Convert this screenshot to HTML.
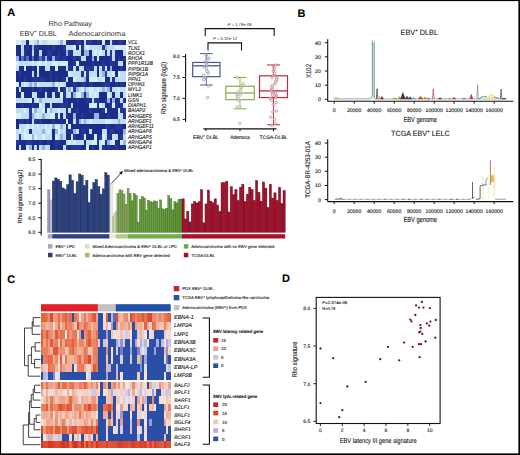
<!DOCTYPE html>
<html><head><meta charset="utf-8"><style>
html,body{margin:0;padding:0;background:#fff;}
svg{display:block;font-family:"Liberation Sans",sans-serif;text-rendering:geometricPrecision;}
text{stroke:#222;stroke-width:0.22px;stroke-opacity:0.6}
</style></head><body>
<svg width="520" height="455" viewBox="0 0 520 455" shape-rendering="auto">
<rect width="520" height="455" fill="#fff"/>
<text x="7.20" y="16.20" font-size="11" fill="#000" text-anchor="start" font-weight="bold">A</text>
<text x="297.50" y="17.00" font-size="11" fill="#000" text-anchor="start" font-weight="bold">B</text>
<text x="7.20" y="282.50" font-size="11" fill="#000" text-anchor="start" font-weight="bold">C</text>
<text x="282.00" y="281.80" font-size="11" fill="#000" text-anchor="start" font-weight="bold">D</text>
<text x="48.60" y="25.70" font-size="7.2" fill="#333" text-anchor="start" textLength="43.30" lengthAdjust="spacingAndGlyphs" style="stroke:none">Rho Pathway</text>
<text x="19.80" y="35.60" font-size="7.2" fill="#333" text-anchor="start" style="stroke:none">EBV<tspan font-size="4.5" dy="-2.5">+</tspan><tspan dy="2.5"> DLBL</tspan></text>
<text x="68.40" y="35.60" font-size="7.2" fill="#333" text-anchor="start" textLength="57.00" lengthAdjust="spacingAndGlyphs" style="stroke:none">Adenocarcinoma</text>
<rect x="16.00" y="40.00" width="2.66" height="5.29" fill="#d6eef9" shape-rendering="crispEdges"/>
<rect x="18.61" y="40.00" width="2.66" height="5.29" fill="#d6eef9" shape-rendering="crispEdges"/>
<rect x="21.21" y="40.00" width="2.66" height="5.29" fill="#c0def4" shape-rendering="crispEdges"/>
<rect x="23.82" y="40.00" width="2.66" height="5.29" fill="#c0def4" shape-rendering="crispEdges"/>
<rect x="26.42" y="40.00" width="2.66" height="5.29" fill="#1c2c88" shape-rendering="crispEdges"/>
<rect x="29.03" y="40.00" width="2.66" height="5.29" fill="#d6eef9" shape-rendering="crispEdges"/>
<rect x="31.63" y="40.00" width="2.66" height="5.29" fill="#d6eef9" shape-rendering="crispEdges"/>
<rect x="34.24" y="40.00" width="2.66" height="5.29" fill="#c0def4" shape-rendering="crispEdges"/>
<rect x="36.84" y="40.00" width="2.66" height="5.29" fill="#94b4e2" shape-rendering="crispEdges"/>
<rect x="39.45" y="40.00" width="2.66" height="5.29" fill="#d6eef9" shape-rendering="crispEdges"/>
<rect x="42.05" y="40.00" width="2.66" height="5.29" fill="#c0def4" shape-rendering="crispEdges"/>
<rect x="44.66" y="40.00" width="2.66" height="5.29" fill="#c0def4" shape-rendering="crispEdges"/>
<rect x="47.26" y="40.00" width="2.66" height="5.29" fill="#d6eef9" shape-rendering="crispEdges"/>
<rect x="49.87" y="40.00" width="2.66" height="5.29" fill="#d6eef9" shape-rendering="crispEdges"/>
<rect x="52.47" y="40.00" width="2.66" height="5.29" fill="#d6eef9" shape-rendering="crispEdges"/>
<rect x="55.08" y="40.00" width="2.66" height="5.29" fill="#d6eef9" shape-rendering="crispEdges"/>
<rect x="57.68" y="40.00" width="2.66" height="5.29" fill="#c0def4" shape-rendering="crispEdges"/>
<rect x="60.29" y="40.00" width="2.66" height="5.29" fill="#94b4e2" shape-rendering="crispEdges"/>
<rect x="62.89" y="40.00" width="2.66" height="5.29" fill="#d6eef9" shape-rendering="crispEdges"/>
<rect x="65.50" y="40.00" width="2.66" height="5.29" fill="#24379a" shape-rendering="crispEdges"/>
<rect x="68.11" y="40.00" width="2.66" height="5.29" fill="#1c2c88" shape-rendering="crispEdges"/>
<rect x="70.72" y="40.00" width="2.66" height="5.29" fill="#1c2c88" shape-rendering="crispEdges"/>
<rect x="73.33" y="40.00" width="2.66" height="5.29" fill="#1c2c88" shape-rendering="crispEdges"/>
<rect x="75.93" y="40.00" width="2.66" height="5.29" fill="#24379a" shape-rendering="crispEdges"/>
<rect x="78.54" y="40.00" width="2.66" height="5.29" fill="#24379a" shape-rendering="crispEdges"/>
<rect x="81.15" y="40.00" width="2.66" height="5.29" fill="#1c2c88" shape-rendering="crispEdges"/>
<rect x="83.76" y="40.00" width="2.66" height="5.29" fill="#c0def4" shape-rendering="crispEdges"/>
<rect x="86.37" y="40.00" width="2.66" height="5.29" fill="#24379a" shape-rendering="crispEdges"/>
<rect x="88.98" y="40.00" width="2.66" height="5.29" fill="#24379a" shape-rendering="crispEdges"/>
<rect x="91.59" y="40.00" width="2.66" height="5.29" fill="#1c2c88" shape-rendering="crispEdges"/>
<rect x="94.20" y="40.00" width="2.66" height="5.29" fill="#1c2c88" shape-rendering="crispEdges"/>
<rect x="96.80" y="40.00" width="2.66" height="5.29" fill="#24379a" shape-rendering="crispEdges"/>
<rect x="99.41" y="40.00" width="2.66" height="5.29" fill="#1c2c88" shape-rendering="crispEdges"/>
<rect x="102.02" y="40.00" width="2.66" height="5.29" fill="#d6eef9" shape-rendering="crispEdges"/>
<rect x="104.63" y="40.00" width="2.66" height="5.29" fill="#1c2c88" shape-rendering="crispEdges"/>
<rect x="107.24" y="40.00" width="2.66" height="5.29" fill="#1c2c88" shape-rendering="crispEdges"/>
<rect x="109.85" y="40.00" width="2.66" height="5.29" fill="#c0def4" shape-rendering="crispEdges"/>
<rect x="112.46" y="40.00" width="2.66" height="5.29" fill="#24379a" shape-rendering="crispEdges"/>
<rect x="115.07" y="40.00" width="2.66" height="5.29" fill="#1c2c88" shape-rendering="crispEdges"/>
<rect x="117.67" y="40.00" width="2.66" height="5.29" fill="#24379a" shape-rendering="crispEdges"/>
<rect x="120.28" y="40.00" width="2.66" height="5.29" fill="#24379a" shape-rendering="crispEdges"/>
<rect x="122.89" y="40.00" width="2.66" height="5.29" fill="#1c2c88" shape-rendering="crispEdges"/>
<text x="0" y="44.34" font-size="5.5" fill="#1a1a1a" font-style="italic" transform="translate(128.0,0) scale(0.9,1)">VCL</text>
<rect x="16.00" y="45.24" width="2.66" height="5.29" fill="#1c2c88" shape-rendering="crispEdges"/>
<rect x="18.61" y="45.24" width="2.66" height="5.29" fill="#1c2c88" shape-rendering="crispEdges"/>
<rect x="21.21" y="45.24" width="2.66" height="5.29" fill="#c0def4" shape-rendering="crispEdges"/>
<rect x="23.82" y="45.24" width="2.66" height="5.29" fill="#1c2c88" shape-rendering="crispEdges"/>
<rect x="26.42" y="45.24" width="2.66" height="5.29" fill="#24379a" shape-rendering="crispEdges"/>
<rect x="29.03" y="45.24" width="2.66" height="5.29" fill="#1c2c88" shape-rendering="crispEdges"/>
<rect x="31.63" y="45.24" width="2.66" height="5.29" fill="#94b4e2" shape-rendering="crispEdges"/>
<rect x="34.24" y="45.24" width="2.66" height="5.29" fill="#24379a" shape-rendering="crispEdges"/>
<rect x="36.84" y="45.24" width="2.66" height="5.29" fill="#24379a" shape-rendering="crispEdges"/>
<rect x="39.45" y="45.24" width="2.66" height="5.29" fill="#1c2c88" shape-rendering="crispEdges"/>
<rect x="42.05" y="45.24" width="2.66" height="5.29" fill="#1c2c88" shape-rendering="crispEdges"/>
<rect x="44.66" y="45.24" width="2.66" height="5.29" fill="#1c2c88" shape-rendering="crispEdges"/>
<rect x="47.26" y="45.24" width="2.66" height="5.29" fill="#1c2c88" shape-rendering="crispEdges"/>
<rect x="49.87" y="45.24" width="2.66" height="5.29" fill="#1c2c88" shape-rendering="crispEdges"/>
<rect x="52.47" y="45.24" width="2.66" height="5.29" fill="#24379a" shape-rendering="crispEdges"/>
<rect x="55.08" y="45.24" width="2.66" height="5.29" fill="#1c2c88" shape-rendering="crispEdges"/>
<rect x="57.68" y="45.24" width="2.66" height="5.29" fill="#1c2c88" shape-rendering="crispEdges"/>
<rect x="60.29" y="45.24" width="2.66" height="5.29" fill="#1c2c88" shape-rendering="crispEdges"/>
<rect x="62.89" y="45.24" width="2.66" height="5.29" fill="#24379a" shape-rendering="crispEdges"/>
<rect x="65.50" y="45.24" width="2.66" height="5.29" fill="#c0def4" shape-rendering="crispEdges"/>
<rect x="68.11" y="45.24" width="2.66" height="5.29" fill="#c0def4" shape-rendering="crispEdges"/>
<rect x="70.72" y="45.24" width="2.66" height="5.29" fill="#c0def4" shape-rendering="crispEdges"/>
<rect x="73.33" y="45.24" width="2.66" height="5.29" fill="#d6eef9" shape-rendering="crispEdges"/>
<rect x="75.93" y="45.24" width="2.66" height="5.29" fill="#1c2c88" shape-rendering="crispEdges"/>
<rect x="78.54" y="45.24" width="2.66" height="5.29" fill="#d6eef9" shape-rendering="crispEdges"/>
<rect x="81.15" y="45.24" width="2.66" height="5.29" fill="#24379a" shape-rendering="crispEdges"/>
<rect x="83.76" y="45.24" width="2.66" height="5.29" fill="#c0def4" shape-rendering="crispEdges"/>
<rect x="86.37" y="45.24" width="2.66" height="5.29" fill="#d6eef9" shape-rendering="crispEdges"/>
<rect x="88.98" y="45.24" width="2.66" height="5.29" fill="#c0def4" shape-rendering="crispEdges"/>
<rect x="91.59" y="45.24" width="2.66" height="5.29" fill="#c0def4" shape-rendering="crispEdges"/>
<rect x="94.20" y="45.24" width="2.66" height="5.29" fill="#c0def4" shape-rendering="crispEdges"/>
<rect x="96.80" y="45.24" width="2.66" height="5.29" fill="#c0def4" shape-rendering="crispEdges"/>
<rect x="99.41" y="45.24" width="2.66" height="5.29" fill="#c0def4" shape-rendering="crispEdges"/>
<rect x="102.02" y="45.24" width="2.66" height="5.29" fill="#24379a" shape-rendering="crispEdges"/>
<rect x="104.63" y="45.24" width="2.66" height="5.29" fill="#94b4e2" shape-rendering="crispEdges"/>
<rect x="107.24" y="45.24" width="2.66" height="5.29" fill="#c0def4" shape-rendering="crispEdges"/>
<rect x="109.85" y="45.24" width="2.66" height="5.29" fill="#c0def4" shape-rendering="crispEdges"/>
<rect x="112.46" y="45.24" width="2.66" height="5.29" fill="#c0def4" shape-rendering="crispEdges"/>
<rect x="115.07" y="45.24" width="2.66" height="5.29" fill="#d6eef9" shape-rendering="crispEdges"/>
<rect x="117.67" y="45.24" width="2.66" height="5.29" fill="#d6eef9" shape-rendering="crispEdges"/>
<rect x="120.28" y="45.24" width="2.66" height="5.29" fill="#d6eef9" shape-rendering="crispEdges"/>
<rect x="122.89" y="45.24" width="2.66" height="5.29" fill="#d6eef9" shape-rendering="crispEdges"/>
<text x="0" y="49.58" font-size="5.5" fill="#1a1a1a" font-style="italic" transform="translate(128.0,0) scale(0.9,1)">TLN1</text>
<rect x="16.00" y="50.48" width="2.66" height="5.29" fill="#1c2c88" shape-rendering="crispEdges"/>
<rect x="18.61" y="50.48" width="2.66" height="5.29" fill="#1c2c88" shape-rendering="crispEdges"/>
<rect x="21.21" y="50.48" width="2.66" height="5.29" fill="#c0def4" shape-rendering="crispEdges"/>
<rect x="23.82" y="50.48" width="2.66" height="5.29" fill="#24379a" shape-rendering="crispEdges"/>
<rect x="26.42" y="50.48" width="2.66" height="5.29" fill="#1c2c88" shape-rendering="crispEdges"/>
<rect x="29.03" y="50.48" width="2.66" height="5.29" fill="#1c2c88" shape-rendering="crispEdges"/>
<rect x="31.63" y="50.48" width="2.66" height="5.29" fill="#c0def4" shape-rendering="crispEdges"/>
<rect x="34.24" y="50.48" width="2.66" height="5.29" fill="#1c2c88" shape-rendering="crispEdges"/>
<rect x="36.84" y="50.48" width="2.66" height="5.29" fill="#1c2c88" shape-rendering="crispEdges"/>
<rect x="39.45" y="50.48" width="2.66" height="5.29" fill="#c0def4" shape-rendering="crispEdges"/>
<rect x="42.05" y="50.48" width="2.66" height="5.29" fill="#1c2c88" shape-rendering="crispEdges"/>
<rect x="44.66" y="50.48" width="2.66" height="5.29" fill="#1c2c88" shape-rendering="crispEdges"/>
<rect x="47.26" y="50.48" width="2.66" height="5.29" fill="#24379a" shape-rendering="crispEdges"/>
<rect x="49.87" y="50.48" width="2.66" height="5.29" fill="#24379a" shape-rendering="crispEdges"/>
<rect x="52.47" y="50.48" width="2.66" height="5.29" fill="#1c2c88" shape-rendering="crispEdges"/>
<rect x="55.08" y="50.48" width="2.66" height="5.29" fill="#1c2c88" shape-rendering="crispEdges"/>
<rect x="57.68" y="50.48" width="2.66" height="5.29" fill="#24379a" shape-rendering="crispEdges"/>
<rect x="60.29" y="50.48" width="2.66" height="5.29" fill="#1c2c88" shape-rendering="crispEdges"/>
<rect x="62.89" y="50.48" width="2.66" height="5.29" fill="#1c2c88" shape-rendering="crispEdges"/>
<rect x="65.50" y="50.48" width="2.66" height="5.29" fill="#94b4e2" shape-rendering="crispEdges"/>
<rect x="68.11" y="50.48" width="2.66" height="5.29" fill="#24379a" shape-rendering="crispEdges"/>
<rect x="70.72" y="50.48" width="2.66" height="5.29" fill="#1c2c88" shape-rendering="crispEdges"/>
<rect x="73.33" y="50.48" width="2.66" height="5.29" fill="#c0def4" shape-rendering="crispEdges"/>
<rect x="75.93" y="50.48" width="2.66" height="5.29" fill="#c0def4" shape-rendering="crispEdges"/>
<rect x="78.54" y="50.48" width="2.66" height="5.29" fill="#c0def4" shape-rendering="crispEdges"/>
<rect x="81.15" y="50.48" width="2.66" height="5.29" fill="#1c2c88" shape-rendering="crispEdges"/>
<rect x="83.76" y="50.48" width="2.66" height="5.29" fill="#94b4e2" shape-rendering="crispEdges"/>
<rect x="86.37" y="50.48" width="2.66" height="5.29" fill="#94b4e2" shape-rendering="crispEdges"/>
<rect x="88.98" y="50.48" width="2.66" height="5.29" fill="#1c2c88" shape-rendering="crispEdges"/>
<rect x="91.59" y="50.48" width="2.66" height="5.29" fill="#c0def4" shape-rendering="crispEdges"/>
<rect x="94.20" y="50.48" width="2.66" height="5.29" fill="#d6eef9" shape-rendering="crispEdges"/>
<rect x="96.80" y="50.48" width="2.66" height="5.29" fill="#c0def4" shape-rendering="crispEdges"/>
<rect x="99.41" y="50.48" width="2.66" height="5.29" fill="#d6eef9" shape-rendering="crispEdges"/>
<rect x="102.02" y="50.48" width="2.66" height="5.29" fill="#c0def4" shape-rendering="crispEdges"/>
<rect x="104.63" y="50.48" width="2.66" height="5.29" fill="#24379a" shape-rendering="crispEdges"/>
<rect x="107.24" y="50.48" width="2.66" height="5.29" fill="#c0def4" shape-rendering="crispEdges"/>
<rect x="109.85" y="50.48" width="2.66" height="5.29" fill="#24379a" shape-rendering="crispEdges"/>
<rect x="112.46" y="50.48" width="2.66" height="5.29" fill="#c0def4" shape-rendering="crispEdges"/>
<rect x="115.07" y="50.48" width="2.66" height="5.29" fill="#1c2c88" shape-rendering="crispEdges"/>
<rect x="117.67" y="50.48" width="2.66" height="5.29" fill="#1c2c88" shape-rendering="crispEdges"/>
<rect x="120.28" y="50.48" width="2.66" height="5.29" fill="#1c2c88" shape-rendering="crispEdges"/>
<rect x="122.89" y="50.48" width="2.66" height="5.29" fill="#c0def4" shape-rendering="crispEdges"/>
<text x="0" y="54.81" font-size="5.5" fill="#1a1a1a" font-style="italic" transform="translate(128.0,0) scale(0.9,1)">ROCK1</text>
<rect x="16.00" y="55.71" width="2.66" height="5.29" fill="#94b4e2" shape-rendering="crispEdges"/>
<rect x="18.61" y="55.71" width="2.66" height="5.29" fill="#1c2c88" shape-rendering="crispEdges"/>
<rect x="21.21" y="55.71" width="2.66" height="5.29" fill="#5570c0" shape-rendering="crispEdges"/>
<rect x="23.82" y="55.71" width="2.66" height="5.29" fill="#24379a" shape-rendering="crispEdges"/>
<rect x="26.42" y="55.71" width="2.66" height="5.29" fill="#5570c0" shape-rendering="crispEdges"/>
<rect x="29.03" y="55.71" width="2.66" height="5.29" fill="#1c2c88" shape-rendering="crispEdges"/>
<rect x="31.63" y="55.71" width="2.66" height="5.29" fill="#5570c0" shape-rendering="crispEdges"/>
<rect x="34.24" y="55.71" width="2.66" height="5.29" fill="#1c2c88" shape-rendering="crispEdges"/>
<rect x="36.84" y="55.71" width="2.66" height="5.29" fill="#24379a" shape-rendering="crispEdges"/>
<rect x="39.45" y="55.71" width="2.66" height="5.29" fill="#5570c0" shape-rendering="crispEdges"/>
<rect x="42.05" y="55.71" width="2.66" height="5.29" fill="#24379a" shape-rendering="crispEdges"/>
<rect x="44.66" y="55.71" width="2.66" height="5.29" fill="#94b4e2" shape-rendering="crispEdges"/>
<rect x="47.26" y="55.71" width="2.66" height="5.29" fill="#24379a" shape-rendering="crispEdges"/>
<rect x="49.87" y="55.71" width="2.66" height="5.29" fill="#1c2c88" shape-rendering="crispEdges"/>
<rect x="52.47" y="55.71" width="2.66" height="5.29" fill="#94b4e2" shape-rendering="crispEdges"/>
<rect x="55.08" y="55.71" width="2.66" height="5.29" fill="#24379a" shape-rendering="crispEdges"/>
<rect x="57.68" y="55.71" width="2.66" height="5.29" fill="#24379a" shape-rendering="crispEdges"/>
<rect x="60.29" y="55.71" width="2.66" height="5.29" fill="#1c2c88" shape-rendering="crispEdges"/>
<rect x="62.89" y="55.71" width="2.66" height="5.29" fill="#24379a" shape-rendering="crispEdges"/>
<rect x="65.50" y="55.71" width="2.66" height="5.29" fill="#1c2c88" shape-rendering="crispEdges"/>
<rect x="68.11" y="55.71" width="2.66" height="5.29" fill="#1c2c88" shape-rendering="crispEdges"/>
<rect x="70.72" y="55.71" width="2.66" height="5.29" fill="#1c2c88" shape-rendering="crispEdges"/>
<rect x="73.33" y="55.71" width="2.66" height="5.29" fill="#24379a" shape-rendering="crispEdges"/>
<rect x="75.93" y="55.71" width="2.66" height="5.29" fill="#1c2c88" shape-rendering="crispEdges"/>
<rect x="78.54" y="55.71" width="2.66" height="5.29" fill="#24379a" shape-rendering="crispEdges"/>
<rect x="81.15" y="55.71" width="2.66" height="5.29" fill="#c0def4" shape-rendering="crispEdges"/>
<rect x="83.76" y="55.71" width="2.66" height="5.29" fill="#c0def4" shape-rendering="crispEdges"/>
<rect x="86.37" y="55.71" width="2.66" height="5.29" fill="#1c2c88" shape-rendering="crispEdges"/>
<rect x="88.98" y="55.71" width="2.66" height="5.29" fill="#1c2c88" shape-rendering="crispEdges"/>
<rect x="91.59" y="55.71" width="2.66" height="5.29" fill="#94b4e2" shape-rendering="crispEdges"/>
<rect x="94.20" y="55.71" width="2.66" height="5.29" fill="#1c2c88" shape-rendering="crispEdges"/>
<rect x="96.80" y="55.71" width="2.66" height="5.29" fill="#d6eef9" shape-rendering="crispEdges"/>
<rect x="99.41" y="55.71" width="2.66" height="5.29" fill="#1c2c88" shape-rendering="crispEdges"/>
<rect x="102.02" y="55.71" width="2.66" height="5.29" fill="#1c2c88" shape-rendering="crispEdges"/>
<rect x="104.63" y="55.71" width="2.66" height="5.29" fill="#1c2c88" shape-rendering="crispEdges"/>
<rect x="107.24" y="55.71" width="2.66" height="5.29" fill="#1c2c88" shape-rendering="crispEdges"/>
<rect x="109.85" y="55.71" width="2.66" height="5.29" fill="#24379a" shape-rendering="crispEdges"/>
<rect x="112.46" y="55.71" width="2.66" height="5.29" fill="#c0def4" shape-rendering="crispEdges"/>
<rect x="115.07" y="55.71" width="2.66" height="5.29" fill="#1c2c88" shape-rendering="crispEdges"/>
<rect x="117.67" y="55.71" width="2.66" height="5.29" fill="#24379a" shape-rendering="crispEdges"/>
<rect x="120.28" y="55.71" width="2.66" height="5.29" fill="#1c2c88" shape-rendering="crispEdges"/>
<rect x="122.89" y="55.71" width="2.66" height="5.29" fill="#24379a" shape-rendering="crispEdges"/>
<text x="0" y="60.05" font-size="5.5" fill="#1a1a1a" font-style="italic" transform="translate(128.0,0) scale(0.9,1)">RHOA</text>
<rect x="16.00" y="60.95" width="2.66" height="5.29" fill="#d6eef9" shape-rendering="crispEdges"/>
<rect x="18.61" y="60.95" width="2.66" height="5.29" fill="#c0def4" shape-rendering="crispEdges"/>
<rect x="21.21" y="60.95" width="2.66" height="5.29" fill="#c0def4" shape-rendering="crispEdges"/>
<rect x="23.82" y="60.95" width="2.66" height="5.29" fill="#c0def4" shape-rendering="crispEdges"/>
<rect x="26.42" y="60.95" width="2.66" height="5.29" fill="#c0def4" shape-rendering="crispEdges"/>
<rect x="29.03" y="60.95" width="2.66" height="5.29" fill="#c0def4" shape-rendering="crispEdges"/>
<rect x="31.63" y="60.95" width="2.66" height="5.29" fill="#d6eef9" shape-rendering="crispEdges"/>
<rect x="34.24" y="60.95" width="2.66" height="5.29" fill="#c0def4" shape-rendering="crispEdges"/>
<rect x="36.84" y="60.95" width="2.66" height="5.29" fill="#d6eef9" shape-rendering="crispEdges"/>
<rect x="39.45" y="60.95" width="2.66" height="5.29" fill="#d6eef9" shape-rendering="crispEdges"/>
<rect x="42.05" y="60.95" width="2.66" height="5.29" fill="#c0def4" shape-rendering="crispEdges"/>
<rect x="44.66" y="60.95" width="2.66" height="5.29" fill="#d6eef9" shape-rendering="crispEdges"/>
<rect x="47.26" y="60.95" width="2.66" height="5.29" fill="#c0def4" shape-rendering="crispEdges"/>
<rect x="49.87" y="60.95" width="2.66" height="5.29" fill="#c0def4" shape-rendering="crispEdges"/>
<rect x="52.47" y="60.95" width="2.66" height="5.29" fill="#d6eef9" shape-rendering="crispEdges"/>
<rect x="55.08" y="60.95" width="2.66" height="5.29" fill="#d6eef9" shape-rendering="crispEdges"/>
<rect x="57.68" y="60.95" width="2.66" height="5.29" fill="#c0def4" shape-rendering="crispEdges"/>
<rect x="60.29" y="60.95" width="2.66" height="5.29" fill="#d6eef9" shape-rendering="crispEdges"/>
<rect x="62.89" y="60.95" width="2.66" height="5.29" fill="#d6eef9" shape-rendering="crispEdges"/>
<rect x="65.50" y="60.95" width="2.66" height="5.29" fill="#d6eef9" shape-rendering="crispEdges"/>
<rect x="68.11" y="60.95" width="2.66" height="5.29" fill="#1c2c88" shape-rendering="crispEdges"/>
<rect x="70.72" y="60.95" width="2.66" height="5.29" fill="#1c2c88" shape-rendering="crispEdges"/>
<rect x="73.33" y="60.95" width="2.66" height="5.29" fill="#24379a" shape-rendering="crispEdges"/>
<rect x="75.93" y="60.95" width="2.66" height="5.29" fill="#d6eef9" shape-rendering="crispEdges"/>
<rect x="78.54" y="60.95" width="2.66" height="5.29" fill="#1c2c88" shape-rendering="crispEdges"/>
<rect x="81.15" y="60.95" width="2.66" height="5.29" fill="#1c2c88" shape-rendering="crispEdges"/>
<rect x="83.76" y="60.95" width="2.66" height="5.29" fill="#1c2c88" shape-rendering="crispEdges"/>
<rect x="86.37" y="60.95" width="2.66" height="5.29" fill="#1c2c88" shape-rendering="crispEdges"/>
<rect x="88.98" y="60.95" width="2.66" height="5.29" fill="#1c2c88" shape-rendering="crispEdges"/>
<rect x="91.59" y="60.95" width="2.66" height="5.29" fill="#24379a" shape-rendering="crispEdges"/>
<rect x="94.20" y="60.95" width="2.66" height="5.29" fill="#1c2c88" shape-rendering="crispEdges"/>
<rect x="96.80" y="60.95" width="2.66" height="5.29" fill="#1c2c88" shape-rendering="crispEdges"/>
<rect x="99.41" y="60.95" width="2.66" height="5.29" fill="#1c2c88" shape-rendering="crispEdges"/>
<rect x="102.02" y="60.95" width="2.66" height="5.29" fill="#24379a" shape-rendering="crispEdges"/>
<rect x="104.63" y="60.95" width="2.66" height="5.29" fill="#1c2c88" shape-rendering="crispEdges"/>
<rect x="107.24" y="60.95" width="2.66" height="5.29" fill="#1c2c88" shape-rendering="crispEdges"/>
<rect x="109.85" y="60.95" width="2.66" height="5.29" fill="#24379a" shape-rendering="crispEdges"/>
<rect x="112.46" y="60.95" width="2.66" height="5.29" fill="#24379a" shape-rendering="crispEdges"/>
<rect x="115.07" y="60.95" width="2.66" height="5.29" fill="#1c2c88" shape-rendering="crispEdges"/>
<rect x="117.67" y="60.95" width="2.66" height="5.29" fill="#c0def4" shape-rendering="crispEdges"/>
<rect x="120.28" y="60.95" width="2.66" height="5.29" fill="#c0def4" shape-rendering="crispEdges"/>
<rect x="122.89" y="60.95" width="2.66" height="5.29" fill="#1c2c88" shape-rendering="crispEdges"/>
<text x="0" y="65.29" font-size="5.5" fill="#1a1a1a" font-style="italic" transform="translate(128.0,0) scale(0.9,1)">PPP1R12B</text>
<rect x="16.00" y="66.19" width="2.66" height="5.29" fill="#c0def4" shape-rendering="crispEdges"/>
<rect x="18.61" y="66.19" width="2.66" height="5.29" fill="#1c2c88" shape-rendering="crispEdges"/>
<rect x="21.21" y="66.19" width="2.66" height="5.29" fill="#1c2c88" shape-rendering="crispEdges"/>
<rect x="23.82" y="66.19" width="2.66" height="5.29" fill="#d6eef9" shape-rendering="crispEdges"/>
<rect x="26.42" y="66.19" width="2.66" height="5.29" fill="#1c2c88" shape-rendering="crispEdges"/>
<rect x="29.03" y="66.19" width="2.66" height="5.29" fill="#1c2c88" shape-rendering="crispEdges"/>
<rect x="31.63" y="66.19" width="2.66" height="5.29" fill="#24379a" shape-rendering="crispEdges"/>
<rect x="34.24" y="66.19" width="2.66" height="5.29" fill="#1c2c88" shape-rendering="crispEdges"/>
<rect x="36.84" y="66.19" width="2.66" height="5.29" fill="#d6eef9" shape-rendering="crispEdges"/>
<rect x="39.45" y="66.19" width="2.66" height="5.29" fill="#1c2c88" shape-rendering="crispEdges"/>
<rect x="42.05" y="66.19" width="2.66" height="5.29" fill="#1c2c88" shape-rendering="crispEdges"/>
<rect x="44.66" y="66.19" width="2.66" height="5.29" fill="#c0def4" shape-rendering="crispEdges"/>
<rect x="47.26" y="66.19" width="2.66" height="5.29" fill="#c0def4" shape-rendering="crispEdges"/>
<rect x="49.87" y="66.19" width="2.66" height="5.29" fill="#1c2c88" shape-rendering="crispEdges"/>
<rect x="52.47" y="66.19" width="2.66" height="5.29" fill="#1c2c88" shape-rendering="crispEdges"/>
<rect x="55.08" y="66.19" width="2.66" height="5.29" fill="#d6eef9" shape-rendering="crispEdges"/>
<rect x="57.68" y="66.19" width="2.66" height="5.29" fill="#1c2c88" shape-rendering="crispEdges"/>
<rect x="60.29" y="66.19" width="2.66" height="5.29" fill="#1c2c88" shape-rendering="crispEdges"/>
<rect x="62.89" y="66.19" width="2.66" height="5.29" fill="#1c2c88" shape-rendering="crispEdges"/>
<rect x="65.50" y="66.19" width="2.66" height="5.29" fill="#c0def4" shape-rendering="crispEdges"/>
<rect x="68.11" y="66.19" width="2.66" height="5.29" fill="#24379a" shape-rendering="crispEdges"/>
<rect x="70.72" y="66.19" width="2.66" height="5.29" fill="#1c2c88" shape-rendering="crispEdges"/>
<rect x="73.33" y="66.19" width="2.66" height="5.29" fill="#c0def4" shape-rendering="crispEdges"/>
<rect x="75.93" y="66.19" width="2.66" height="5.29" fill="#1c2c88" shape-rendering="crispEdges"/>
<rect x="78.54" y="66.19" width="2.66" height="5.29" fill="#c0def4" shape-rendering="crispEdges"/>
<rect x="81.15" y="66.19" width="2.66" height="5.29" fill="#c0def4" shape-rendering="crispEdges"/>
<rect x="83.76" y="66.19" width="2.66" height="5.29" fill="#1c2c88" shape-rendering="crispEdges"/>
<rect x="86.37" y="66.19" width="2.66" height="5.29" fill="#24379a" shape-rendering="crispEdges"/>
<rect x="88.98" y="66.19" width="2.66" height="5.29" fill="#24379a" shape-rendering="crispEdges"/>
<rect x="91.59" y="66.19" width="2.66" height="5.29" fill="#24379a" shape-rendering="crispEdges"/>
<rect x="94.20" y="66.19" width="2.66" height="5.29" fill="#c0def4" shape-rendering="crispEdges"/>
<rect x="96.80" y="66.19" width="2.66" height="5.29" fill="#1c2c88" shape-rendering="crispEdges"/>
<rect x="99.41" y="66.19" width="2.66" height="5.29" fill="#c0def4" shape-rendering="crispEdges"/>
<rect x="102.02" y="66.19" width="2.66" height="5.29" fill="#24379a" shape-rendering="crispEdges"/>
<rect x="104.63" y="66.19" width="2.66" height="5.29" fill="#d6eef9" shape-rendering="crispEdges"/>
<rect x="107.24" y="66.19" width="2.66" height="5.29" fill="#1c2c88" shape-rendering="crispEdges"/>
<rect x="109.85" y="66.19" width="2.66" height="5.29" fill="#94b4e2" shape-rendering="crispEdges"/>
<rect x="112.46" y="66.19" width="2.66" height="5.29" fill="#1c2c88" shape-rendering="crispEdges"/>
<rect x="115.07" y="66.19" width="2.66" height="5.29" fill="#1c2c88" shape-rendering="crispEdges"/>
<rect x="117.67" y="66.19" width="2.66" height="5.29" fill="#1c2c88" shape-rendering="crispEdges"/>
<rect x="120.28" y="66.19" width="2.66" height="5.29" fill="#24379a" shape-rendering="crispEdges"/>
<rect x="122.89" y="66.19" width="2.66" height="5.29" fill="#1c2c88" shape-rendering="crispEdges"/>
<text x="0" y="70.53" font-size="5.5" fill="#1a1a1a" font-style="italic" transform="translate(128.0,0) scale(0.9,1)">PIP5K1B</text>
<rect x="16.00" y="71.43" width="2.66" height="5.29" fill="#1c2c88" shape-rendering="crispEdges"/>
<rect x="18.61" y="71.43" width="2.66" height="5.29" fill="#24379a" shape-rendering="crispEdges"/>
<rect x="21.21" y="71.43" width="2.66" height="5.29" fill="#1c2c88" shape-rendering="crispEdges"/>
<rect x="23.82" y="71.43" width="2.66" height="5.29" fill="#1c2c88" shape-rendering="crispEdges"/>
<rect x="26.42" y="71.43" width="2.66" height="5.29" fill="#1c2c88" shape-rendering="crispEdges"/>
<rect x="29.03" y="71.43" width="2.66" height="5.29" fill="#1c2c88" shape-rendering="crispEdges"/>
<rect x="31.63" y="71.43" width="2.66" height="5.29" fill="#c0def4" shape-rendering="crispEdges"/>
<rect x="34.24" y="71.43" width="2.66" height="5.29" fill="#1c2c88" shape-rendering="crispEdges"/>
<rect x="36.84" y="71.43" width="2.66" height="5.29" fill="#c0def4" shape-rendering="crispEdges"/>
<rect x="39.45" y="71.43" width="2.66" height="5.29" fill="#1c2c88" shape-rendering="crispEdges"/>
<rect x="42.05" y="71.43" width="2.66" height="5.29" fill="#1c2c88" shape-rendering="crispEdges"/>
<rect x="44.66" y="71.43" width="2.66" height="5.29" fill="#1c2c88" shape-rendering="crispEdges"/>
<rect x="47.26" y="71.43" width="2.66" height="5.29" fill="#1c2c88" shape-rendering="crispEdges"/>
<rect x="49.87" y="71.43" width="2.66" height="5.29" fill="#24379a" shape-rendering="crispEdges"/>
<rect x="52.47" y="71.43" width="2.66" height="5.29" fill="#1c2c88" shape-rendering="crispEdges"/>
<rect x="55.08" y="71.43" width="2.66" height="5.29" fill="#1c2c88" shape-rendering="crispEdges"/>
<rect x="57.68" y="71.43" width="2.66" height="5.29" fill="#1c2c88" shape-rendering="crispEdges"/>
<rect x="60.29" y="71.43" width="2.66" height="5.29" fill="#1c2c88" shape-rendering="crispEdges"/>
<rect x="62.89" y="71.43" width="2.66" height="5.29" fill="#1c2c88" shape-rendering="crispEdges"/>
<rect x="65.50" y="71.43" width="2.66" height="5.29" fill="#1c2c88" shape-rendering="crispEdges"/>
<rect x="68.11" y="71.43" width="2.66" height="5.29" fill="#d6eef9" shape-rendering="crispEdges"/>
<rect x="70.72" y="71.43" width="2.66" height="5.29" fill="#c0def4" shape-rendering="crispEdges"/>
<rect x="73.33" y="71.43" width="2.66" height="5.29" fill="#c0def4" shape-rendering="crispEdges"/>
<rect x="75.93" y="71.43" width="2.66" height="5.29" fill="#c0def4" shape-rendering="crispEdges"/>
<rect x="78.54" y="71.43" width="2.66" height="5.29" fill="#c0def4" shape-rendering="crispEdges"/>
<rect x="81.15" y="71.43" width="2.66" height="5.29" fill="#24379a" shape-rendering="crispEdges"/>
<rect x="83.76" y="71.43" width="2.66" height="5.29" fill="#d6eef9" shape-rendering="crispEdges"/>
<rect x="86.37" y="71.43" width="2.66" height="5.29" fill="#24379a" shape-rendering="crispEdges"/>
<rect x="88.98" y="71.43" width="2.66" height="5.29" fill="#c0def4" shape-rendering="crispEdges"/>
<rect x="91.59" y="71.43" width="2.66" height="5.29" fill="#c0def4" shape-rendering="crispEdges"/>
<rect x="94.20" y="71.43" width="2.66" height="5.29" fill="#c0def4" shape-rendering="crispEdges"/>
<rect x="96.80" y="71.43" width="2.66" height="5.29" fill="#1c2c88" shape-rendering="crispEdges"/>
<rect x="99.41" y="71.43" width="2.66" height="5.29" fill="#c0def4" shape-rendering="crispEdges"/>
<rect x="102.02" y="71.43" width="2.66" height="5.29" fill="#94b4e2" shape-rendering="crispEdges"/>
<rect x="104.63" y="71.43" width="2.66" height="5.29" fill="#24379a" shape-rendering="crispEdges"/>
<rect x="107.24" y="71.43" width="2.66" height="5.29" fill="#c0def4" shape-rendering="crispEdges"/>
<rect x="109.85" y="71.43" width="2.66" height="5.29" fill="#c0def4" shape-rendering="crispEdges"/>
<rect x="112.46" y="71.43" width="2.66" height="5.29" fill="#d6eef9" shape-rendering="crispEdges"/>
<rect x="115.07" y="71.43" width="2.66" height="5.29" fill="#1c2c88" shape-rendering="crispEdges"/>
<rect x="117.67" y="71.43" width="2.66" height="5.29" fill="#d6eef9" shape-rendering="crispEdges"/>
<rect x="120.28" y="71.43" width="2.66" height="5.29" fill="#c0def4" shape-rendering="crispEdges"/>
<rect x="122.89" y="71.43" width="2.66" height="5.29" fill="#c0def4" shape-rendering="crispEdges"/>
<text x="0" y="75.77" font-size="5.5" fill="#1a1a1a" font-style="italic" transform="translate(128.0,0) scale(0.9,1)">PIP5K1A</text>
<rect x="16.00" y="76.67" width="2.66" height="5.29" fill="#1c2c88" shape-rendering="crispEdges"/>
<rect x="18.61" y="76.67" width="2.66" height="5.29" fill="#1c2c88" shape-rendering="crispEdges"/>
<rect x="21.21" y="76.67" width="2.66" height="5.29" fill="#1c2c88" shape-rendering="crispEdges"/>
<rect x="23.82" y="76.67" width="2.66" height="5.29" fill="#24379a" shape-rendering="crispEdges"/>
<rect x="26.42" y="76.67" width="2.66" height="5.29" fill="#1c2c88" shape-rendering="crispEdges"/>
<rect x="29.03" y="76.67" width="2.66" height="5.29" fill="#1c2c88" shape-rendering="crispEdges"/>
<rect x="31.63" y="76.67" width="2.66" height="5.29" fill="#24379a" shape-rendering="crispEdges"/>
<rect x="34.24" y="76.67" width="2.66" height="5.29" fill="#24379a" shape-rendering="crispEdges"/>
<rect x="36.84" y="76.67" width="2.66" height="5.29" fill="#1c2c88" shape-rendering="crispEdges"/>
<rect x="39.45" y="76.67" width="2.66" height="5.29" fill="#24379a" shape-rendering="crispEdges"/>
<rect x="42.05" y="76.67" width="2.66" height="5.29" fill="#24379a" shape-rendering="crispEdges"/>
<rect x="44.66" y="76.67" width="2.66" height="5.29" fill="#1c2c88" shape-rendering="crispEdges"/>
<rect x="47.26" y="76.67" width="2.66" height="5.29" fill="#1c2c88" shape-rendering="crispEdges"/>
<rect x="49.87" y="76.67" width="2.66" height="5.29" fill="#24379a" shape-rendering="crispEdges"/>
<rect x="52.47" y="76.67" width="2.66" height="5.29" fill="#1c2c88" shape-rendering="crispEdges"/>
<rect x="55.08" y="76.67" width="2.66" height="5.29" fill="#24379a" shape-rendering="crispEdges"/>
<rect x="57.68" y="76.67" width="2.66" height="5.29" fill="#1c2c88" shape-rendering="crispEdges"/>
<rect x="60.29" y="76.67" width="2.66" height="5.29" fill="#1c2c88" shape-rendering="crispEdges"/>
<rect x="62.89" y="76.67" width="2.66" height="5.29" fill="#24379a" shape-rendering="crispEdges"/>
<rect x="65.50" y="76.67" width="2.66" height="5.29" fill="#c0def4" shape-rendering="crispEdges"/>
<rect x="68.11" y="76.67" width="2.66" height="5.29" fill="#1c2c88" shape-rendering="crispEdges"/>
<rect x="70.72" y="76.67" width="2.66" height="5.29" fill="#1c2c88" shape-rendering="crispEdges"/>
<rect x="73.33" y="76.67" width="2.66" height="5.29" fill="#d6eef9" shape-rendering="crispEdges"/>
<rect x="75.93" y="76.67" width="2.66" height="5.29" fill="#c0def4" shape-rendering="crispEdges"/>
<rect x="78.54" y="76.67" width="2.66" height="5.29" fill="#c0def4" shape-rendering="crispEdges"/>
<rect x="81.15" y="76.67" width="2.66" height="5.29" fill="#c0def4" shape-rendering="crispEdges"/>
<rect x="83.76" y="76.67" width="2.66" height="5.29" fill="#94b4e2" shape-rendering="crispEdges"/>
<rect x="86.37" y="76.67" width="2.66" height="5.29" fill="#1c2c88" shape-rendering="crispEdges"/>
<rect x="88.98" y="76.67" width="2.66" height="5.29" fill="#d6eef9" shape-rendering="crispEdges"/>
<rect x="91.59" y="76.67" width="2.66" height="5.29" fill="#d6eef9" shape-rendering="crispEdges"/>
<rect x="94.20" y="76.67" width="2.66" height="5.29" fill="#d6eef9" shape-rendering="crispEdges"/>
<rect x="96.80" y="76.67" width="2.66" height="5.29" fill="#c0def4" shape-rendering="crispEdges"/>
<rect x="99.41" y="76.67" width="2.66" height="5.29" fill="#c0def4" shape-rendering="crispEdges"/>
<rect x="102.02" y="76.67" width="2.66" height="5.29" fill="#d6eef9" shape-rendering="crispEdges"/>
<rect x="104.63" y="76.67" width="2.66" height="5.29" fill="#1c2c88" shape-rendering="crispEdges"/>
<rect x="107.24" y="76.67" width="2.66" height="5.29" fill="#1c2c88" shape-rendering="crispEdges"/>
<rect x="109.85" y="76.67" width="2.66" height="5.29" fill="#c0def4" shape-rendering="crispEdges"/>
<rect x="112.46" y="76.67" width="2.66" height="5.29" fill="#24379a" shape-rendering="crispEdges"/>
<rect x="115.07" y="76.67" width="2.66" height="5.29" fill="#c0def4" shape-rendering="crispEdges"/>
<rect x="117.67" y="76.67" width="2.66" height="5.29" fill="#c0def4" shape-rendering="crispEdges"/>
<rect x="120.28" y="76.67" width="2.66" height="5.29" fill="#c0def4" shape-rendering="crispEdges"/>
<rect x="122.89" y="76.67" width="2.66" height="5.29" fill="#c0def4" shape-rendering="crispEdges"/>
<text x="0" y="81.00" font-size="5.5" fill="#1a1a1a" font-style="italic" transform="translate(128.0,0) scale(0.9,1)">PFN1</text>
<rect x="16.00" y="81.90" width="2.66" height="5.29" fill="#d6eef9" shape-rendering="crispEdges"/>
<rect x="18.61" y="81.90" width="2.66" height="5.29" fill="#1c2c88" shape-rendering="crispEdges"/>
<rect x="21.21" y="81.90" width="2.66" height="5.29" fill="#c0def4" shape-rendering="crispEdges"/>
<rect x="23.82" y="81.90" width="2.66" height="5.29" fill="#d6eef9" shape-rendering="crispEdges"/>
<rect x="26.42" y="81.90" width="2.66" height="5.29" fill="#c0def4" shape-rendering="crispEdges"/>
<rect x="29.03" y="81.90" width="2.66" height="5.29" fill="#94b4e2" shape-rendering="crispEdges"/>
<rect x="31.63" y="81.90" width="2.66" height="5.29" fill="#c0def4" shape-rendering="crispEdges"/>
<rect x="34.24" y="81.90" width="2.66" height="5.29" fill="#94b4e2" shape-rendering="crispEdges"/>
<rect x="36.84" y="81.90" width="2.66" height="5.29" fill="#d6eef9" shape-rendering="crispEdges"/>
<rect x="39.45" y="81.90" width="2.66" height="5.29" fill="#c0def4" shape-rendering="crispEdges"/>
<rect x="42.05" y="81.90" width="2.66" height="5.29" fill="#c0def4" shape-rendering="crispEdges"/>
<rect x="44.66" y="81.90" width="2.66" height="5.29" fill="#c0def4" shape-rendering="crispEdges"/>
<rect x="47.26" y="81.90" width="2.66" height="5.29" fill="#c0def4" shape-rendering="crispEdges"/>
<rect x="49.87" y="81.90" width="2.66" height="5.29" fill="#c0def4" shape-rendering="crispEdges"/>
<rect x="52.47" y="81.90" width="2.66" height="5.29" fill="#94b4e2" shape-rendering="crispEdges"/>
<rect x="55.08" y="81.90" width="2.66" height="5.29" fill="#d6eef9" shape-rendering="crispEdges"/>
<rect x="57.68" y="81.90" width="2.66" height="5.29" fill="#c0def4" shape-rendering="crispEdges"/>
<rect x="60.29" y="81.90" width="2.66" height="5.29" fill="#d6eef9" shape-rendering="crispEdges"/>
<rect x="62.89" y="81.90" width="2.66" height="5.29" fill="#c0def4" shape-rendering="crispEdges"/>
<rect x="65.50" y="81.90" width="2.66" height="5.29" fill="#1c2c88" shape-rendering="crispEdges"/>
<rect x="68.11" y="81.90" width="2.66" height="5.29" fill="#1c2c88" shape-rendering="crispEdges"/>
<rect x="70.72" y="81.90" width="2.66" height="5.29" fill="#1c2c88" shape-rendering="crispEdges"/>
<rect x="73.33" y="81.90" width="2.66" height="5.29" fill="#24379a" shape-rendering="crispEdges"/>
<rect x="75.93" y="81.90" width="2.66" height="5.29" fill="#1c2c88" shape-rendering="crispEdges"/>
<rect x="78.54" y="81.90" width="2.66" height="5.29" fill="#1c2c88" shape-rendering="crispEdges"/>
<rect x="81.15" y="81.90" width="2.66" height="5.29" fill="#24379a" shape-rendering="crispEdges"/>
<rect x="83.76" y="81.90" width="2.66" height="5.29" fill="#24379a" shape-rendering="crispEdges"/>
<rect x="86.37" y="81.90" width="2.66" height="5.29" fill="#1c2c88" shape-rendering="crispEdges"/>
<rect x="88.98" y="81.90" width="2.66" height="5.29" fill="#24379a" shape-rendering="crispEdges"/>
<rect x="91.59" y="81.90" width="2.66" height="5.29" fill="#1c2c88" shape-rendering="crispEdges"/>
<rect x="94.20" y="81.90" width="2.66" height="5.29" fill="#1c2c88" shape-rendering="crispEdges"/>
<rect x="96.80" y="81.90" width="2.66" height="5.29" fill="#1c2c88" shape-rendering="crispEdges"/>
<rect x="99.41" y="81.90" width="2.66" height="5.29" fill="#1c2c88" shape-rendering="crispEdges"/>
<rect x="102.02" y="81.90" width="2.66" height="5.29" fill="#24379a" shape-rendering="crispEdges"/>
<rect x="104.63" y="81.90" width="2.66" height="5.29" fill="#24379a" shape-rendering="crispEdges"/>
<rect x="107.24" y="81.90" width="2.66" height="5.29" fill="#24379a" shape-rendering="crispEdges"/>
<rect x="109.85" y="81.90" width="2.66" height="5.29" fill="#1c2c88" shape-rendering="crispEdges"/>
<rect x="112.46" y="81.90" width="2.66" height="5.29" fill="#1c2c88" shape-rendering="crispEdges"/>
<rect x="115.07" y="81.90" width="2.66" height="5.29" fill="#24379a" shape-rendering="crispEdges"/>
<rect x="117.67" y="81.90" width="2.66" height="5.29" fill="#1c2c88" shape-rendering="crispEdges"/>
<rect x="120.28" y="81.90" width="2.66" height="5.29" fill="#24379a" shape-rendering="crispEdges"/>
<rect x="122.89" y="81.90" width="2.66" height="5.29" fill="#1c2c88" shape-rendering="crispEdges"/>
<text x="0" y="86.24" font-size="5.5" fill="#1a1a1a" font-style="italic" transform="translate(128.0,0) scale(0.9,1)">OPHN1</text>
<rect x="16.00" y="87.14" width="2.66" height="5.29" fill="#1c2c88" shape-rendering="crispEdges"/>
<rect x="18.61" y="87.14" width="2.66" height="5.29" fill="#c0def4" shape-rendering="crispEdges"/>
<rect x="21.21" y="87.14" width="2.66" height="5.29" fill="#1c2c88" shape-rendering="crispEdges"/>
<rect x="23.82" y="87.14" width="2.66" height="5.29" fill="#1c2c88" shape-rendering="crispEdges"/>
<rect x="26.42" y="87.14" width="2.66" height="5.29" fill="#1c2c88" shape-rendering="crispEdges"/>
<rect x="29.03" y="87.14" width="2.66" height="5.29" fill="#1c2c88" shape-rendering="crispEdges"/>
<rect x="31.63" y="87.14" width="2.66" height="5.29" fill="#24379a" shape-rendering="crispEdges"/>
<rect x="34.24" y="87.14" width="2.66" height="5.29" fill="#1c2c88" shape-rendering="crispEdges"/>
<rect x="36.84" y="87.14" width="2.66" height="5.29" fill="#1c2c88" shape-rendering="crispEdges"/>
<rect x="39.45" y="87.14" width="2.66" height="5.29" fill="#24379a" shape-rendering="crispEdges"/>
<rect x="42.05" y="87.14" width="2.66" height="5.29" fill="#1c2c88" shape-rendering="crispEdges"/>
<rect x="44.66" y="87.14" width="2.66" height="5.29" fill="#24379a" shape-rendering="crispEdges"/>
<rect x="47.26" y="87.14" width="2.66" height="5.29" fill="#1c2c88" shape-rendering="crispEdges"/>
<rect x="49.87" y="87.14" width="2.66" height="5.29" fill="#1c2c88" shape-rendering="crispEdges"/>
<rect x="52.47" y="87.14" width="2.66" height="5.29" fill="#1c2c88" shape-rendering="crispEdges"/>
<rect x="55.08" y="87.14" width="2.66" height="5.29" fill="#24379a" shape-rendering="crispEdges"/>
<rect x="57.68" y="87.14" width="2.66" height="5.29" fill="#d6eef9" shape-rendering="crispEdges"/>
<rect x="60.29" y="87.14" width="2.66" height="5.29" fill="#1c2c88" shape-rendering="crispEdges"/>
<rect x="62.89" y="87.14" width="2.66" height="5.29" fill="#24379a" shape-rendering="crispEdges"/>
<rect x="65.50" y="87.14" width="2.66" height="5.29" fill="#c0def4" shape-rendering="crispEdges"/>
<rect x="68.11" y="87.14" width="2.66" height="5.29" fill="#94b4e2" shape-rendering="crispEdges"/>
<rect x="70.72" y="87.14" width="2.66" height="5.29" fill="#d6eef9" shape-rendering="crispEdges"/>
<rect x="73.33" y="87.14" width="2.66" height="5.29" fill="#24379a" shape-rendering="crispEdges"/>
<rect x="75.93" y="87.14" width="2.66" height="5.29" fill="#94b4e2" shape-rendering="crispEdges"/>
<rect x="78.54" y="87.14" width="2.66" height="5.29" fill="#c0def4" shape-rendering="crispEdges"/>
<rect x="81.15" y="87.14" width="2.66" height="5.29" fill="#d6eef9" shape-rendering="crispEdges"/>
<rect x="83.76" y="87.14" width="2.66" height="5.29" fill="#94b4e2" shape-rendering="crispEdges"/>
<rect x="86.37" y="87.14" width="2.66" height="5.29" fill="#c0def4" shape-rendering="crispEdges"/>
<rect x="88.98" y="87.14" width="2.66" height="5.29" fill="#d6eef9" shape-rendering="crispEdges"/>
<rect x="91.59" y="87.14" width="2.66" height="5.29" fill="#d6eef9" shape-rendering="crispEdges"/>
<rect x="94.20" y="87.14" width="2.66" height="5.29" fill="#c0def4" shape-rendering="crispEdges"/>
<rect x="96.80" y="87.14" width="2.66" height="5.29" fill="#d6eef9" shape-rendering="crispEdges"/>
<rect x="99.41" y="87.14" width="2.66" height="5.29" fill="#c0def4" shape-rendering="crispEdges"/>
<rect x="102.02" y="87.14" width="2.66" height="5.29" fill="#94b4e2" shape-rendering="crispEdges"/>
<rect x="104.63" y="87.14" width="2.66" height="5.29" fill="#c0def4" shape-rendering="crispEdges"/>
<rect x="107.24" y="87.14" width="2.66" height="5.29" fill="#94b4e2" shape-rendering="crispEdges"/>
<rect x="109.85" y="87.14" width="2.66" height="5.29" fill="#24379a" shape-rendering="crispEdges"/>
<rect x="112.46" y="87.14" width="2.66" height="5.29" fill="#c0def4" shape-rendering="crispEdges"/>
<rect x="115.07" y="87.14" width="2.66" height="5.29" fill="#c0def4" shape-rendering="crispEdges"/>
<rect x="117.67" y="87.14" width="2.66" height="5.29" fill="#d6eef9" shape-rendering="crispEdges"/>
<rect x="120.28" y="87.14" width="2.66" height="5.29" fill="#c0def4" shape-rendering="crispEdges"/>
<rect x="122.89" y="87.14" width="2.66" height="5.29" fill="#c0def4" shape-rendering="crispEdges"/>
<text x="0" y="91.48" font-size="5.5" fill="#1a1a1a" font-style="italic" transform="translate(128.0,0) scale(0.9,1)">MYL2</text>
<rect x="16.00" y="92.38" width="2.66" height="5.29" fill="#1c2c88" shape-rendering="crispEdges"/>
<rect x="18.61" y="92.38" width="2.66" height="5.29" fill="#1c2c88" shape-rendering="crispEdges"/>
<rect x="21.21" y="92.38" width="2.66" height="5.29" fill="#d6eef9" shape-rendering="crispEdges"/>
<rect x="23.82" y="92.38" width="2.66" height="5.29" fill="#1c2c88" shape-rendering="crispEdges"/>
<rect x="26.42" y="92.38" width="2.66" height="5.29" fill="#1c2c88" shape-rendering="crispEdges"/>
<rect x="29.03" y="92.38" width="2.66" height="5.29" fill="#1c2c88" shape-rendering="crispEdges"/>
<rect x="31.63" y="92.38" width="2.66" height="5.29" fill="#c0def4" shape-rendering="crispEdges"/>
<rect x="34.24" y="92.38" width="2.66" height="5.29" fill="#c0def4" shape-rendering="crispEdges"/>
<rect x="36.84" y="92.38" width="2.66" height="5.29" fill="#1c2c88" shape-rendering="crispEdges"/>
<rect x="39.45" y="92.38" width="2.66" height="5.29" fill="#1c2c88" shape-rendering="crispEdges"/>
<rect x="42.05" y="92.38" width="2.66" height="5.29" fill="#1c2c88" shape-rendering="crispEdges"/>
<rect x="44.66" y="92.38" width="2.66" height="5.29" fill="#c0def4" shape-rendering="crispEdges"/>
<rect x="47.26" y="92.38" width="2.66" height="5.29" fill="#1c2c88" shape-rendering="crispEdges"/>
<rect x="49.87" y="92.38" width="2.66" height="5.29" fill="#1c2c88" shape-rendering="crispEdges"/>
<rect x="52.47" y="92.38" width="2.66" height="5.29" fill="#c0def4" shape-rendering="crispEdges"/>
<rect x="55.08" y="92.38" width="2.66" height="5.29" fill="#1c2c88" shape-rendering="crispEdges"/>
<rect x="57.68" y="92.38" width="2.66" height="5.29" fill="#1c2c88" shape-rendering="crispEdges"/>
<rect x="60.29" y="92.38" width="2.66" height="5.29" fill="#d6eef9" shape-rendering="crispEdges"/>
<rect x="62.89" y="92.38" width="2.66" height="5.29" fill="#24379a" shape-rendering="crispEdges"/>
<rect x="65.50" y="92.38" width="2.66" height="5.29" fill="#c0def4" shape-rendering="crispEdges"/>
<rect x="68.11" y="92.38" width="2.66" height="5.29" fill="#c0def4" shape-rendering="crispEdges"/>
<rect x="70.72" y="92.38" width="2.66" height="5.29" fill="#24379a" shape-rendering="crispEdges"/>
<rect x="73.33" y="92.38" width="2.66" height="5.29" fill="#94b4e2" shape-rendering="crispEdges"/>
<rect x="75.93" y="92.38" width="2.66" height="5.29" fill="#d6eef9" shape-rendering="crispEdges"/>
<rect x="78.54" y="92.38" width="2.66" height="5.29" fill="#d6eef9" shape-rendering="crispEdges"/>
<rect x="81.15" y="92.38" width="2.66" height="5.29" fill="#94b4e2" shape-rendering="crispEdges"/>
<rect x="83.76" y="92.38" width="2.66" height="5.29" fill="#1c2c88" shape-rendering="crispEdges"/>
<rect x="86.37" y="92.38" width="2.66" height="5.29" fill="#94b4e2" shape-rendering="crispEdges"/>
<rect x="88.98" y="92.38" width="2.66" height="5.29" fill="#d6eef9" shape-rendering="crispEdges"/>
<rect x="91.59" y="92.38" width="2.66" height="5.29" fill="#c0def4" shape-rendering="crispEdges"/>
<rect x="94.20" y="92.38" width="2.66" height="5.29" fill="#d6eef9" shape-rendering="crispEdges"/>
<rect x="96.80" y="92.38" width="2.66" height="5.29" fill="#c0def4" shape-rendering="crispEdges"/>
<rect x="99.41" y="92.38" width="2.66" height="5.29" fill="#1c2c88" shape-rendering="crispEdges"/>
<rect x="102.02" y="92.38" width="2.66" height="5.29" fill="#1c2c88" shape-rendering="crispEdges"/>
<rect x="104.63" y="92.38" width="2.66" height="5.29" fill="#1c2c88" shape-rendering="crispEdges"/>
<rect x="107.24" y="92.38" width="2.66" height="5.29" fill="#d6eef9" shape-rendering="crispEdges"/>
<rect x="109.85" y="92.38" width="2.66" height="5.29" fill="#c0def4" shape-rendering="crispEdges"/>
<rect x="112.46" y="92.38" width="2.66" height="5.29" fill="#1c2c88" shape-rendering="crispEdges"/>
<rect x="115.07" y="92.38" width="2.66" height="5.29" fill="#c0def4" shape-rendering="crispEdges"/>
<rect x="117.67" y="92.38" width="2.66" height="5.29" fill="#c0def4" shape-rendering="crispEdges"/>
<rect x="120.28" y="92.38" width="2.66" height="5.29" fill="#1c2c88" shape-rendering="crispEdges"/>
<rect x="122.89" y="92.38" width="2.66" height="5.29" fill="#c0def4" shape-rendering="crispEdges"/>
<text x="0" y="96.72" font-size="5.5" fill="#1a1a1a" font-style="italic" transform="translate(128.0,0) scale(0.9,1)">LIMK1</text>
<rect x="16.00" y="97.62" width="2.66" height="5.29" fill="#c0def4" shape-rendering="crispEdges"/>
<rect x="18.61" y="97.62" width="2.66" height="5.29" fill="#c0def4" shape-rendering="crispEdges"/>
<rect x="21.21" y="97.62" width="2.66" height="5.29" fill="#c0def4" shape-rendering="crispEdges"/>
<rect x="23.82" y="97.62" width="2.66" height="5.29" fill="#c0def4" shape-rendering="crispEdges"/>
<rect x="26.42" y="97.62" width="2.66" height="5.29" fill="#c0def4" shape-rendering="crispEdges"/>
<rect x="29.03" y="97.62" width="2.66" height="5.29" fill="#d6eef9" shape-rendering="crispEdges"/>
<rect x="31.63" y="97.62" width="2.66" height="5.29" fill="#1c2c88" shape-rendering="crispEdges"/>
<rect x="34.24" y="97.62" width="2.66" height="5.29" fill="#c0def4" shape-rendering="crispEdges"/>
<rect x="36.84" y="97.62" width="2.66" height="5.29" fill="#d6eef9" shape-rendering="crispEdges"/>
<rect x="39.45" y="97.62" width="2.66" height="5.29" fill="#94b4e2" shape-rendering="crispEdges"/>
<rect x="42.05" y="97.62" width="2.66" height="5.29" fill="#c0def4" shape-rendering="crispEdges"/>
<rect x="44.66" y="97.62" width="2.66" height="5.29" fill="#c0def4" shape-rendering="crispEdges"/>
<rect x="47.26" y="97.62" width="2.66" height="5.29" fill="#c0def4" shape-rendering="crispEdges"/>
<rect x="49.87" y="97.62" width="2.66" height="5.29" fill="#c0def4" shape-rendering="crispEdges"/>
<rect x="52.47" y="97.62" width="2.66" height="5.29" fill="#c0def4" shape-rendering="crispEdges"/>
<rect x="55.08" y="97.62" width="2.66" height="5.29" fill="#c0def4" shape-rendering="crispEdges"/>
<rect x="57.68" y="97.62" width="2.66" height="5.29" fill="#c0def4" shape-rendering="crispEdges"/>
<rect x="60.29" y="97.62" width="2.66" height="5.29" fill="#c0def4" shape-rendering="crispEdges"/>
<rect x="62.89" y="97.62" width="2.66" height="5.29" fill="#1c2c88" shape-rendering="crispEdges"/>
<rect x="65.50" y="97.62" width="2.66" height="5.29" fill="#24379a" shape-rendering="crispEdges"/>
<rect x="68.11" y="97.62" width="2.66" height="5.29" fill="#1c2c88" shape-rendering="crispEdges"/>
<rect x="70.72" y="97.62" width="2.66" height="5.29" fill="#1c2c88" shape-rendering="crispEdges"/>
<rect x="73.33" y="97.62" width="2.66" height="5.29" fill="#1c2c88" shape-rendering="crispEdges"/>
<rect x="75.93" y="97.62" width="2.66" height="5.29" fill="#24379a" shape-rendering="crispEdges"/>
<rect x="78.54" y="97.62" width="2.66" height="5.29" fill="#1c2c88" shape-rendering="crispEdges"/>
<rect x="81.15" y="97.62" width="2.66" height="5.29" fill="#1c2c88" shape-rendering="crispEdges"/>
<rect x="83.76" y="97.62" width="2.66" height="5.29" fill="#1c2c88" shape-rendering="crispEdges"/>
<rect x="86.37" y="97.62" width="2.66" height="5.29" fill="#24379a" shape-rendering="crispEdges"/>
<rect x="88.98" y="97.62" width="2.66" height="5.29" fill="#1c2c88" shape-rendering="crispEdges"/>
<rect x="91.59" y="97.62" width="2.66" height="5.29" fill="#c0def4" shape-rendering="crispEdges"/>
<rect x="94.20" y="97.62" width="2.66" height="5.29" fill="#24379a" shape-rendering="crispEdges"/>
<rect x="96.80" y="97.62" width="2.66" height="5.29" fill="#24379a" shape-rendering="crispEdges"/>
<rect x="99.41" y="97.62" width="2.66" height="5.29" fill="#1c2c88" shape-rendering="crispEdges"/>
<rect x="102.02" y="97.62" width="2.66" height="5.29" fill="#1c2c88" shape-rendering="crispEdges"/>
<rect x="104.63" y="97.62" width="2.66" height="5.29" fill="#24379a" shape-rendering="crispEdges"/>
<rect x="107.24" y="97.62" width="2.66" height="5.29" fill="#94b4e2" shape-rendering="crispEdges"/>
<rect x="109.85" y="97.62" width="2.66" height="5.29" fill="#1c2c88" shape-rendering="crispEdges"/>
<rect x="112.46" y="97.62" width="2.66" height="5.29" fill="#94b4e2" shape-rendering="crispEdges"/>
<rect x="115.07" y="97.62" width="2.66" height="5.29" fill="#1c2c88" shape-rendering="crispEdges"/>
<rect x="117.67" y="97.62" width="2.66" height="5.29" fill="#24379a" shape-rendering="crispEdges"/>
<rect x="120.28" y="97.62" width="2.66" height="5.29" fill="#c0def4" shape-rendering="crispEdges"/>
<rect x="122.89" y="97.62" width="2.66" height="5.29" fill="#24379a" shape-rendering="crispEdges"/>
<text x="0" y="101.96" font-size="5.5" fill="#1a1a1a" font-style="italic" transform="translate(128.0,0) scale(0.9,1)">GSN</text>
<rect x="16.00" y="102.86" width="2.66" height="5.29" fill="#1c2c88" shape-rendering="crispEdges"/>
<rect x="18.61" y="102.86" width="2.66" height="5.29" fill="#1c2c88" shape-rendering="crispEdges"/>
<rect x="21.21" y="102.86" width="2.66" height="5.29" fill="#24379a" shape-rendering="crispEdges"/>
<rect x="23.82" y="102.86" width="2.66" height="5.29" fill="#1c2c88" shape-rendering="crispEdges"/>
<rect x="26.42" y="102.86" width="2.66" height="5.29" fill="#1c2c88" shape-rendering="crispEdges"/>
<rect x="29.03" y="102.86" width="2.66" height="5.29" fill="#1c2c88" shape-rendering="crispEdges"/>
<rect x="31.63" y="102.86" width="2.66" height="5.29" fill="#24379a" shape-rendering="crispEdges"/>
<rect x="34.24" y="102.86" width="2.66" height="5.29" fill="#1c2c88" shape-rendering="crispEdges"/>
<rect x="36.84" y="102.86" width="2.66" height="5.29" fill="#1c2c88" shape-rendering="crispEdges"/>
<rect x="39.45" y="102.86" width="2.66" height="5.29" fill="#d6eef9" shape-rendering="crispEdges"/>
<rect x="42.05" y="102.86" width="2.66" height="5.29" fill="#c0def4" shape-rendering="crispEdges"/>
<rect x="44.66" y="102.86" width="2.66" height="5.29" fill="#1c2c88" shape-rendering="crispEdges"/>
<rect x="47.26" y="102.86" width="2.66" height="5.29" fill="#1c2c88" shape-rendering="crispEdges"/>
<rect x="49.87" y="102.86" width="2.66" height="5.29" fill="#c0def4" shape-rendering="crispEdges"/>
<rect x="52.47" y="102.86" width="2.66" height="5.29" fill="#1c2c88" shape-rendering="crispEdges"/>
<rect x="55.08" y="102.86" width="2.66" height="5.29" fill="#1c2c88" shape-rendering="crispEdges"/>
<rect x="57.68" y="102.86" width="2.66" height="5.29" fill="#1c2c88" shape-rendering="crispEdges"/>
<rect x="60.29" y="102.86" width="2.66" height="5.29" fill="#24379a" shape-rendering="crispEdges"/>
<rect x="62.89" y="102.86" width="2.66" height="5.29" fill="#24379a" shape-rendering="crispEdges"/>
<rect x="65.50" y="102.86" width="2.66" height="5.29" fill="#24379a" shape-rendering="crispEdges"/>
<rect x="68.11" y="102.86" width="2.66" height="5.29" fill="#1c2c88" shape-rendering="crispEdges"/>
<rect x="70.72" y="102.86" width="2.66" height="5.29" fill="#c0def4" shape-rendering="crispEdges"/>
<rect x="73.33" y="102.86" width="2.66" height="5.29" fill="#1c2c88" shape-rendering="crispEdges"/>
<rect x="75.93" y="102.86" width="2.66" height="5.29" fill="#1c2c88" shape-rendering="crispEdges"/>
<rect x="78.54" y="102.86" width="2.66" height="5.29" fill="#1c2c88" shape-rendering="crispEdges"/>
<rect x="81.15" y="102.86" width="2.66" height="5.29" fill="#1c2c88" shape-rendering="crispEdges"/>
<rect x="83.76" y="102.86" width="2.66" height="5.29" fill="#1c2c88" shape-rendering="crispEdges"/>
<rect x="86.37" y="102.86" width="2.66" height="5.29" fill="#1c2c88" shape-rendering="crispEdges"/>
<rect x="88.98" y="102.86" width="2.66" height="5.29" fill="#d6eef9" shape-rendering="crispEdges"/>
<rect x="91.59" y="102.86" width="2.66" height="5.29" fill="#d6eef9" shape-rendering="crispEdges"/>
<rect x="94.20" y="102.86" width="2.66" height="5.29" fill="#d6eef9" shape-rendering="crispEdges"/>
<rect x="96.80" y="102.86" width="2.66" height="5.29" fill="#1c2c88" shape-rendering="crispEdges"/>
<rect x="99.41" y="102.86" width="2.66" height="5.29" fill="#d6eef9" shape-rendering="crispEdges"/>
<rect x="102.02" y="102.86" width="2.66" height="5.29" fill="#c0def4" shape-rendering="crispEdges"/>
<rect x="104.63" y="102.86" width="2.66" height="5.29" fill="#1c2c88" shape-rendering="crispEdges"/>
<rect x="107.24" y="102.86" width="2.66" height="5.29" fill="#1c2c88" shape-rendering="crispEdges"/>
<rect x="109.85" y="102.86" width="2.66" height="5.29" fill="#24379a" shape-rendering="crispEdges"/>
<rect x="112.46" y="102.86" width="2.66" height="5.29" fill="#d6eef9" shape-rendering="crispEdges"/>
<rect x="115.07" y="102.86" width="2.66" height="5.29" fill="#24379a" shape-rendering="crispEdges"/>
<rect x="117.67" y="102.86" width="2.66" height="5.29" fill="#1c2c88" shape-rendering="crispEdges"/>
<rect x="120.28" y="102.86" width="2.66" height="5.29" fill="#24379a" shape-rendering="crispEdges"/>
<rect x="122.89" y="102.86" width="2.66" height="5.29" fill="#d6eef9" shape-rendering="crispEdges"/>
<text x="0" y="107.20" font-size="5.5" fill="#1a1a1a" font-style="italic" transform="translate(128.0,0) scale(0.9,1)">DIAPH1</text>
<rect x="16.00" y="108.10" width="2.66" height="5.29" fill="#c0def4" shape-rendering="crispEdges"/>
<rect x="18.61" y="108.10" width="2.66" height="5.29" fill="#c0def4" shape-rendering="crispEdges"/>
<rect x="21.21" y="108.10" width="2.66" height="5.29" fill="#c0def4" shape-rendering="crispEdges"/>
<rect x="23.82" y="108.10" width="2.66" height="5.29" fill="#d6eef9" shape-rendering="crispEdges"/>
<rect x="26.42" y="108.10" width="2.66" height="5.29" fill="#c0def4" shape-rendering="crispEdges"/>
<rect x="29.03" y="108.10" width="2.66" height="5.29" fill="#24379a" shape-rendering="crispEdges"/>
<rect x="31.63" y="108.10" width="2.66" height="5.29" fill="#d6eef9" shape-rendering="crispEdges"/>
<rect x="34.24" y="108.10" width="2.66" height="5.29" fill="#94b4e2" shape-rendering="crispEdges"/>
<rect x="36.84" y="108.10" width="2.66" height="5.29" fill="#c0def4" shape-rendering="crispEdges"/>
<rect x="39.45" y="108.10" width="2.66" height="5.29" fill="#c0def4" shape-rendering="crispEdges"/>
<rect x="42.05" y="108.10" width="2.66" height="5.29" fill="#d6eef9" shape-rendering="crispEdges"/>
<rect x="44.66" y="108.10" width="2.66" height="5.29" fill="#1c2c88" shape-rendering="crispEdges"/>
<rect x="47.26" y="108.10" width="2.66" height="5.29" fill="#d6eef9" shape-rendering="crispEdges"/>
<rect x="49.87" y="108.10" width="2.66" height="5.29" fill="#94b4e2" shape-rendering="crispEdges"/>
<rect x="52.47" y="108.10" width="2.66" height="5.29" fill="#c0def4" shape-rendering="crispEdges"/>
<rect x="55.08" y="108.10" width="2.66" height="5.29" fill="#c0def4" shape-rendering="crispEdges"/>
<rect x="57.68" y="108.10" width="2.66" height="5.29" fill="#d6eef9" shape-rendering="crispEdges"/>
<rect x="60.29" y="108.10" width="2.66" height="5.29" fill="#c0def4" shape-rendering="crispEdges"/>
<rect x="62.89" y="108.10" width="2.66" height="5.29" fill="#c0def4" shape-rendering="crispEdges"/>
<rect x="65.50" y="108.10" width="2.66" height="5.29" fill="#1c2c88" shape-rendering="crispEdges"/>
<rect x="68.11" y="108.10" width="2.66" height="5.29" fill="#c0def4" shape-rendering="crispEdges"/>
<rect x="70.72" y="108.10" width="2.66" height="5.29" fill="#1c2c88" shape-rendering="crispEdges"/>
<rect x="73.33" y="108.10" width="2.66" height="5.29" fill="#1c2c88" shape-rendering="crispEdges"/>
<rect x="75.93" y="108.10" width="2.66" height="5.29" fill="#24379a" shape-rendering="crispEdges"/>
<rect x="78.54" y="108.10" width="2.66" height="5.29" fill="#1c2c88" shape-rendering="crispEdges"/>
<rect x="81.15" y="108.10" width="2.66" height="5.29" fill="#1c2c88" shape-rendering="crispEdges"/>
<rect x="83.76" y="108.10" width="2.66" height="5.29" fill="#1c2c88" shape-rendering="crispEdges"/>
<rect x="86.37" y="108.10" width="2.66" height="5.29" fill="#1c2c88" shape-rendering="crispEdges"/>
<rect x="88.98" y="108.10" width="2.66" height="5.29" fill="#24379a" shape-rendering="crispEdges"/>
<rect x="91.59" y="108.10" width="2.66" height="5.29" fill="#1c2c88" shape-rendering="crispEdges"/>
<rect x="94.20" y="108.10" width="2.66" height="5.29" fill="#1c2c88" shape-rendering="crispEdges"/>
<rect x="96.80" y="108.10" width="2.66" height="5.29" fill="#1c2c88" shape-rendering="crispEdges"/>
<rect x="99.41" y="108.10" width="2.66" height="5.29" fill="#1c2c88" shape-rendering="crispEdges"/>
<rect x="102.02" y="108.10" width="2.66" height="5.29" fill="#24379a" shape-rendering="crispEdges"/>
<rect x="104.63" y="108.10" width="2.66" height="5.29" fill="#d6eef9" shape-rendering="crispEdges"/>
<rect x="107.24" y="108.10" width="2.66" height="5.29" fill="#1c2c88" shape-rendering="crispEdges"/>
<rect x="109.85" y="108.10" width="2.66" height="5.29" fill="#1c2c88" shape-rendering="crispEdges"/>
<rect x="112.46" y="108.10" width="2.66" height="5.29" fill="#1c2c88" shape-rendering="crispEdges"/>
<rect x="115.07" y="108.10" width="2.66" height="5.29" fill="#1c2c88" shape-rendering="crispEdges"/>
<rect x="117.67" y="108.10" width="2.66" height="5.29" fill="#d6eef9" shape-rendering="crispEdges"/>
<rect x="120.28" y="108.10" width="2.66" height="5.29" fill="#24379a" shape-rendering="crispEdges"/>
<rect x="122.89" y="108.10" width="2.66" height="5.29" fill="#24379a" shape-rendering="crispEdges"/>
<text x="0" y="112.43" font-size="5.5" fill="#1a1a1a" font-style="italic" transform="translate(128.0,0) scale(0.9,1)">BAIAP2</text>
<rect x="16.00" y="113.33" width="2.66" height="5.29" fill="#d6eef9" shape-rendering="crispEdges"/>
<rect x="18.61" y="113.33" width="2.66" height="5.29" fill="#d6eef9" shape-rendering="crispEdges"/>
<rect x="21.21" y="113.33" width="2.66" height="5.29" fill="#c0def4" shape-rendering="crispEdges"/>
<rect x="23.82" y="113.33" width="2.66" height="5.29" fill="#c0def4" shape-rendering="crispEdges"/>
<rect x="26.42" y="113.33" width="2.66" height="5.29" fill="#c0def4" shape-rendering="crispEdges"/>
<rect x="29.03" y="113.33" width="2.66" height="5.29" fill="#24379a" shape-rendering="crispEdges"/>
<rect x="31.63" y="113.33" width="2.66" height="5.29" fill="#94b4e2" shape-rendering="crispEdges"/>
<rect x="34.24" y="113.33" width="2.66" height="5.29" fill="#c0def4" shape-rendering="crispEdges"/>
<rect x="36.84" y="113.33" width="2.66" height="5.29" fill="#d6eef9" shape-rendering="crispEdges"/>
<rect x="39.45" y="113.33" width="2.66" height="5.29" fill="#c0def4" shape-rendering="crispEdges"/>
<rect x="42.05" y="113.33" width="2.66" height="5.29" fill="#94b4e2" shape-rendering="crispEdges"/>
<rect x="44.66" y="113.33" width="2.66" height="5.29" fill="#c0def4" shape-rendering="crispEdges"/>
<rect x="47.26" y="113.33" width="2.66" height="5.29" fill="#c0def4" shape-rendering="crispEdges"/>
<rect x="49.87" y="113.33" width="2.66" height="5.29" fill="#d6eef9" shape-rendering="crispEdges"/>
<rect x="52.47" y="113.33" width="2.66" height="5.29" fill="#d6eef9" shape-rendering="crispEdges"/>
<rect x="55.08" y="113.33" width="2.66" height="5.29" fill="#24379a" shape-rendering="crispEdges"/>
<rect x="57.68" y="113.33" width="2.66" height="5.29" fill="#d6eef9" shape-rendering="crispEdges"/>
<rect x="60.29" y="113.33" width="2.66" height="5.29" fill="#1c2c88" shape-rendering="crispEdges"/>
<rect x="62.89" y="113.33" width="2.66" height="5.29" fill="#c0def4" shape-rendering="crispEdges"/>
<rect x="65.50" y="113.33" width="2.66" height="5.29" fill="#24379a" shape-rendering="crispEdges"/>
<rect x="68.11" y="113.33" width="2.66" height="5.29" fill="#1c2c88" shape-rendering="crispEdges"/>
<rect x="70.72" y="113.33" width="2.66" height="5.29" fill="#1c2c88" shape-rendering="crispEdges"/>
<rect x="73.33" y="113.33" width="2.66" height="5.29" fill="#94b4e2" shape-rendering="crispEdges"/>
<rect x="75.93" y="113.33" width="2.66" height="5.29" fill="#1c2c88" shape-rendering="crispEdges"/>
<rect x="78.54" y="113.33" width="2.66" height="5.29" fill="#1c2c88" shape-rendering="crispEdges"/>
<rect x="81.15" y="113.33" width="2.66" height="5.29" fill="#24379a" shape-rendering="crispEdges"/>
<rect x="83.76" y="113.33" width="2.66" height="5.29" fill="#1c2c88" shape-rendering="crispEdges"/>
<rect x="86.37" y="113.33" width="2.66" height="5.29" fill="#1c2c88" shape-rendering="crispEdges"/>
<rect x="88.98" y="113.33" width="2.66" height="5.29" fill="#1c2c88" shape-rendering="crispEdges"/>
<rect x="91.59" y="113.33" width="2.66" height="5.29" fill="#1c2c88" shape-rendering="crispEdges"/>
<rect x="94.20" y="113.33" width="2.66" height="5.29" fill="#94b4e2" shape-rendering="crispEdges"/>
<rect x="96.80" y="113.33" width="2.66" height="5.29" fill="#94b4e2" shape-rendering="crispEdges"/>
<rect x="99.41" y="113.33" width="2.66" height="5.29" fill="#1c2c88" shape-rendering="crispEdges"/>
<rect x="102.02" y="113.33" width="2.66" height="5.29" fill="#1c2c88" shape-rendering="crispEdges"/>
<rect x="104.63" y="113.33" width="2.66" height="5.29" fill="#1c2c88" shape-rendering="crispEdges"/>
<rect x="107.24" y="113.33" width="2.66" height="5.29" fill="#24379a" shape-rendering="crispEdges"/>
<rect x="109.85" y="113.33" width="2.66" height="5.29" fill="#1c2c88" shape-rendering="crispEdges"/>
<rect x="112.46" y="113.33" width="2.66" height="5.29" fill="#1c2c88" shape-rendering="crispEdges"/>
<rect x="115.07" y="113.33" width="2.66" height="5.29" fill="#1c2c88" shape-rendering="crispEdges"/>
<rect x="117.67" y="113.33" width="2.66" height="5.29" fill="#c0def4" shape-rendering="crispEdges"/>
<rect x="120.28" y="113.33" width="2.66" height="5.29" fill="#c0def4" shape-rendering="crispEdges"/>
<rect x="122.89" y="113.33" width="2.66" height="5.29" fill="#24379a" shape-rendering="crispEdges"/>
<text x="0" y="117.67" font-size="5.5" fill="#1a1a1a" font-style="italic" transform="translate(128.0,0) scale(0.9,1)">ARHGEF5</text>
<rect x="16.00" y="118.57" width="2.66" height="5.29" fill="#1c2c88" shape-rendering="crispEdges"/>
<rect x="18.61" y="118.57" width="2.66" height="5.29" fill="#24379a" shape-rendering="crispEdges"/>
<rect x="21.21" y="118.57" width="2.66" height="5.29" fill="#24379a" shape-rendering="crispEdges"/>
<rect x="23.82" y="118.57" width="2.66" height="5.29" fill="#1c2c88" shape-rendering="crispEdges"/>
<rect x="26.42" y="118.57" width="2.66" height="5.29" fill="#24379a" shape-rendering="crispEdges"/>
<rect x="29.03" y="118.57" width="2.66" height="5.29" fill="#1c2c88" shape-rendering="crispEdges"/>
<rect x="31.63" y="118.57" width="2.66" height="5.29" fill="#c0def4" shape-rendering="crispEdges"/>
<rect x="34.24" y="118.57" width="2.66" height="5.29" fill="#24379a" shape-rendering="crispEdges"/>
<rect x="36.84" y="118.57" width="2.66" height="5.29" fill="#1c2c88" shape-rendering="crispEdges"/>
<rect x="39.45" y="118.57" width="2.66" height="5.29" fill="#24379a" shape-rendering="crispEdges"/>
<rect x="42.05" y="118.57" width="2.66" height="5.29" fill="#1c2c88" shape-rendering="crispEdges"/>
<rect x="44.66" y="118.57" width="2.66" height="5.29" fill="#1c2c88" shape-rendering="crispEdges"/>
<rect x="47.26" y="118.57" width="2.66" height="5.29" fill="#1c2c88" shape-rendering="crispEdges"/>
<rect x="49.87" y="118.57" width="2.66" height="5.29" fill="#1c2c88" shape-rendering="crispEdges"/>
<rect x="52.47" y="118.57" width="2.66" height="5.29" fill="#24379a" shape-rendering="crispEdges"/>
<rect x="55.08" y="118.57" width="2.66" height="5.29" fill="#1c2c88" shape-rendering="crispEdges"/>
<rect x="57.68" y="118.57" width="2.66" height="5.29" fill="#1c2c88" shape-rendering="crispEdges"/>
<rect x="60.29" y="118.57" width="2.66" height="5.29" fill="#1c2c88" shape-rendering="crispEdges"/>
<rect x="62.89" y="118.57" width="2.66" height="5.29" fill="#1c2c88" shape-rendering="crispEdges"/>
<rect x="65.50" y="118.57" width="2.66" height="5.29" fill="#d6eef9" shape-rendering="crispEdges"/>
<rect x="68.11" y="118.57" width="2.66" height="5.29" fill="#1c2c88" shape-rendering="crispEdges"/>
<rect x="70.72" y="118.57" width="2.66" height="5.29" fill="#1c2c88" shape-rendering="crispEdges"/>
<rect x="73.33" y="118.57" width="2.66" height="5.29" fill="#c0def4" shape-rendering="crispEdges"/>
<rect x="75.93" y="118.57" width="2.66" height="5.29" fill="#24379a" shape-rendering="crispEdges"/>
<rect x="78.54" y="118.57" width="2.66" height="5.29" fill="#94b4e2" shape-rendering="crispEdges"/>
<rect x="81.15" y="118.57" width="2.66" height="5.29" fill="#c0def4" shape-rendering="crispEdges"/>
<rect x="83.76" y="118.57" width="2.66" height="5.29" fill="#94b4e2" shape-rendering="crispEdges"/>
<rect x="86.37" y="118.57" width="2.66" height="5.29" fill="#c0def4" shape-rendering="crispEdges"/>
<rect x="88.98" y="118.57" width="2.66" height="5.29" fill="#d6eef9" shape-rendering="crispEdges"/>
<rect x="91.59" y="118.57" width="2.66" height="5.29" fill="#c0def4" shape-rendering="crispEdges"/>
<rect x="94.20" y="118.57" width="2.66" height="5.29" fill="#c0def4" shape-rendering="crispEdges"/>
<rect x="96.80" y="118.57" width="2.66" height="5.29" fill="#c0def4" shape-rendering="crispEdges"/>
<rect x="99.41" y="118.57" width="2.66" height="5.29" fill="#c0def4" shape-rendering="crispEdges"/>
<rect x="102.02" y="118.57" width="2.66" height="5.29" fill="#c0def4" shape-rendering="crispEdges"/>
<rect x="104.63" y="118.57" width="2.66" height="5.29" fill="#d6eef9" shape-rendering="crispEdges"/>
<rect x="107.24" y="118.57" width="2.66" height="5.29" fill="#d6eef9" shape-rendering="crispEdges"/>
<rect x="109.85" y="118.57" width="2.66" height="5.29" fill="#d6eef9" shape-rendering="crispEdges"/>
<rect x="112.46" y="118.57" width="2.66" height="5.29" fill="#c0def4" shape-rendering="crispEdges"/>
<rect x="115.07" y="118.57" width="2.66" height="5.29" fill="#c0def4" shape-rendering="crispEdges"/>
<rect x="117.67" y="118.57" width="2.66" height="5.29" fill="#94b4e2" shape-rendering="crispEdges"/>
<rect x="120.28" y="118.57" width="2.66" height="5.29" fill="#c0def4" shape-rendering="crispEdges"/>
<rect x="122.89" y="118.57" width="2.66" height="5.29" fill="#c0def4" shape-rendering="crispEdges"/>
<text x="0" y="122.91" font-size="5.5" fill="#1a1a1a" font-style="italic" transform="translate(128.0,0) scale(0.9,1)">ARHGEF1</text>
<rect x="16.00" y="123.81" width="2.66" height="5.29" fill="#1c2c88" shape-rendering="crispEdges"/>
<rect x="18.61" y="123.81" width="2.66" height="5.29" fill="#c0def4" shape-rendering="crispEdges"/>
<rect x="21.21" y="123.81" width="2.66" height="5.29" fill="#c0def4" shape-rendering="crispEdges"/>
<rect x="23.82" y="123.81" width="2.66" height="5.29" fill="#c0def4" shape-rendering="crispEdges"/>
<rect x="26.42" y="123.81" width="2.66" height="5.29" fill="#d6eef9" shape-rendering="crispEdges"/>
<rect x="29.03" y="123.81" width="2.66" height="5.29" fill="#c0def4" shape-rendering="crispEdges"/>
<rect x="31.63" y="123.81" width="2.66" height="5.29" fill="#d6eef9" shape-rendering="crispEdges"/>
<rect x="34.24" y="123.81" width="2.66" height="5.29" fill="#c0def4" shape-rendering="crispEdges"/>
<rect x="36.84" y="123.81" width="2.66" height="5.29" fill="#d6eef9" shape-rendering="crispEdges"/>
<rect x="39.45" y="123.81" width="2.66" height="5.29" fill="#c0def4" shape-rendering="crispEdges"/>
<rect x="42.05" y="123.81" width="2.66" height="5.29" fill="#c0def4" shape-rendering="crispEdges"/>
<rect x="44.66" y="123.81" width="2.66" height="5.29" fill="#d6eef9" shape-rendering="crispEdges"/>
<rect x="47.26" y="123.81" width="2.66" height="5.29" fill="#c0def4" shape-rendering="crispEdges"/>
<rect x="49.87" y="123.81" width="2.66" height="5.29" fill="#d6eef9" shape-rendering="crispEdges"/>
<rect x="52.47" y="123.81" width="2.66" height="5.29" fill="#94b4e2" shape-rendering="crispEdges"/>
<rect x="55.08" y="123.81" width="2.66" height="5.29" fill="#d6eef9" shape-rendering="crispEdges"/>
<rect x="57.68" y="123.81" width="2.66" height="5.29" fill="#d6eef9" shape-rendering="crispEdges"/>
<rect x="60.29" y="123.81" width="2.66" height="5.29" fill="#94b4e2" shape-rendering="crispEdges"/>
<rect x="62.89" y="123.81" width="2.66" height="5.29" fill="#c0def4" shape-rendering="crispEdges"/>
<rect x="65.50" y="123.81" width="2.66" height="5.29" fill="#1c2c88" shape-rendering="crispEdges"/>
<rect x="68.11" y="123.81" width="2.66" height="5.29" fill="#d6eef9" shape-rendering="crispEdges"/>
<rect x="70.72" y="123.81" width="2.66" height="5.29" fill="#1c2c88" shape-rendering="crispEdges"/>
<rect x="73.33" y="123.81" width="2.66" height="5.29" fill="#1c2c88" shape-rendering="crispEdges"/>
<rect x="75.93" y="123.81" width="2.66" height="5.29" fill="#1c2c88" shape-rendering="crispEdges"/>
<rect x="78.54" y="123.81" width="2.66" height="5.29" fill="#1c2c88" shape-rendering="crispEdges"/>
<rect x="81.15" y="123.81" width="2.66" height="5.29" fill="#1c2c88" shape-rendering="crispEdges"/>
<rect x="83.76" y="123.81" width="2.66" height="5.29" fill="#1c2c88" shape-rendering="crispEdges"/>
<rect x="86.37" y="123.81" width="2.66" height="5.29" fill="#1c2c88" shape-rendering="crispEdges"/>
<rect x="88.98" y="123.81" width="2.66" height="5.29" fill="#1c2c88" shape-rendering="crispEdges"/>
<rect x="91.59" y="123.81" width="2.66" height="5.29" fill="#1c2c88" shape-rendering="crispEdges"/>
<rect x="94.20" y="123.81" width="2.66" height="5.29" fill="#1c2c88" shape-rendering="crispEdges"/>
<rect x="96.80" y="123.81" width="2.66" height="5.29" fill="#1c2c88" shape-rendering="crispEdges"/>
<rect x="99.41" y="123.81" width="2.66" height="5.29" fill="#1c2c88" shape-rendering="crispEdges"/>
<rect x="102.02" y="123.81" width="2.66" height="5.29" fill="#1c2c88" shape-rendering="crispEdges"/>
<rect x="104.63" y="123.81" width="2.66" height="5.29" fill="#24379a" shape-rendering="crispEdges"/>
<rect x="107.24" y="123.81" width="2.66" height="5.29" fill="#24379a" shape-rendering="crispEdges"/>
<rect x="109.85" y="123.81" width="2.66" height="5.29" fill="#1c2c88" shape-rendering="crispEdges"/>
<rect x="112.46" y="123.81" width="2.66" height="5.29" fill="#1c2c88" shape-rendering="crispEdges"/>
<rect x="115.07" y="123.81" width="2.66" height="5.29" fill="#24379a" shape-rendering="crispEdges"/>
<rect x="117.67" y="123.81" width="2.66" height="5.29" fill="#24379a" shape-rendering="crispEdges"/>
<rect x="120.28" y="123.81" width="2.66" height="5.29" fill="#24379a" shape-rendering="crispEdges"/>
<rect x="122.89" y="123.81" width="2.66" height="5.29" fill="#1c2c88" shape-rendering="crispEdges"/>
<text x="0" y="128.15" font-size="5.5" fill="#1a1a1a" font-style="italic" transform="translate(128.0,0) scale(0.9,1)">ARHGEF11</text>
<rect x="16.00" y="129.05" width="2.66" height="5.29" fill="#c0def4" shape-rendering="crispEdges"/>
<rect x="18.61" y="129.05" width="2.66" height="5.29" fill="#d6eef9" shape-rendering="crispEdges"/>
<rect x="21.21" y="129.05" width="2.66" height="5.29" fill="#c0def4" shape-rendering="crispEdges"/>
<rect x="23.82" y="129.05" width="2.66" height="5.29" fill="#d6eef9" shape-rendering="crispEdges"/>
<rect x="26.42" y="129.05" width="2.66" height="5.29" fill="#c0def4" shape-rendering="crispEdges"/>
<rect x="29.03" y="129.05" width="2.66" height="5.29" fill="#1c2c88" shape-rendering="crispEdges"/>
<rect x="31.63" y="129.05" width="2.66" height="5.29" fill="#c0def4" shape-rendering="crispEdges"/>
<rect x="34.24" y="129.05" width="2.66" height="5.29" fill="#c0def4" shape-rendering="crispEdges"/>
<rect x="36.84" y="129.05" width="2.66" height="5.29" fill="#c0def4" shape-rendering="crispEdges"/>
<rect x="39.45" y="129.05" width="2.66" height="5.29" fill="#c0def4" shape-rendering="crispEdges"/>
<rect x="42.05" y="129.05" width="2.66" height="5.29" fill="#94b4e2" shape-rendering="crispEdges"/>
<rect x="44.66" y="129.05" width="2.66" height="5.29" fill="#c0def4" shape-rendering="crispEdges"/>
<rect x="47.26" y="129.05" width="2.66" height="5.29" fill="#d6eef9" shape-rendering="crispEdges"/>
<rect x="49.87" y="129.05" width="2.66" height="5.29" fill="#c0def4" shape-rendering="crispEdges"/>
<rect x="52.47" y="129.05" width="2.66" height="5.29" fill="#1c2c88" shape-rendering="crispEdges"/>
<rect x="55.08" y="129.05" width="2.66" height="5.29" fill="#94b4e2" shape-rendering="crispEdges"/>
<rect x="57.68" y="129.05" width="2.66" height="5.29" fill="#d6eef9" shape-rendering="crispEdges"/>
<rect x="60.29" y="129.05" width="2.66" height="5.29" fill="#c0def4" shape-rendering="crispEdges"/>
<rect x="62.89" y="129.05" width="2.66" height="5.29" fill="#c0def4" shape-rendering="crispEdges"/>
<rect x="65.50" y="129.05" width="2.66" height="5.29" fill="#1c2c88" shape-rendering="crispEdges"/>
<rect x="68.11" y="129.05" width="2.66" height="5.29" fill="#24379a" shape-rendering="crispEdges"/>
<rect x="70.72" y="129.05" width="2.66" height="5.29" fill="#24379a" shape-rendering="crispEdges"/>
<rect x="73.33" y="129.05" width="2.66" height="5.29" fill="#94b4e2" shape-rendering="crispEdges"/>
<rect x="75.93" y="129.05" width="2.66" height="5.29" fill="#c0def4" shape-rendering="crispEdges"/>
<rect x="78.54" y="129.05" width="2.66" height="5.29" fill="#1c2c88" shape-rendering="crispEdges"/>
<rect x="81.15" y="129.05" width="2.66" height="5.29" fill="#24379a" shape-rendering="crispEdges"/>
<rect x="83.76" y="129.05" width="2.66" height="5.29" fill="#24379a" shape-rendering="crispEdges"/>
<rect x="86.37" y="129.05" width="2.66" height="5.29" fill="#1c2c88" shape-rendering="crispEdges"/>
<rect x="88.98" y="129.05" width="2.66" height="5.29" fill="#c0def4" shape-rendering="crispEdges"/>
<rect x="91.59" y="129.05" width="2.66" height="5.29" fill="#1c2c88" shape-rendering="crispEdges"/>
<rect x="94.20" y="129.05" width="2.66" height="5.29" fill="#1c2c88" shape-rendering="crispEdges"/>
<rect x="96.80" y="129.05" width="2.66" height="5.29" fill="#1c2c88" shape-rendering="crispEdges"/>
<rect x="99.41" y="129.05" width="2.66" height="5.29" fill="#1c2c88" shape-rendering="crispEdges"/>
<rect x="102.02" y="129.05" width="2.66" height="5.29" fill="#c0def4" shape-rendering="crispEdges"/>
<rect x="104.63" y="129.05" width="2.66" height="5.29" fill="#c0def4" shape-rendering="crispEdges"/>
<rect x="107.24" y="129.05" width="2.66" height="5.29" fill="#1c2c88" shape-rendering="crispEdges"/>
<rect x="109.85" y="129.05" width="2.66" height="5.29" fill="#24379a" shape-rendering="crispEdges"/>
<rect x="112.46" y="129.05" width="2.66" height="5.29" fill="#24379a" shape-rendering="crispEdges"/>
<rect x="115.07" y="129.05" width="2.66" height="5.29" fill="#1c2c88" shape-rendering="crispEdges"/>
<rect x="117.67" y="129.05" width="2.66" height="5.29" fill="#1c2c88" shape-rendering="crispEdges"/>
<rect x="120.28" y="129.05" width="2.66" height="5.29" fill="#1c2c88" shape-rendering="crispEdges"/>
<rect x="122.89" y="129.05" width="2.66" height="5.29" fill="#94b4e2" shape-rendering="crispEdges"/>
<text x="0" y="133.39" font-size="5.5" fill="#1a1a1a" font-style="italic" transform="translate(128.0,0) scale(0.9,1)">ARHGAP6</text>
<rect x="16.00" y="134.29" width="2.66" height="5.29" fill="#c0def4" shape-rendering="crispEdges"/>
<rect x="18.61" y="134.29" width="2.66" height="5.29" fill="#24379a" shape-rendering="crispEdges"/>
<rect x="21.21" y="134.29" width="2.66" height="5.29" fill="#c0def4" shape-rendering="crispEdges"/>
<rect x="23.82" y="134.29" width="2.66" height="5.29" fill="#d6eef9" shape-rendering="crispEdges"/>
<rect x="26.42" y="134.29" width="2.66" height="5.29" fill="#d6eef9" shape-rendering="crispEdges"/>
<rect x="29.03" y="134.29" width="2.66" height="5.29" fill="#d6eef9" shape-rendering="crispEdges"/>
<rect x="31.63" y="134.29" width="2.66" height="5.29" fill="#94b4e2" shape-rendering="crispEdges"/>
<rect x="34.24" y="134.29" width="2.66" height="5.29" fill="#d6eef9" shape-rendering="crispEdges"/>
<rect x="36.84" y="134.29" width="2.66" height="5.29" fill="#c0def4" shape-rendering="crispEdges"/>
<rect x="39.45" y="134.29" width="2.66" height="5.29" fill="#c0def4" shape-rendering="crispEdges"/>
<rect x="42.05" y="134.29" width="2.66" height="5.29" fill="#d6eef9" shape-rendering="crispEdges"/>
<rect x="44.66" y="134.29" width="2.66" height="5.29" fill="#c0def4" shape-rendering="crispEdges"/>
<rect x="47.26" y="134.29" width="2.66" height="5.29" fill="#c0def4" shape-rendering="crispEdges"/>
<rect x="49.87" y="134.29" width="2.66" height="5.29" fill="#c0def4" shape-rendering="crispEdges"/>
<rect x="52.47" y="134.29" width="2.66" height="5.29" fill="#1c2c88" shape-rendering="crispEdges"/>
<rect x="55.08" y="134.29" width="2.66" height="5.29" fill="#d6eef9" shape-rendering="crispEdges"/>
<rect x="57.68" y="134.29" width="2.66" height="5.29" fill="#c0def4" shape-rendering="crispEdges"/>
<rect x="60.29" y="134.29" width="2.66" height="5.29" fill="#94b4e2" shape-rendering="crispEdges"/>
<rect x="62.89" y="134.29" width="2.66" height="5.29" fill="#c0def4" shape-rendering="crispEdges"/>
<rect x="65.50" y="134.29" width="2.66" height="5.29" fill="#1c2c88" shape-rendering="crispEdges"/>
<rect x="68.11" y="134.29" width="2.66" height="5.29" fill="#1c2c88" shape-rendering="crispEdges"/>
<rect x="70.72" y="134.29" width="2.66" height="5.29" fill="#d6eef9" shape-rendering="crispEdges"/>
<rect x="73.33" y="134.29" width="2.66" height="5.29" fill="#24379a" shape-rendering="crispEdges"/>
<rect x="75.93" y="134.29" width="2.66" height="5.29" fill="#1c2c88" shape-rendering="crispEdges"/>
<rect x="78.54" y="134.29" width="2.66" height="5.29" fill="#1c2c88" shape-rendering="crispEdges"/>
<rect x="81.15" y="134.29" width="2.66" height="5.29" fill="#24379a" shape-rendering="crispEdges"/>
<rect x="83.76" y="134.29" width="2.66" height="5.29" fill="#d6eef9" shape-rendering="crispEdges"/>
<rect x="86.37" y="134.29" width="2.66" height="5.29" fill="#1c2c88" shape-rendering="crispEdges"/>
<rect x="88.98" y="134.29" width="2.66" height="5.29" fill="#1c2c88" shape-rendering="crispEdges"/>
<rect x="91.59" y="134.29" width="2.66" height="5.29" fill="#1c2c88" shape-rendering="crispEdges"/>
<rect x="94.20" y="134.29" width="2.66" height="5.29" fill="#d6eef9" shape-rendering="crispEdges"/>
<rect x="96.80" y="134.29" width="2.66" height="5.29" fill="#1c2c88" shape-rendering="crispEdges"/>
<rect x="99.41" y="134.29" width="2.66" height="5.29" fill="#24379a" shape-rendering="crispEdges"/>
<rect x="102.02" y="134.29" width="2.66" height="5.29" fill="#d6eef9" shape-rendering="crispEdges"/>
<rect x="104.63" y="134.29" width="2.66" height="5.29" fill="#c0def4" shape-rendering="crispEdges"/>
<rect x="107.24" y="134.29" width="2.66" height="5.29" fill="#24379a" shape-rendering="crispEdges"/>
<rect x="109.85" y="134.29" width="2.66" height="5.29" fill="#1c2c88" shape-rendering="crispEdges"/>
<rect x="112.46" y="134.29" width="2.66" height="5.29" fill="#c0def4" shape-rendering="crispEdges"/>
<rect x="115.07" y="134.29" width="2.66" height="5.29" fill="#c0def4" shape-rendering="crispEdges"/>
<rect x="117.67" y="134.29" width="2.66" height="5.29" fill="#1c2c88" shape-rendering="crispEdges"/>
<rect x="120.28" y="134.29" width="2.66" height="5.29" fill="#24379a" shape-rendering="crispEdges"/>
<rect x="122.89" y="134.29" width="2.66" height="5.29" fill="#c0def4" shape-rendering="crispEdges"/>
<text x="0" y="138.62" font-size="5.5" fill="#1a1a1a" font-style="italic" transform="translate(128.0,0) scale(0.9,1)">ARHGAP5</text>
<rect x="16.00" y="139.52" width="2.66" height="5.29" fill="#24379a" shape-rendering="crispEdges"/>
<rect x="18.61" y="139.52" width="2.66" height="5.29" fill="#1c2c88" shape-rendering="crispEdges"/>
<rect x="21.21" y="139.52" width="2.66" height="5.29" fill="#1c2c88" shape-rendering="crispEdges"/>
<rect x="23.82" y="139.52" width="2.66" height="5.29" fill="#1c2c88" shape-rendering="crispEdges"/>
<rect x="26.42" y="139.52" width="2.66" height="5.29" fill="#24379a" shape-rendering="crispEdges"/>
<rect x="29.03" y="139.52" width="2.66" height="5.29" fill="#24379a" shape-rendering="crispEdges"/>
<rect x="31.63" y="139.52" width="2.66" height="5.29" fill="#1c2c88" shape-rendering="crispEdges"/>
<rect x="34.24" y="139.52" width="2.66" height="5.29" fill="#1c2c88" shape-rendering="crispEdges"/>
<rect x="36.84" y="139.52" width="2.66" height="5.29" fill="#1c2c88" shape-rendering="crispEdges"/>
<rect x="39.45" y="139.52" width="2.66" height="5.29" fill="#24379a" shape-rendering="crispEdges"/>
<rect x="42.05" y="139.52" width="2.66" height="5.29" fill="#1c2c88" shape-rendering="crispEdges"/>
<rect x="44.66" y="139.52" width="2.66" height="5.29" fill="#1c2c88" shape-rendering="crispEdges"/>
<rect x="47.26" y="139.52" width="2.66" height="5.29" fill="#24379a" shape-rendering="crispEdges"/>
<rect x="49.87" y="139.52" width="2.66" height="5.29" fill="#1c2c88" shape-rendering="crispEdges"/>
<rect x="52.47" y="139.52" width="2.66" height="5.29" fill="#1c2c88" shape-rendering="crispEdges"/>
<rect x="55.08" y="139.52" width="2.66" height="5.29" fill="#24379a" shape-rendering="crispEdges"/>
<rect x="57.68" y="139.52" width="2.66" height="5.29" fill="#24379a" shape-rendering="crispEdges"/>
<rect x="60.29" y="139.52" width="2.66" height="5.29" fill="#1c2c88" shape-rendering="crispEdges"/>
<rect x="62.89" y="139.52" width="2.66" height="5.29" fill="#1c2c88" shape-rendering="crispEdges"/>
<rect x="65.50" y="139.52" width="2.66" height="5.29" fill="#c0def4" shape-rendering="crispEdges"/>
<rect x="68.11" y="139.52" width="2.66" height="5.29" fill="#d6eef9" shape-rendering="crispEdges"/>
<rect x="70.72" y="139.52" width="2.66" height="5.29" fill="#c0def4" shape-rendering="crispEdges"/>
<rect x="73.33" y="139.52" width="2.66" height="5.29" fill="#d6eef9" shape-rendering="crispEdges"/>
<rect x="75.93" y="139.52" width="2.66" height="5.29" fill="#c0def4" shape-rendering="crispEdges"/>
<rect x="78.54" y="139.52" width="2.66" height="5.29" fill="#c0def4" shape-rendering="crispEdges"/>
<rect x="81.15" y="139.52" width="2.66" height="5.29" fill="#c0def4" shape-rendering="crispEdges"/>
<rect x="83.76" y="139.52" width="2.66" height="5.29" fill="#1c2c88" shape-rendering="crispEdges"/>
<rect x="86.37" y="139.52" width="2.66" height="5.29" fill="#c0def4" shape-rendering="crispEdges"/>
<rect x="88.98" y="139.52" width="2.66" height="5.29" fill="#c0def4" shape-rendering="crispEdges"/>
<rect x="91.59" y="139.52" width="2.66" height="5.29" fill="#d6eef9" shape-rendering="crispEdges"/>
<rect x="94.20" y="139.52" width="2.66" height="5.29" fill="#d6eef9" shape-rendering="crispEdges"/>
<rect x="96.80" y="139.52" width="2.66" height="5.29" fill="#24379a" shape-rendering="crispEdges"/>
<rect x="99.41" y="139.52" width="2.66" height="5.29" fill="#d6eef9" shape-rendering="crispEdges"/>
<rect x="102.02" y="139.52" width="2.66" height="5.29" fill="#d6eef9" shape-rendering="crispEdges"/>
<rect x="104.63" y="139.52" width="2.66" height="5.29" fill="#1c2c88" shape-rendering="crispEdges"/>
<rect x="107.24" y="139.52" width="2.66" height="5.29" fill="#94b4e2" shape-rendering="crispEdges"/>
<rect x="109.85" y="139.52" width="2.66" height="5.29" fill="#c0def4" shape-rendering="crispEdges"/>
<rect x="112.46" y="139.52" width="2.66" height="5.29" fill="#d6eef9" shape-rendering="crispEdges"/>
<rect x="115.07" y="139.52" width="2.66" height="5.29" fill="#1c2c88" shape-rendering="crispEdges"/>
<rect x="117.67" y="139.52" width="2.66" height="5.29" fill="#1c2c88" shape-rendering="crispEdges"/>
<rect x="120.28" y="139.52" width="2.66" height="5.29" fill="#d6eef9" shape-rendering="crispEdges"/>
<rect x="122.89" y="139.52" width="2.66" height="5.29" fill="#94b4e2" shape-rendering="crispEdges"/>
<text x="0" y="143.86" font-size="5.5" fill="#1a1a1a" font-style="italic" transform="translate(128.0,0) scale(0.9,1)">ARHGAP4</text>
<rect x="16.00" y="144.76" width="2.66" height="5.29" fill="#1c2c88" shape-rendering="crispEdges"/>
<rect x="18.61" y="144.76" width="2.66" height="5.29" fill="#c0def4" shape-rendering="crispEdges"/>
<rect x="21.21" y="144.76" width="2.66" height="5.29" fill="#1c2c88" shape-rendering="crispEdges"/>
<rect x="23.82" y="144.76" width="2.66" height="5.29" fill="#1c2c88" shape-rendering="crispEdges"/>
<rect x="26.42" y="144.76" width="2.66" height="5.29" fill="#d6eef9" shape-rendering="crispEdges"/>
<rect x="29.03" y="144.76" width="2.66" height="5.29" fill="#94b4e2" shape-rendering="crispEdges"/>
<rect x="31.63" y="144.76" width="2.66" height="5.29" fill="#1c2c88" shape-rendering="crispEdges"/>
<rect x="34.24" y="144.76" width="2.66" height="5.29" fill="#c0def4" shape-rendering="crispEdges"/>
<rect x="36.84" y="144.76" width="2.66" height="5.29" fill="#1c2c88" shape-rendering="crispEdges"/>
<rect x="39.45" y="144.76" width="2.66" height="5.29" fill="#c0def4" shape-rendering="crispEdges"/>
<rect x="42.05" y="144.76" width="2.66" height="5.29" fill="#94b4e2" shape-rendering="crispEdges"/>
<rect x="44.66" y="144.76" width="2.66" height="5.29" fill="#c0def4" shape-rendering="crispEdges"/>
<rect x="47.26" y="144.76" width="2.66" height="5.29" fill="#c0def4" shape-rendering="crispEdges"/>
<rect x="49.87" y="144.76" width="2.66" height="5.29" fill="#1c2c88" shape-rendering="crispEdges"/>
<rect x="52.47" y="144.76" width="2.66" height="5.29" fill="#1c2c88" shape-rendering="crispEdges"/>
<rect x="55.08" y="144.76" width="2.66" height="5.29" fill="#24379a" shape-rendering="crispEdges"/>
<rect x="57.68" y="144.76" width="2.66" height="5.29" fill="#1c2c88" shape-rendering="crispEdges"/>
<rect x="60.29" y="144.76" width="2.66" height="5.29" fill="#1c2c88" shape-rendering="crispEdges"/>
<rect x="62.89" y="144.76" width="2.66" height="5.29" fill="#c0def4" shape-rendering="crispEdges"/>
<rect x="65.50" y="144.76" width="2.66" height="5.29" fill="#24379a" shape-rendering="crispEdges"/>
<rect x="68.11" y="144.76" width="2.66" height="5.29" fill="#1c2c88" shape-rendering="crispEdges"/>
<rect x="70.72" y="144.76" width="2.66" height="5.29" fill="#24379a" shape-rendering="crispEdges"/>
<rect x="73.33" y="144.76" width="2.66" height="5.29" fill="#24379a" shape-rendering="crispEdges"/>
<rect x="75.93" y="144.76" width="2.66" height="5.29" fill="#24379a" shape-rendering="crispEdges"/>
<rect x="78.54" y="144.76" width="2.66" height="5.29" fill="#24379a" shape-rendering="crispEdges"/>
<rect x="81.15" y="144.76" width="2.66" height="5.29" fill="#1c2c88" shape-rendering="crispEdges"/>
<rect x="83.76" y="144.76" width="2.66" height="5.29" fill="#1c2c88" shape-rendering="crispEdges"/>
<rect x="86.37" y="144.76" width="2.66" height="5.29" fill="#d6eef9" shape-rendering="crispEdges"/>
<rect x="88.98" y="144.76" width="2.66" height="5.29" fill="#1c2c88" shape-rendering="crispEdges"/>
<rect x="91.59" y="144.76" width="2.66" height="5.29" fill="#24379a" shape-rendering="crispEdges"/>
<rect x="94.20" y="144.76" width="2.66" height="5.29" fill="#1c2c88" shape-rendering="crispEdges"/>
<rect x="96.80" y="144.76" width="2.66" height="5.29" fill="#1c2c88" shape-rendering="crispEdges"/>
<rect x="99.41" y="144.76" width="2.66" height="5.29" fill="#c0def4" shape-rendering="crispEdges"/>
<rect x="102.02" y="144.76" width="2.66" height="5.29" fill="#24379a" shape-rendering="crispEdges"/>
<rect x="104.63" y="144.76" width="2.66" height="5.29" fill="#1c2c88" shape-rendering="crispEdges"/>
<rect x="107.24" y="144.76" width="2.66" height="5.29" fill="#24379a" shape-rendering="crispEdges"/>
<rect x="109.85" y="144.76" width="2.66" height="5.29" fill="#1c2c88" shape-rendering="crispEdges"/>
<rect x="112.46" y="144.76" width="2.66" height="5.29" fill="#1c2c88" shape-rendering="crispEdges"/>
<rect x="115.07" y="144.76" width="2.66" height="5.29" fill="#24379a" shape-rendering="crispEdges"/>
<rect x="117.67" y="144.76" width="2.66" height="5.29" fill="#1c2c88" shape-rendering="crispEdges"/>
<rect x="120.28" y="144.76" width="2.66" height="5.29" fill="#1c2c88" shape-rendering="crispEdges"/>
<rect x="122.89" y="144.76" width="2.66" height="5.29" fill="#1c2c88" shape-rendering="crispEdges"/>
<text x="0" y="149.10" font-size="5.5" fill="#1a1a1a" font-style="italic" transform="translate(128.0,0) scale(0.9,1)">ARHGAP1</text>
<line x1="185.60" y1="54.00" x2="185.60" y2="122.00" stroke="#111" stroke-width="1.1" />
<line x1="182.50" y1="56.60" x2="185.60" y2="56.60" stroke="#111" stroke-width="1" />
<text x="179.90" y="58.30" font-size="5" fill="#222" text-anchor="end" >8.0</text>
<line x1="182.50" y1="77.50" x2="185.60" y2="77.50" stroke="#111" stroke-width="1" />
<text x="179.90" y="79.20" font-size="5" fill="#222" text-anchor="end" >7.5</text>
<line x1="182.50" y1="98.40" x2="185.60" y2="98.40" stroke="#111" stroke-width="1" />
<text x="179.90" y="100.10" font-size="5" fill="#222" text-anchor="end" >7.0</text>
<line x1="182.50" y1="119.30" x2="185.60" y2="119.30" stroke="#111" stroke-width="1" />
<text x="179.90" y="121.00" font-size="5" fill="#222" text-anchor="end" >6.5</text>
<text x="0" y="0" font-size="7" fill="#222" text-anchor="middle" textLength="52.5" lengthAdjust="spacingAndGlyphs" transform="translate(165.8,88) rotate(-90)">Rho signature (log2)</text>
<line x1="203.30" y1="128.90" x2="276.50" y2="128.90" stroke="#111" stroke-width="1.1" />
<line x1="206.00" y1="128.90" x2="206.00" y2="131.20" stroke="#111" stroke-width="1" />
<line x1="240.00" y1="128.90" x2="240.00" y2="131.20" stroke="#111" stroke-width="1" />
<line x1="273.50" y1="128.90" x2="273.50" y2="131.20" stroke="#111" stroke-width="1" />
<text x="206.00" y="138.80" font-size="5" fill="#222" text-anchor="middle" >EBV<tspan font-size="3.2" dy="-1.8">+</tspan><tspan dy="1.8"> DLBL</tspan></text>
<text x="240.00" y="138.80" font-size="5" fill="#222" text-anchor="middle" >Adenoca</text>
<text x="273.50" y="138.80" font-size="5" fill="#222" text-anchor="middle" >TCGA-DLBL</text>
<line x1="206.30" y1="53.67" x2="206.30" y2="62.45" stroke="#48598f" stroke-width="0.9" />
<line x1="206.30" y1="76.66" x2="206.30" y2="85.02" stroke="#48598f" stroke-width="0.9" />
<line x1="199.80" y1="53.67" x2="212.80" y2="53.67" stroke="#48598f" stroke-width="1" />
<line x1="199.80" y1="85.02" x2="212.80" y2="85.02" stroke="#48598f" stroke-width="1" />
<rect x="192.7" y="62.45" width="27.30000000000001" height="14.21" fill="none" stroke="#48598f" stroke-width="1.2"/>
<line x1="192.70" y1="65.80" x2="220.00" y2="65.80" stroke="#48598f" stroke-width="1.3" />
<circle cx="206.00" cy="54.51" r="1.3" fill="white" fill-opacity="0.6" stroke="#7a7c94" stroke-width="0.6"/>
<circle cx="206.68" cy="56.60" r="1.3" fill="white" fill-opacity="0.6" stroke="#7a7c94" stroke-width="0.6"/>
<circle cx="209.01" cy="58.69" r="1.3" fill="white" fill-opacity="0.6" stroke="#7a7c94" stroke-width="0.6"/>
<circle cx="206.08" cy="60.78" r="1.3" fill="white" fill-opacity="0.6" stroke="#7a7c94" stroke-width="0.6"/>
<circle cx="206.35" cy="62.87" r="1.3" fill="white" fill-opacity="0.6" stroke="#7a7c94" stroke-width="0.6"/>
<circle cx="206.86" cy="64.96" r="1.3" fill="white" fill-opacity="0.6" stroke="#7a7c94" stroke-width="0.6"/>
<circle cx="204.28" cy="67.05" r="1.3" fill="white" fill-opacity="0.6" stroke="#7a7c94" stroke-width="0.6"/>
<circle cx="206.38" cy="68.30" r="1.3" fill="white" fill-opacity="0.6" stroke="#7a7c94" stroke-width="0.6"/>
<circle cx="207.13" cy="71.23" r="1.3" fill="white" fill-opacity="0.6" stroke="#7a7c94" stroke-width="0.6"/>
<circle cx="208.18" cy="73.32" r="1.3" fill="white" fill-opacity="0.6" stroke="#7a7c94" stroke-width="0.6"/>
<circle cx="203.70" cy="75.41" r="1.3" fill="white" fill-opacity="0.6" stroke="#7a7c94" stroke-width="0.6"/>
<circle cx="205.04" cy="77.50" r="1.3" fill="white" fill-opacity="0.6" stroke="#7a7c94" stroke-width="0.6"/>
<circle cx="203.68" cy="79.59" r="1.3" fill="white" fill-opacity="0.6" stroke="#7a7c94" stroke-width="0.6"/>
<circle cx="208.28" cy="85.86" r="1.3" fill="white" fill-opacity="0.6" stroke="#7a7c94" stroke-width="0.6"/>
<circle cx="207.54" cy="97.56" r="1.3" fill="white" fill-opacity="0.6" stroke="#7a7c94" stroke-width="0.6"/>
<line x1="240.00" y1="77.50" x2="240.00" y2="86.28" stroke="#86ad4a" stroke-width="0.9" />
<line x1="240.00" y1="99.65" x2="240.00" y2="108.85" stroke="#86ad4a" stroke-width="0.9" />
<line x1="233.50" y1="77.50" x2="246.50" y2="77.50" stroke="#86ad4a" stroke-width="1" />
<line x1="233.50" y1="108.85" x2="246.50" y2="108.85" stroke="#86ad4a" stroke-width="1" />
<rect x="225.8" y="86.28" width="28.5" height="13.38" fill="none" stroke="#86ad4a" stroke-width="1.2"/>
<line x1="225.80" y1="92.97" x2="254.30" y2="92.97" stroke="#86ad4a" stroke-width="1.3" />
<circle cx="237.07" cy="77.50" r="1.3" fill="white" fill-opacity="0.6" stroke="#8c9c74" stroke-width="0.6"/>
<circle cx="243.09" cy="83.77" r="1.3" fill="white" fill-opacity="0.6" stroke="#8c9c74" stroke-width="0.6"/>
<circle cx="242.97" cy="85.86" r="1.3" fill="white" fill-opacity="0.6" stroke="#8c9c74" stroke-width="0.6"/>
<circle cx="240.99" cy="87.95" r="1.3" fill="white" fill-opacity="0.6" stroke="#8c9c74" stroke-width="0.6"/>
<circle cx="240.74" cy="90.04" r="1.3" fill="white" fill-opacity="0.6" stroke="#8c9c74" stroke-width="0.6"/>
<circle cx="237.81" cy="92.13" r="1.3" fill="white" fill-opacity="0.6" stroke="#8c9c74" stroke-width="0.6"/>
<circle cx="236.90" cy="94.22" r="1.3" fill="white" fill-opacity="0.6" stroke="#8c9c74" stroke-width="0.6"/>
<circle cx="240.18" cy="95.06" r="1.3" fill="white" fill-opacity="0.6" stroke="#8c9c74" stroke-width="0.6"/>
<circle cx="237.18" cy="96.31" r="1.3" fill="white" fill-opacity="0.6" stroke="#8c9c74" stroke-width="0.6"/>
<circle cx="238.02" cy="98.40" r="1.3" fill="white" fill-opacity="0.6" stroke="#8c9c74" stroke-width="0.6"/>
<circle cx="238.35" cy="100.49" r="1.3" fill="white" fill-opacity="0.6" stroke="#8c9c74" stroke-width="0.6"/>
<circle cx="236.99" cy="106.76" r="1.3" fill="white" fill-opacity="0.6" stroke="#8c9c74" stroke-width="0.6"/>
<circle cx="239.77" cy="107.60" r="1.3" fill="white" fill-opacity="0.6" stroke="#8c9c74" stroke-width="0.6"/>
<circle cx="239.62" cy="123.48" r="1.3" fill="white" fill-opacity="0.6" stroke="#8c9c74" stroke-width="0.6"/>
<line x1="273.50" y1="64.96" x2="273.50" y2="75.83" stroke="#bf2b3d" stroke-width="0.9" />
<line x1="273.50" y1="97.56" x2="273.50" y2="124.73" stroke="#bf2b3d" stroke-width="0.9" />
<line x1="267.00" y1="64.96" x2="280.00" y2="64.96" stroke="#bf2b3d" stroke-width="1" />
<line x1="267.00" y1="124.73" x2="280.00" y2="124.73" stroke="#bf2b3d" stroke-width="1" />
<rect x="259.5" y="75.83" width="28.0" height="21.74" fill="none" stroke="#bf2b3d" stroke-width="1.2"/>
<line x1="259.50" y1="90.88" x2="287.50" y2="90.88" stroke="#bf2b3d" stroke-width="1.3" />
<circle cx="275.69" cy="64.96" r="1.3" fill="white" fill-opacity="0.6" stroke="#b06070" stroke-width="0.6"/>
<circle cx="273.62" cy="67.05" r="1.3" fill="white" fill-opacity="0.6" stroke="#b06070" stroke-width="0.6"/>
<circle cx="274.40" cy="69.14" r="1.3" fill="white" fill-opacity="0.6" stroke="#b06070" stroke-width="0.6"/>
<circle cx="273.50" cy="71.23" r="1.3" fill="white" fill-opacity="0.6" stroke="#b06070" stroke-width="0.6"/>
<circle cx="274.54" cy="73.32" r="1.3" fill="white" fill-opacity="0.6" stroke="#b06070" stroke-width="0.6"/>
<circle cx="273.23" cy="75.41" r="1.3" fill="white" fill-opacity="0.6" stroke="#b06070" stroke-width="0.6"/>
<circle cx="272.08" cy="77.50" r="1.3" fill="white" fill-opacity="0.6" stroke="#b06070" stroke-width="0.6"/>
<circle cx="276.68" cy="78.34" r="1.3" fill="white" fill-opacity="0.6" stroke="#b06070" stroke-width="0.6"/>
<circle cx="276.67" cy="79.59" r="1.3" fill="white" fill-opacity="0.6" stroke="#b06070" stroke-width="0.6"/>
<circle cx="275.68" cy="81.68" r="1.3" fill="white" fill-opacity="0.6" stroke="#b06070" stroke-width="0.6"/>
<circle cx="274.83" cy="83.77" r="1.3" fill="white" fill-opacity="0.6" stroke="#b06070" stroke-width="0.6"/>
<circle cx="272.32" cy="85.86" r="1.3" fill="white" fill-opacity="0.6" stroke="#b06070" stroke-width="0.6"/>
<circle cx="271.77" cy="87.95" r="1.3" fill="white" fill-opacity="0.6" stroke="#b06070" stroke-width="0.6"/>
<circle cx="272.15" cy="90.04" r="1.3" fill="white" fill-opacity="0.6" stroke="#b06070" stroke-width="0.6"/>
<circle cx="270.75" cy="90.88" r="1.3" fill="white" fill-opacity="0.6" stroke="#b06070" stroke-width="0.6"/>
<circle cx="275.20" cy="92.13" r="1.3" fill="white" fill-opacity="0.6" stroke="#b06070" stroke-width="0.6"/>
<circle cx="272.86" cy="93.38" r="1.3" fill="white" fill-opacity="0.6" stroke="#b06070" stroke-width="0.6"/>
<circle cx="275.72" cy="94.22" r="1.3" fill="white" fill-opacity="0.6" stroke="#b06070" stroke-width="0.6"/>
<circle cx="272.77" cy="95.06" r="1.3" fill="white" fill-opacity="0.6" stroke="#b06070" stroke-width="0.6"/>
<circle cx="276.43" cy="96.31" r="1.3" fill="white" fill-opacity="0.6" stroke="#b06070" stroke-width="0.6"/>
<circle cx="275.72" cy="97.56" r="1.3" fill="white" fill-opacity="0.6" stroke="#b06070" stroke-width="0.6"/>
<circle cx="270.30" cy="98.40" r="1.3" fill="white" fill-opacity="0.6" stroke="#b06070" stroke-width="0.6"/>
<circle cx="271.64" cy="100.49" r="1.3" fill="white" fill-opacity="0.6" stroke="#b06070" stroke-width="0.6"/>
<circle cx="276.13" cy="102.58" r="1.3" fill="white" fill-opacity="0.6" stroke="#b06070" stroke-width="0.6"/>
<circle cx="273.31" cy="104.67" r="1.3" fill="white" fill-opacity="0.6" stroke="#b06070" stroke-width="0.6"/>
<circle cx="276.57" cy="110.94" r="1.3" fill="white" fill-opacity="0.6" stroke="#b06070" stroke-width="0.6"/>
<circle cx="272.84" cy="111.78" r="1.3" fill="white" fill-opacity="0.6" stroke="#b06070" stroke-width="0.6"/>
<circle cx="270.77" cy="117.21" r="1.3" fill="white" fill-opacity="0.6" stroke="#b06070" stroke-width="0.6"/>
<circle cx="274.33" cy="119.30" r="1.3" fill="white" fill-opacity="0.6" stroke="#b06070" stroke-width="0.6"/>
<circle cx="275.28" cy="123.48" r="1.3" fill="white" fill-opacity="0.6" stroke="#b06070" stroke-width="0.6"/>
<circle cx="272.03" cy="125.15" r="1.3" fill="white" fill-opacity="0.6" stroke="#b06070" stroke-width="0.6"/>
<path d="M205.2,36 V28.6 H274.2 V36" stroke="#111" stroke-width="1.1" fill="none" />
<text x="239.60" y="25.50" font-size="4.2" fill="#333" text-anchor="middle" style="stroke:none"><tspan font-style="italic">P</tspan> = 1.78e-08</text>
<path d="M208,50.6 V42.9 H241.5 V50.6" stroke="#111" stroke-width="1.1" fill="none" />
<text x="225.00" y="39.80" font-size="4.2" fill="#333" text-anchor="middle" style="stroke:none"><tspan font-style="italic">P</tspan> = 6.32e-12</text>
<line x1="41.20" y1="158.80" x2="41.20" y2="235.40" stroke="#111" stroke-width="1.1" />
<line x1="38.30" y1="159.55" x2="41.20" y2="159.55" stroke="#111" stroke-width="1" />
<text x="35.50" y="161.35" font-size="5.2" fill="#222" text-anchor="end" >8.5</text>
<line x1="38.30" y1="174.10" x2="41.20" y2="174.10" stroke="#111" stroke-width="1" />
<text x="35.50" y="175.90" font-size="5.2" fill="#222" text-anchor="end" >8.0</text>
<line x1="38.30" y1="188.65" x2="41.20" y2="188.65" stroke="#111" stroke-width="1" />
<text x="35.50" y="190.45" font-size="5.2" fill="#222" text-anchor="end" >7.5</text>
<line x1="38.30" y1="203.20" x2="41.20" y2="203.20" stroke="#111" stroke-width="1" />
<text x="35.50" y="205.00" font-size="5.2" fill="#222" text-anchor="end" >7.0</text>
<line x1="38.30" y1="217.75" x2="41.20" y2="217.75" stroke="#111" stroke-width="1" />
<text x="35.50" y="219.55" font-size="5.2" fill="#222" text-anchor="end" >6.5</text>
<line x1="38.30" y1="232.30" x2="41.20" y2="232.30" stroke="#111" stroke-width="1" />
<text x="35.50" y="234.10" font-size="5.2" fill="#222" text-anchor="end" >6.0</text>
<text x="0" y="0" font-size="6.2" fill="#222" text-anchor="middle" textLength="54" lengthAdjust="spacingAndGlyphs" transform="translate(21.8,196.5) rotate(-90)">Rho signature (log2)</text>
<rect x="47.70" y="189.90" width="2.20" height="42.40" fill="#9a98c0" stroke="#4a4a6a" stroke-opacity="0.75" stroke-width="0.45"/>
<rect x="49.90" y="200.00" width="2.20" height="32.30" fill="#c4c2dc" stroke="#6a6a8a" stroke-opacity="0.75" stroke-width="0.45"/>
<rect x="52.30" y="181.10" width="2.38" height="51.20" fill="#2d4485" stroke="#0d1535" stroke-opacity="0.75" stroke-width="0.45"/>
<rect x="54.68" y="177.90" width="2.38" height="54.40" fill="#2d4485" stroke="#0d1535" stroke-opacity="0.75" stroke-width="0.45"/>
<rect x="57.06" y="179.30" width="2.38" height="53.00" fill="#2d4485" stroke="#0d1535" stroke-opacity="0.75" stroke-width="0.45"/>
<rect x="59.44" y="181.30" width="2.38" height="51.00" fill="#2d4485" stroke="#0d1535" stroke-opacity="0.75" stroke-width="0.45"/>
<rect x="61.82" y="187.90" width="2.38" height="44.40" fill="#2d4485" stroke="#0d1535" stroke-opacity="0.75" stroke-width="0.45"/>
<rect x="64.20" y="189.40" width="2.38" height="42.90" fill="#2d4485" stroke="#0d1535" stroke-opacity="0.75" stroke-width="0.45"/>
<rect x="66.58" y="184.70" width="2.38" height="47.60" fill="#2d4485" stroke="#0d1535" stroke-opacity="0.75" stroke-width="0.45"/>
<rect x="68.95" y="174.80" width="2.38" height="57.50" fill="#2d4485" stroke="#0d1535" stroke-opacity="0.75" stroke-width="0.45"/>
<rect x="71.33" y="180.30" width="2.38" height="52.00" fill="#2d4485" stroke="#0d1535" stroke-opacity="0.75" stroke-width="0.45"/>
<rect x="73.71" y="193.40" width="2.38" height="38.90" fill="#2d4485" stroke="#0d1535" stroke-opacity="0.75" stroke-width="0.45"/>
<rect x="76.09" y="181.70" width="2.38" height="50.60" fill="#2d4485" stroke="#0d1535" stroke-opacity="0.75" stroke-width="0.45"/>
<rect x="78.47" y="173.90" width="2.38" height="58.40" fill="#2d4485" stroke="#0d1535" stroke-opacity="0.75" stroke-width="0.45"/>
<rect x="80.85" y="175.10" width="2.38" height="57.20" fill="#2d4485" stroke="#0d1535" stroke-opacity="0.75" stroke-width="0.45"/>
<rect x="83.23" y="185.30" width="2.38" height="47.00" fill="#2d4485" stroke="#0d1535" stroke-opacity="0.75" stroke-width="0.45"/>
<rect x="85.61" y="180.30" width="2.38" height="52.00" fill="#2d4485" stroke="#0d1535" stroke-opacity="0.75" stroke-width="0.45"/>
<rect x="87.99" y="202.50" width="2.38" height="29.80" fill="#2d4485" stroke="#0d1535" stroke-opacity="0.75" stroke-width="0.45"/>
<rect x="90.37" y="189.40" width="2.38" height="42.90" fill="#2d4485" stroke="#0d1535" stroke-opacity="0.75" stroke-width="0.45"/>
<rect x="92.75" y="182.60" width="2.38" height="49.70" fill="#2d4485" stroke="#0d1535" stroke-opacity="0.75" stroke-width="0.45"/>
<rect x="95.12" y="179.50" width="2.38" height="52.80" fill="#2d4485" stroke="#0d1535" stroke-opacity="0.75" stroke-width="0.45"/>
<rect x="97.50" y="186.50" width="2.38" height="45.80" fill="#2d4485" stroke="#0d1535" stroke-opacity="0.75" stroke-width="0.45"/>
<rect x="99.88" y="194.20" width="2.38" height="38.10" fill="#2d4485" stroke="#0d1535" stroke-opacity="0.75" stroke-width="0.45"/>
<rect x="102.26" y="188.80" width="2.38" height="43.50" fill="#2d4485" stroke="#0d1535" stroke-opacity="0.75" stroke-width="0.45"/>
<rect x="104.64" y="172.70" width="2.38" height="59.60" fill="#2d4485" stroke="#0d1535" stroke-opacity="0.75" stroke-width="0.45"/>
<rect x="107.02" y="175.10" width="2.38" height="57.20" fill="#2d4485" stroke="#0d1535" stroke-opacity="0.75" stroke-width="0.45"/>
<rect x="110.10" y="183.90" width="2.00" height="48.40" fill="#f4f6ea" stroke="#b0b8a0" stroke-opacity="0.75" stroke-width="0.45"/>
<rect x="112.10" y="216.50" width="1.60" height="15.80" fill="#d0dab0" stroke="#8a9a70" stroke-opacity="0.75" stroke-width="0.45"/>
<rect x="113.70" y="213.80" width="1.60" height="18.50" fill="#d0dab0" stroke="#8a9a70" stroke-opacity="0.75" stroke-width="0.45"/>
<rect x="115.30" y="211.30" width="1.60" height="21.00" fill="#d0dab0" stroke="#8a9a70" stroke-opacity="0.75" stroke-width="0.45"/>
<rect x="116.90" y="193.50" width="2.03" height="38.80" fill="#8cae5c" stroke="#3a5020" stroke-opacity="0.75" stroke-width="0.45"/>
<rect x="118.93" y="189.80" width="2.03" height="42.50" fill="#8cae5c" stroke="#3a5020" stroke-opacity="0.75" stroke-width="0.45"/>
<rect x="120.97" y="190.60" width="2.03" height="41.70" fill="#8cae5c" stroke="#3a5020" stroke-opacity="0.75" stroke-width="0.45"/>
<rect x="123.00" y="194.00" width="2.03" height="38.30" fill="#8cae5c" stroke="#3a5020" stroke-opacity="0.75" stroke-width="0.45"/>
<rect x="125.04" y="204.30" width="2.03" height="28.00" fill="#8cae5c" stroke="#3a5020" stroke-opacity="0.75" stroke-width="0.45"/>
<rect x="127.07" y="188.60" width="2.03" height="43.70" fill="#8cae5c" stroke="#3a5020" stroke-opacity="0.75" stroke-width="0.45"/>
<rect x="129.11" y="193.50" width="2.03" height="38.80" fill="#66a23a" stroke="#2a4a18" stroke-opacity="0.75" stroke-width="0.45"/>
<rect x="131.14" y="200.90" width="2.03" height="31.40" fill="#66a23a" stroke="#2a4a18" stroke-opacity="0.75" stroke-width="0.45"/>
<rect x="133.18" y="193.50" width="2.03" height="38.80" fill="#66a23a" stroke="#2a4a18" stroke-opacity="0.75" stroke-width="0.45"/>
<rect x="135.21" y="195.40" width="2.03" height="36.90" fill="#66a23a" stroke="#2a4a18" stroke-opacity="0.75" stroke-width="0.45"/>
<rect x="137.24" y="222.10" width="2.03" height="10.20" fill="#66a23a" stroke="#2a4a18" stroke-opacity="0.75" stroke-width="0.45"/>
<rect x="139.28" y="199.40" width="2.03" height="32.90" fill="#66a23a" stroke="#2a4a18" stroke-opacity="0.75" stroke-width="0.45"/>
<rect x="141.31" y="196.50" width="2.03" height="35.80" fill="#66a23a" stroke="#2a4a18" stroke-opacity="0.75" stroke-width="0.45"/>
<rect x="143.35" y="198.00" width="2.03" height="34.30" fill="#66a23a" stroke="#2a4a18" stroke-opacity="0.75" stroke-width="0.45"/>
<rect x="145.38" y="210.10" width="2.03" height="22.20" fill="#66a23a" stroke="#2a4a18" stroke-opacity="0.75" stroke-width="0.45"/>
<rect x="147.42" y="200.20" width="2.03" height="32.10" fill="#66a23a" stroke="#2a4a18" stroke-opacity="0.75" stroke-width="0.45"/>
<rect x="149.45" y="201.70" width="2.03" height="30.60" fill="#66a23a" stroke="#2a4a18" stroke-opacity="0.75" stroke-width="0.45"/>
<rect x="151.48" y="202.40" width="2.03" height="29.90" fill="#66a23a" stroke="#2a4a18" stroke-opacity="0.75" stroke-width="0.45"/>
<rect x="153.52" y="200.90" width="2.03" height="31.40" fill="#66a23a" stroke="#2a4a18" stroke-opacity="0.75" stroke-width="0.45"/>
<rect x="155.55" y="201.40" width="2.03" height="30.90" fill="#66a23a" stroke="#2a4a18" stroke-opacity="0.75" stroke-width="0.45"/>
<rect x="157.59" y="208.30" width="2.03" height="24.00" fill="#66a23a" stroke="#2a4a18" stroke-opacity="0.75" stroke-width="0.45"/>
<rect x="159.62" y="199.90" width="2.03" height="32.40" fill="#66a23a" stroke="#2a4a18" stroke-opacity="0.75" stroke-width="0.45"/>
<rect x="161.66" y="208.80" width="2.03" height="23.50" fill="#66a23a" stroke="#2a4a18" stroke-opacity="0.75" stroke-width="0.45"/>
<rect x="163.69" y="209.40" width="2.03" height="22.90" fill="#66a23a" stroke="#2a4a18" stroke-opacity="0.75" stroke-width="0.45"/>
<rect x="165.72" y="208.30" width="2.03" height="24.00" fill="#66a23a" stroke="#2a4a18" stroke-opacity="0.75" stroke-width="0.45"/>
<rect x="167.76" y="195.70" width="2.03" height="36.60" fill="#66a23a" stroke="#2a4a18" stroke-opacity="0.75" stroke-width="0.45"/>
<rect x="169.79" y="198.70" width="2.03" height="33.60" fill="#66a23a" stroke="#2a4a18" stroke-opacity="0.75" stroke-width="0.45"/>
<rect x="171.83" y="209.80" width="2.03" height="22.50" fill="#66a23a" stroke="#2a4a18" stroke-opacity="0.75" stroke-width="0.45"/>
<rect x="173.86" y="201.70" width="2.03" height="30.60" fill="#66a23a" stroke="#2a4a18" stroke-opacity="0.75" stroke-width="0.45"/>
<rect x="175.90" y="202.90" width="2.03" height="29.40" fill="#66a23a" stroke="#2a4a18" stroke-opacity="0.75" stroke-width="0.45"/>
<rect x="177.93" y="199.40" width="2.03" height="32.90" fill="#66a23a" stroke="#2a4a18" stroke-opacity="0.75" stroke-width="0.45"/>
<rect x="179.97" y="199.00" width="2.03" height="33.30" fill="#66a23a" stroke="#2a4a18" stroke-opacity="0.75" stroke-width="0.45"/>
<rect x="182.00" y="198.80" width="2.30" height="33.50" fill="#a8112e" stroke="#4a0010" stroke-opacity="0.75" stroke-width="0.45"/>
<rect x="184.30" y="218.89" width="2.30" height="13.41" fill="#a8112e" stroke="#4a0010" stroke-opacity="0.75" stroke-width="0.45"/>
<rect x="186.59" y="211.27" width="2.30" height="21.03" fill="#a8112e" stroke="#4a0010" stroke-opacity="0.75" stroke-width="0.45"/>
<rect x="188.89" y="221.89" width="2.30" height="10.41" fill="#a8112e" stroke="#4a0010" stroke-opacity="0.75" stroke-width="0.45"/>
<rect x="191.18" y="203.88" width="2.30" height="28.42" fill="#a8112e" stroke="#4a0010" stroke-opacity="0.75" stroke-width="0.45"/>
<rect x="193.48" y="201.57" width="2.30" height="30.73" fill="#a8112e" stroke="#4a0010" stroke-opacity="0.75" stroke-width="0.45"/>
<rect x="195.77" y="202.96" width="2.30" height="29.34" fill="#a8112e" stroke="#4a0010" stroke-opacity="0.75" stroke-width="0.45"/>
<rect x="198.07" y="201.57" width="2.30" height="30.73" fill="#a8112e" stroke="#4a0010" stroke-opacity="0.75" stroke-width="0.45"/>
<rect x="200.36" y="189.56" width="2.30" height="42.74" fill="#a8112e" stroke="#4a0010" stroke-opacity="0.75" stroke-width="0.45"/>
<rect x="202.66" y="222.82" width="2.30" height="9.48" fill="#a8112e" stroke="#4a0010" stroke-opacity="0.75" stroke-width="0.45"/>
<rect x="204.96" y="203.88" width="2.30" height="28.42" fill="#a8112e" stroke="#4a0010" stroke-opacity="0.75" stroke-width="0.45"/>
<rect x="207.25" y="190.02" width="2.30" height="42.28" fill="#a8112e" stroke="#4a0010" stroke-opacity="0.75" stroke-width="0.45"/>
<rect x="209.55" y="201.11" width="2.30" height="31.19" fill="#a8112e" stroke="#4a0010" stroke-opacity="0.75" stroke-width="0.45"/>
<rect x="211.84" y="202.73" width="2.30" height="29.57" fill="#a8112e" stroke="#4a0010" stroke-opacity="0.75" stroke-width="0.45"/>
<rect x="214.14" y="198.80" width="2.30" height="33.50" fill="#a8112e" stroke="#4a0010" stroke-opacity="0.75" stroke-width="0.45"/>
<rect x="216.43" y="205.03" width="2.30" height="27.27" fill="#a8112e" stroke="#4a0010" stroke-opacity="0.75" stroke-width="0.45"/>
<rect x="218.73" y="211.27" width="2.30" height="21.03" fill="#a8112e" stroke="#4a0010" stroke-opacity="0.75" stroke-width="0.45"/>
<rect x="221.02" y="182.63" width="2.30" height="49.67" fill="#a8112e" stroke="#4a0010" stroke-opacity="0.75" stroke-width="0.45"/>
<rect x="223.32" y="182.63" width="2.30" height="49.67" fill="#a8112e" stroke="#4a0010" stroke-opacity="0.75" stroke-width="0.45"/>
<rect x="225.62" y="181.25" width="2.30" height="51.05" fill="#a8112e" stroke="#4a0010" stroke-opacity="0.75" stroke-width="0.45"/>
<rect x="227.91" y="211.96" width="2.30" height="20.34" fill="#a8112e" stroke="#4a0010" stroke-opacity="0.75" stroke-width="0.45"/>
<rect x="230.21" y="186.56" width="2.30" height="45.74" fill="#a8112e" stroke="#4a0010" stroke-opacity="0.75" stroke-width="0.45"/>
<rect x="232.50" y="194.64" width="2.30" height="37.66" fill="#a8112e" stroke="#4a0010" stroke-opacity="0.75" stroke-width="0.45"/>
<rect x="234.80" y="189.56" width="2.30" height="42.74" fill="#a8112e" stroke="#4a0010" stroke-opacity="0.75" stroke-width="0.45"/>
<rect x="237.09" y="200.42" width="2.30" height="31.88" fill="#a8112e" stroke="#4a0010" stroke-opacity="0.75" stroke-width="0.45"/>
<rect x="239.39" y="187.25" width="2.30" height="45.05" fill="#a8112e" stroke="#4a0010" stroke-opacity="0.75" stroke-width="0.45"/>
<rect x="241.68" y="184.25" width="2.30" height="48.05" fill="#a8112e" stroke="#4a0010" stroke-opacity="0.75" stroke-width="0.45"/>
<rect x="243.98" y="201.57" width="2.30" height="30.73" fill="#a8112e" stroke="#4a0010" stroke-opacity="0.75" stroke-width="0.45"/>
<rect x="246.28" y="194.18" width="2.30" height="38.12" fill="#a8112e" stroke="#4a0010" stroke-opacity="0.75" stroke-width="0.45"/>
<rect x="248.57" y="187.25" width="2.30" height="45.05" fill="#a8112e" stroke="#4a0010" stroke-opacity="0.75" stroke-width="0.45"/>
<rect x="250.87" y="189.56" width="2.30" height="42.74" fill="#a8112e" stroke="#4a0010" stroke-opacity="0.75" stroke-width="0.45"/>
<rect x="253.16" y="200.42" width="2.30" height="31.88" fill="#a8112e" stroke="#4a0010" stroke-opacity="0.75" stroke-width="0.45"/>
<rect x="255.46" y="180.32" width="2.30" height="51.98" fill="#a8112e" stroke="#4a0010" stroke-opacity="0.75" stroke-width="0.45"/>
<rect x="257.75" y="192.33" width="2.30" height="39.97" fill="#a8112e" stroke="#4a0010" stroke-opacity="0.75" stroke-width="0.45"/>
<rect x="260.05" y="201.11" width="2.30" height="31.19" fill="#a8112e" stroke="#4a0010" stroke-opacity="0.75" stroke-width="0.45"/>
<rect x="262.34" y="181.94" width="2.30" height="50.36" fill="#a8112e" stroke="#4a0010" stroke-opacity="0.75" stroke-width="0.45"/>
<rect x="264.64" y="188.18" width="2.30" height="44.12" fill="#a8112e" stroke="#4a0010" stroke-opacity="0.75" stroke-width="0.45"/>
<rect x="266.94" y="207.34" width="2.30" height="24.96" fill="#a8112e" stroke="#4a0010" stroke-opacity="0.75" stroke-width="0.45"/>
<rect x="269.23" y="184.25" width="2.30" height="48.05" fill="#a8112e" stroke="#4a0010" stroke-opacity="0.75" stroke-width="0.45"/>
<rect x="271.53" y="198.11" width="2.30" height="34.19" fill="#a8112e" stroke="#4a0010" stroke-opacity="0.75" stroke-width="0.45"/>
<rect x="273.82" y="192.79" width="2.30" height="39.51" fill="#a8112e" stroke="#4a0010" stroke-opacity="0.75" stroke-width="0.45"/>
<rect x="276.12" y="200.42" width="2.30" height="31.88" fill="#a8112e" stroke="#4a0010" stroke-opacity="0.75" stroke-width="0.45"/>
<rect x="278.41" y="187.25" width="2.30" height="45.05" fill="#a8112e" stroke="#4a0010" stroke-opacity="0.75" stroke-width="0.45"/>
<rect x="280.71" y="203.42" width="2.30" height="28.88" fill="#a8112e" stroke="#4a0010" stroke-opacity="0.75" stroke-width="0.45"/>
<rect x="283.00" y="190.48" width="2.30" height="41.82" fill="#a8112e" stroke="#4a0010" stroke-opacity="0.75" stroke-width="0.45"/>
<rect x="110.3" y="183.9" width="1.7" height="48.4" fill="#f5f7ec" stroke="#b5c09a" stroke-width="0.4"/>
<line x1="111.50" y1="183.40" x2="121.50" y2="172.60" stroke="#111" stroke-width="0.8" />
<path d="M122.8,171.2 L119.3,172.6 L121.3,174.5 Z" stroke="#111" stroke-width="0.3" fill="#111" />
<text x="124.30" y="172.10" font-size="4.15" fill="#222" text-anchor="start" >Mixed adenocarcinoma &amp; EBV<tspan font-size="2.8" dy="-1.5">+</tspan><tspan dy="1.5"> DLBL</tspan></text>
<rect x="47.80" y="234.20" width="4.50" height="4.30" fill="#a6a4c8" />
<rect x="52.30" y="234.20" width="57.30" height="4.30" fill="#2d4183" />
<rect x="109.60" y="234.20" width="6.20" height="4.30" fill="#e6eed4" />
<rect x="115.80" y="234.20" width="11.90" height="4.30" fill="#b1cc89" />
<rect x="127.70" y="234.20" width="54.30" height="4.30" fill="#74ad45" />
<rect x="182.00" y="234.20" width="103.20" height="4.30" fill="#a8112c" />
<rect x="48.00" y="244.10" width="4.50" height="4.50" fill="#a9a6cc" />
<text x="55.50" y="248.00" font-size="4.2" fill="#333" text-anchor="start" >EBV<tspan font-size="2.8" dy="-1.5">+</tspan><tspan dy="1.5"> LPD</tspan></text>
<rect x="48.00" y="252.80" width="4.50" height="4.50" fill="#2b3f7c" />
<text x="55.50" y="256.70" font-size="4.2" fill="#333" text-anchor="start" >EBV<tspan font-size="2.8" dy="-1.5">+</tspan><tspan dy="1.5"> DLBL</tspan></text>
<rect x="85.00" y="244.10" width="4.50" height="4.50" fill="#d3e2bc" />
<text x="92.50" y="248.00" font-size="4.2" fill="#333" text-anchor="start" >Mixed Adenocarcinoma &amp; EBV<tspan font-size="2.8" dy="-1.5">+</tspan><tspan dy="1.5"> DLBL or LPD</tspan></text>
<rect x="85.00" y="252.80" width="4.50" height="4.50" fill="#9bbf6e" />
<text x="92.50" y="256.70" font-size="4.2" fill="#333" text-anchor="start" >Adenocarcinoma with EBV gene detected</text>
<rect x="183.80" y="244.10" width="4.50" height="4.50" fill="#6aa84f" />
<text x="191.30" y="248.00" font-size="4.2" fill="#333" text-anchor="start" >Adenocarcinoma with no EBV gene detected</text>
<rect x="183.80" y="252.80" width="4.50" height="4.50" fill="#a3112e" />
<text x="191.30" y="256.70" font-size="4.2" fill="#333" text-anchor="start" >TCGA-DLBL</text>
<line x1="327.70" y1="39.20" x2="327.70" y2="101.40" stroke="#111" stroke-width="1.1" />
<line x1="324.80" y1="99.30" x2="327.70" y2="99.30" stroke="#111" stroke-width="1" />
<text x="320.80" y="101.20" font-size="5.2" fill="#222" text-anchor="end" >0</text>
<line x1="324.80" y1="85.15" x2="327.70" y2="85.15" stroke="#111" stroke-width="1" />
<text x="320.80" y="87.05" font-size="5.2" fill="#222" text-anchor="end" >10</text>
<line x1="324.80" y1="71.00" x2="327.70" y2="71.00" stroke="#111" stroke-width="1" />
<text x="320.80" y="72.90" font-size="5.2" fill="#222" text-anchor="end" >20</text>
<line x1="324.80" y1="56.85" x2="327.70" y2="56.85" stroke="#111" stroke-width="1" />
<text x="320.80" y="58.75" font-size="5.2" fill="#222" text-anchor="end" >30</text>
<line x1="324.80" y1="42.70" x2="327.70" y2="42.70" stroke="#111" stroke-width="1" />
<text x="320.80" y="44.60" font-size="5.2" fill="#222" text-anchor="end" >40</text>
<line x1="327.70" y1="101.30" x2="513.30" y2="101.30" stroke="#111" stroke-width="1.1" />
<line x1="334.20" y1="101.30" x2="334.20" y2="103.70" stroke="#111" stroke-width="1" />
<text x="334.20" y="112.20" font-size="5.2" fill="#1a1a1a" text-anchor="middle" >0</text>
<line x1="354.19" y1="101.30" x2="354.19" y2="103.70" stroke="#111" stroke-width="1" />
<text x="354.19" y="112.20" font-size="5.2" fill="#1a1a1a" text-anchor="middle" >20000</text>
<line x1="374.19" y1="101.30" x2="374.19" y2="103.70" stroke="#111" stroke-width="1" />
<text x="374.19" y="112.20" font-size="5.2" fill="#1a1a1a" text-anchor="middle" >40000</text>
<line x1="394.19" y1="101.30" x2="394.19" y2="103.70" stroke="#111" stroke-width="1" />
<text x="394.19" y="112.20" font-size="5.2" fill="#1a1a1a" text-anchor="middle" >60000</text>
<line x1="414.18" y1="101.30" x2="414.18" y2="103.70" stroke="#111" stroke-width="1" />
<text x="414.18" y="112.20" font-size="5.2" fill="#1a1a1a" text-anchor="middle" >80000</text>
<line x1="434.18" y1="101.30" x2="434.18" y2="103.70" stroke="#111" stroke-width="1" />
<text x="434.18" y="112.20" font-size="5.2" fill="#1a1a1a" text-anchor="middle" >100000</text>
<line x1="454.17" y1="101.30" x2="454.17" y2="103.70" stroke="#111" stroke-width="1" />
<text x="454.17" y="112.20" font-size="5.2" fill="#1a1a1a" text-anchor="middle" >120000</text>
<line x1="474.16" y1="101.30" x2="474.16" y2="103.70" stroke="#111" stroke-width="1" />
<text x="474.16" y="112.20" font-size="5.2" fill="#1a1a1a" text-anchor="middle" >140000</text>
<line x1="494.16" y1="101.30" x2="494.16" y2="103.70" stroke="#111" stroke-width="1" />
<text x="494.16" y="112.20" font-size="5.2" fill="#1a1a1a" text-anchor="middle" >160000</text>
<text x="420.20" y="121.90" font-size="7.4" fill="#1a1a1a" text-anchor="middle" textLength="33.60" lengthAdjust="spacingAndGlyphs" >EBV genome</text>
<text x="419.30" y="34.70" font-size="7.6" fill="#1a1a1a" text-anchor="middle" textLength="37.50" lengthAdjust="spacingAndGlyphs" >EBV<tspan font-size="4.6" dy="-2.6">+</tspan><tspan dy="2.6"> DLBL</tspan></text>
<text x="0" y="0" font-size="6.8" fill="#222" text-anchor="middle" textLength="14" lengthAdjust="spacingAndGlyphs" transform="translate(310.6,71) rotate(-90)">X102</text>
<line x1="327.70" y1="139.30" x2="327.70" y2="201.70" stroke="#111" stroke-width="1.1" />
<line x1="324.80" y1="199.60" x2="327.70" y2="199.60" stroke="#111" stroke-width="1" />
<text x="320.80" y="201.50" font-size="5.2" fill="#222" text-anchor="end" >0</text>
<line x1="324.80" y1="185.45" x2="327.70" y2="185.45" stroke="#111" stroke-width="1" />
<text x="320.80" y="187.35" font-size="5.2" fill="#222" text-anchor="end" >10</text>
<line x1="324.80" y1="171.30" x2="327.70" y2="171.30" stroke="#111" stroke-width="1" />
<text x="320.80" y="173.20" font-size="5.2" fill="#222" text-anchor="end" >20</text>
<line x1="324.80" y1="157.15" x2="327.70" y2="157.15" stroke="#111" stroke-width="1" />
<text x="320.80" y="159.05" font-size="5.2" fill="#222" text-anchor="end" >30</text>
<line x1="324.80" y1="143.00" x2="327.70" y2="143.00" stroke="#111" stroke-width="1" />
<text x="320.80" y="144.90" font-size="5.2" fill="#222" text-anchor="end" >40</text>
<line x1="327.70" y1="201.60" x2="513.30" y2="201.60" stroke="#111" stroke-width="1.1" />
<line x1="334.20" y1="201.60" x2="334.20" y2="204.00" stroke="#111" stroke-width="1" />
<text x="334.20" y="212.50" font-size="5.2" fill="#1a1a1a" text-anchor="middle" >0</text>
<line x1="354.19" y1="201.60" x2="354.19" y2="204.00" stroke="#111" stroke-width="1" />
<text x="354.19" y="212.50" font-size="5.2" fill="#1a1a1a" text-anchor="middle" >20000</text>
<line x1="374.19" y1="201.60" x2="374.19" y2="204.00" stroke="#111" stroke-width="1" />
<text x="374.19" y="212.50" font-size="5.2" fill="#1a1a1a" text-anchor="middle" >40000</text>
<line x1="394.19" y1="201.60" x2="394.19" y2="204.00" stroke="#111" stroke-width="1" />
<text x="394.19" y="212.50" font-size="5.2" fill="#1a1a1a" text-anchor="middle" >60000</text>
<line x1="414.18" y1="201.60" x2="414.18" y2="204.00" stroke="#111" stroke-width="1" />
<text x="414.18" y="212.50" font-size="5.2" fill="#1a1a1a" text-anchor="middle" >80000</text>
<line x1="434.18" y1="201.60" x2="434.18" y2="204.00" stroke="#111" stroke-width="1" />
<text x="434.18" y="212.50" font-size="5.2" fill="#1a1a1a" text-anchor="middle" >100000</text>
<line x1="454.17" y1="201.60" x2="454.17" y2="204.00" stroke="#111" stroke-width="1" />
<text x="454.17" y="212.50" font-size="5.2" fill="#1a1a1a" text-anchor="middle" >120000</text>
<line x1="474.16" y1="201.60" x2="474.16" y2="204.00" stroke="#111" stroke-width="1" />
<text x="474.16" y="212.50" font-size="5.2" fill="#1a1a1a" text-anchor="middle" >140000</text>
<line x1="494.16" y1="201.60" x2="494.16" y2="204.00" stroke="#111" stroke-width="1" />
<text x="494.16" y="212.50" font-size="5.2" fill="#1a1a1a" text-anchor="middle" >160000</text>
<text x="420.20" y="222.20" font-size="7.4" fill="#1a1a1a" text-anchor="middle" textLength="33.60" lengthAdjust="spacingAndGlyphs" >EBV genome</text>
<text x="420.40" y="135.50" font-size="7.6" fill="#1a1a1a" text-anchor="middle" textLength="58.70" lengthAdjust="spacingAndGlyphs" >TCGA EBV<tspan font-size="4.6" dy="-2.6">+</tspan><tspan dy="2.6"> LELC</tspan></text>
<text x="0" y="0" font-size="6.8" fill="#222" text-anchor="middle" textLength="56.5" lengthAdjust="spacingAndGlyphs" transform="translate(310.2,169.5) rotate(-90)">TCGA-BR-4253-01A</text>
<path d="M334.00,98.90 L369.50,98.90" stroke="#55556a" stroke-width="0.55" fill="none" stroke-linejoin="round"/>
<path d="M375.00,98.90 L507.00,98.90" stroke="#6a6a8a" stroke-width="0.5" fill="none" stroke-linejoin="round"/>
<path d="M333.50,99.30 L335.00,97.70 L337.50,97.80 L339.00,98.70" stroke="#e89a40" stroke-width="0.8" fill="none" stroke-linejoin="round"/>
<path d="M372.3,99 L372.3,40.6 L374.4,42 L374.4,99 Z" fill="#dcefee"/>
<path d="M369.50,98.90 L371.00,97.80 L372.30,96.30 L372.30,40.60" stroke="#3a4a4a" stroke-width="0.6" fill="none" stroke-linejoin="round"/>
<path d="M374.40,42.00 L374.40,97.30 L375.00,98.90" stroke="#2a8a80" stroke-width="0.6" fill="none" stroke-linejoin="round"/>
<path d="M373.35,44 V97" stroke="#6a8080" stroke-width="0.5" stroke-dasharray="1.2,1.2"/>
<path d="M376.30,99.30 L377.10,88.70 L377.90,99.30" stroke="#222" stroke-width="0.65" fill="none" stroke-linejoin="round"/>
<path d="M378.0,99.0 L379.2,96.3 L380.5,99.0 Z" fill="#d8b030" stroke="#d8b030" stroke-width="0.4" stroke-linejoin="round"/>
<path d="M380.5,99.0 L381.8,96.5 L383.5,99.0 Z" fill="#6a1a30" stroke="#6a1a30" stroke-width="0.4" stroke-linejoin="round"/>
<path d="M392.5,99.0 L394.8,98.1 L397.0,99.0 Z" fill="#e07030" stroke="#e07030" stroke-width="0.4" stroke-linejoin="round"/>
<path d="M397.5,99.0 L399.5,96.5 L401.5,99.0 Z" fill="#8ab040" stroke="#8ab040" stroke-width="0.4" stroke-linejoin="round"/>
<path d="M400.5,99.0 L402.8,92.5 L405.5,99.0 Z" fill="#3a3a3a" stroke="#3a3a3a" stroke-width="0.4" stroke-linejoin="round"/>
<path d="M405.0,99.0 L407.0,96.1 L409.0,99.0 Z" fill="#5a3a6a" stroke="#5a3a6a" stroke-width="0.4" stroke-linejoin="round"/>
<path d="M408.5,99.0 L410.2,96.7 L412.0,99.0 Z" fill="#3a3a3a" stroke="#3a3a3a" stroke-width="0.4" stroke-linejoin="round"/>
<path d="M412.0,99.0 L414.0,97.5 L416.0,99.0 Z" fill="#50b0c8" stroke="#50b0c8" stroke-width="0.4" stroke-linejoin="round"/>
<path d="M418.0,99.0 L420.5,96.3 L423.0,99.0 Z" fill="#d84020" stroke="#d84020" stroke-width="0.4" stroke-linejoin="round"/>
<path d="M423.0,99.0 L425.0,96.8 L427.0,99.0 Z" fill="#8ab040" stroke="#8ab040" stroke-width="0.4" stroke-linejoin="round"/>
<path d="M427.0,99.0 L428.5,97.8 L430.0,99.0 Z" fill="#c05060" stroke="#c05060" stroke-width="0.4" stroke-linejoin="round"/>
<path d="M432.40,99.30 L433.30,88.70 L434.20,99.30" stroke="#b03050" stroke-width="0.65" fill="none" stroke-linejoin="round"/>
<path d="M438.0,99.0 L440.0,97.7 L442.0,99.0 Z" fill="#3a3a3a" stroke="#3a3a3a" stroke-width="0.4" stroke-linejoin="round"/>
<path d="M443.0,99.0 L445.0,97.9 L447.0,99.0 Z" fill="#d8c040" stroke="#d8c040" stroke-width="0.4" stroke-linejoin="round"/>
<path d="M448.0,99.0 L449.5,98.1 L451.0,99.0 Z" fill="#8ab040" stroke="#8ab040" stroke-width="0.4" stroke-linejoin="round"/>
<path d="M452.0,99.0 L454.0,97.3 L456.0,99.0 Z" fill="#c04050" stroke="#c04050" stroke-width="0.4" stroke-linejoin="round"/>
<path d="M462.0,99.0 L464.0,98.1 L466.0,99.0 Z" fill="#6a7ab0" stroke="#6a7ab0" stroke-width="0.4" stroke-linejoin="round"/>
<path d="M469.5,99.0 L471.3,94.0 L473.0,99.0 Z" fill="#c04050" stroke="#c04050" stroke-width="0.4" stroke-linejoin="round"/>
<path d="M476.80,99.30 L477.60,84.70 L478.40,99.30" stroke="#6a8a7a" stroke-width="0.65" fill="none" stroke-linejoin="round"/>
<path d="M479.00,98.80 L482.00,96.80 L485.00,96.80 L487.00,96.30" stroke="#2a5a70" stroke-width="0.7" fill="none" stroke-linejoin="round"/>
<path d="M486.5,98.9 L488.5,96.8 L490.2,94.8 L491.6,94.2 L493,94.8 L494.6,98.9 Z" fill="#f6ecb0" stroke="#e0c840" stroke-width="0.6"/>
<path d="M494.00,96.80 L497.00,97.80 L499.00,98.50" stroke="#3050a0" stroke-width="0.7" fill="none" stroke-linejoin="round"/>
<path d="M500.30,99.30 L501.10,89.00 L501.90,99.30" stroke="#5a2a3a" stroke-width="0.65" fill="none" stroke-linejoin="round"/>
<path d="M502.0,99.0 L504.0,98.1 L506.0,99.0 Z" fill="#3a3a3a" stroke="#3a3a3a" stroke-width="0.4" stroke-linejoin="round"/>
<path d="M334.00,199.40 L470.00,199.40" stroke="#a8a8cc" stroke-width="0.7" fill="none" stroke-linejoin="round"/>
<path d="M336.00,199.30 L338.50,199.30" stroke="#8080c0" stroke-width="0.7" fill="none" stroke-linejoin="round"/>
<path d="M342.00,199.30 L344.50,199.30" stroke="#8080c0" stroke-width="0.7" fill="none" stroke-linejoin="round"/>
<path d="M348.00,199.30 L350.50,199.30" stroke="#c08060" stroke-width="0.7" fill="none" stroke-linejoin="round"/>
<path d="M354.00,199.30 L356.50,199.30" stroke="#c08060" stroke-width="0.7" fill="none" stroke-linejoin="round"/>
<path d="M360.00,199.30 L362.50,199.30" stroke="#c08060" stroke-width="0.7" fill="none" stroke-linejoin="round"/>
<path d="M366.00,199.30 L368.50,199.30" stroke="#c08060" stroke-width="0.7" fill="none" stroke-linejoin="round"/>
<path d="M372.00,199.30 L374.50,199.30" stroke="#c08060" stroke-width="0.7" fill="none" stroke-linejoin="round"/>
<path d="M378.00,199.30 L380.50,199.30" stroke="#c08060" stroke-width="0.7" fill="none" stroke-linejoin="round"/>
<path d="M384.00,199.30 L386.50,199.30" stroke="#6060a0" stroke-width="0.7" fill="none" stroke-linejoin="round"/>
<path d="M390.00,199.30 L392.50,199.30" stroke="#c08060" stroke-width="0.7" fill="none" stroke-linejoin="round"/>
<path d="M396.00,199.30 L398.50,199.30" stroke="#8080c0" stroke-width="0.7" fill="none" stroke-linejoin="round"/>
<path d="M402.00,199.30 L404.50,199.30" stroke="#6060a0" stroke-width="0.7" fill="none" stroke-linejoin="round"/>
<path d="M408.00,199.30 L410.50,199.30" stroke="#404060" stroke-width="0.7" fill="none" stroke-linejoin="round"/>
<path d="M414.00,199.30 L416.50,199.30" stroke="#c08060" stroke-width="0.7" fill="none" stroke-linejoin="round"/>
<path d="M420.00,199.30 L422.50,199.30" stroke="#6060a0" stroke-width="0.7" fill="none" stroke-linejoin="round"/>
<path d="M426.00,199.30 L428.50,199.30" stroke="#8080c0" stroke-width="0.7" fill="none" stroke-linejoin="round"/>
<path d="M432.00,199.30 L434.50,199.30" stroke="#c08060" stroke-width="0.7" fill="none" stroke-linejoin="round"/>
<path d="M438.00,199.30 L440.50,199.30" stroke="#6060a0" stroke-width="0.7" fill="none" stroke-linejoin="round"/>
<path d="M444.00,199.30 L446.50,199.30" stroke="#8080c0" stroke-width="0.7" fill="none" stroke-linejoin="round"/>
<path d="M450.00,199.30 L452.50,199.30" stroke="#404060" stroke-width="0.7" fill="none" stroke-linejoin="round"/>
<path d="M456.00,199.30 L458.50,199.30" stroke="#404060" stroke-width="0.7" fill="none" stroke-linejoin="round"/>
<path d="M462.00,199.30 L464.50,199.30" stroke="#c08060" stroke-width="0.7" fill="none" stroke-linejoin="round"/>
<path d="M468.00,199.30 L470.50,199.30" stroke="#8080c0" stroke-width="0.7" fill="none" stroke-linejoin="round"/>
<path d="M335.00,199.60 L336.50,198.10 L338.00,198.60" stroke="#e08030" stroke-width="0.8" fill="none" stroke-linejoin="round"/>
<path d="M339.00,199.60 L340.50,197.80 L342.00,199.60" stroke="#222" stroke-width="0.8" fill="none" stroke-linejoin="round"/>
<path d="M471.50,199.10 L472.50,198.10 L472.50,182.00" stroke="#222" stroke-width="0.7" fill="none" stroke-linejoin="round"/>
<path d="M472.50,198.10 L474.50,197.40" stroke="#222" stroke-width="0.6" fill="none" stroke-linejoin="round"/>
<path d="M476.00,199.30 L479.00,199.00 L480.10,198.60 L480.10,186.20 L481.00,185.50" stroke="#222" stroke-width="0.7" fill="none" stroke-linejoin="round"/>
<path d="M482.80,176.00 L482.80,199.60" stroke="#f0c0a0" stroke-width="0.5" fill="none" stroke-linejoin="round"/>
<path d="M481.00,185.50 L483.50,185.00 L485.50,185.00 L486.50,184.00" stroke="#222" stroke-width="0.7" fill="none" stroke-linejoin="round"/>
<path d="M485.70,185.00 L486.20,180.00 L487.00,178.50 L488.00,177.80" stroke="#6aa8c8" stroke-width="1.0" fill="none" stroke-linejoin="round"/>
<path d="M490.40,185.00 L490.40,160.30" stroke="#7a4a28" stroke-width="0.7" fill="none" stroke-linejoin="round"/>
<path d="M490.8,182.6 L491.2,176 L492.5,174 L493.8,176.5 L494.6,181 Z" fill="#f0a020" fill-opacity="0.8"/>
<path d="M494.10,167.00 L494.10,198.00" stroke="#f4d050" stroke-width="0.6" fill="none" stroke-linejoin="round"/>
<path d="M488.50,175.00 L488.50,199.60" stroke="#f8e0b0" stroke-width="0.5" fill="none" stroke-linejoin="round"/>
<path d="M495.00,199.20 L506.00,199.20" stroke="#5a5a7a" stroke-width="0.6" fill="none" stroke-linejoin="round"/>
<rect x="41.00" y="304.20" width="56.90" height="7.20" fill="#e21f26" />
<rect x="97.90" y="304.20" width="17.80" height="7.20" fill="#c2c2c2" />
<rect x="115.70" y="304.20" width="55.00" height="7.20" fill="#2251a8" />
<rect x="41.00" y="313.40" width="2.42" height="8.43" fill="#e5623e" shape-rendering="crispEdges"/>
<rect x="43.37" y="313.40" width="2.42" height="8.43" fill="#e5633e" shape-rendering="crispEdges"/>
<rect x="45.74" y="313.40" width="2.42" height="8.43" fill="#e8714e" shape-rendering="crispEdges"/>
<rect x="48.11" y="313.40" width="2.42" height="8.43" fill="#ec8d6f" shape-rendering="crispEdges"/>
<rect x="50.48" y="313.40" width="2.42" height="8.43" fill="#dd4b30" shape-rendering="crispEdges"/>
<rect x="52.85" y="313.40" width="2.42" height="8.43" fill="#ee997d" shape-rendering="crispEdges"/>
<rect x="55.23" y="313.40" width="2.42" height="8.43" fill="#ed9477" shape-rendering="crispEdges"/>
<rect x="57.60" y="313.40" width="2.42" height="8.43" fill="#e76b47" shape-rendering="crispEdges"/>
<rect x="59.97" y="313.40" width="2.42" height="8.43" fill="#ee987c" shape-rendering="crispEdges"/>
<rect x="62.34" y="313.40" width="2.42" height="8.43" fill="#e8724f" shape-rendering="crispEdges"/>
<rect x="64.71" y="313.40" width="2.42" height="8.43" fill="#e45e3b" shape-rendering="crispEdges"/>
<rect x="67.08" y="313.40" width="2.42" height="8.43" fill="#e97c5b" shape-rendering="crispEdges"/>
<rect x="69.45" y="313.40" width="2.42" height="8.43" fill="#e76d4a" shape-rendering="crispEdges"/>
<rect x="71.82" y="313.40" width="2.42" height="8.43" fill="#2b4fa6" shape-rendering="crispEdges"/>
<rect x="74.19" y="313.40" width="2.42" height="8.43" fill="#e97957" shape-rendering="crispEdges"/>
<rect x="76.56" y="313.40" width="2.42" height="8.43" fill="#ec8e71" shape-rendering="crispEdges"/>
<rect x="78.93" y="313.40" width="2.42" height="8.43" fill="#f3e3e2" shape-rendering="crispEdges"/>
<rect x="81.30" y="313.40" width="2.42" height="8.43" fill="#ef9f84" shape-rendering="crispEdges"/>
<rect x="83.68" y="313.40" width="2.42" height="8.43" fill="#e97a59" shape-rendering="crispEdges"/>
<rect x="86.05" y="313.40" width="2.42" height="8.43" fill="#f1ac93" shape-rendering="crispEdges"/>
<rect x="88.42" y="313.40" width="2.42" height="8.43" fill="#ec8b6d" shape-rendering="crispEdges"/>
<rect x="90.79" y="313.40" width="2.42" height="8.43" fill="#e87351" shape-rendering="crispEdges"/>
<rect x="93.16" y="313.40" width="2.42" height="8.43" fill="#e15637" shape-rendering="crispEdges"/>
<rect x="95.53" y="313.40" width="2.42" height="8.43" fill="#efa489" shape-rendering="crispEdges"/>
<rect x="97.90" y="313.40" width="2.59" height="8.43" fill="#2b4fa6" shape-rendering="crispEdges"/>
<rect x="100.44" y="313.40" width="2.59" height="8.43" fill="#2b4fa6" shape-rendering="crispEdges"/>
<rect x="102.99" y="313.40" width="2.59" height="8.43" fill="#f5e5e0" shape-rendering="crispEdges"/>
<rect x="105.53" y="313.40" width="2.59" height="8.43" fill="#e5633e" shape-rendering="crispEdges"/>
<rect x="108.07" y="313.40" width="2.59" height="8.43" fill="#2b4fa6" shape-rendering="crispEdges"/>
<rect x="110.61" y="313.40" width="2.59" height="8.43" fill="#bab7df" shape-rendering="crispEdges"/>
<rect x="113.16" y="313.40" width="2.59" height="8.43" fill="#5a6db8" shape-rendering="crispEdges"/>
<rect x="115.70" y="313.40" width="2.44" height="8.43" fill="#db462d" shape-rendering="crispEdges"/>
<rect x="118.09" y="313.40" width="2.44" height="8.43" fill="#f0aa91" shape-rendering="crispEdges"/>
<rect x="120.48" y="313.40" width="2.44" height="8.43" fill="#f2b9a3" shape-rendering="crispEdges"/>
<rect x="122.87" y="313.40" width="2.44" height="8.43" fill="#ed9578" shape-rendering="crispEdges"/>
<rect x="125.27" y="313.40" width="2.44" height="8.43" fill="#eb8a6c" shape-rendering="crispEdges"/>
<rect x="127.66" y="313.40" width="2.44" height="8.43" fill="#f4d6cb" shape-rendering="crispEdges"/>
<rect x="130.05" y="313.40" width="2.44" height="8.43" fill="#dd4d31" shape-rendering="crispEdges"/>
<rect x="132.44" y="313.40" width="2.44" height="8.43" fill="#e66a46" shape-rendering="crispEdges"/>
<rect x="134.83" y="313.40" width="2.44" height="8.43" fill="#eb8767" shape-rendering="crispEdges"/>
<rect x="137.22" y="313.40" width="2.44" height="8.43" fill="#e76d49" shape-rendering="crispEdges"/>
<rect x="139.61" y="313.40" width="2.44" height="8.43" fill="#e8714e" shape-rendering="crispEdges"/>
<rect x="142.00" y="313.40" width="2.44" height="8.43" fill="#e15637" shape-rendering="crispEdges"/>
<rect x="144.40" y="313.40" width="2.44" height="8.43" fill="#e87452" shape-rendering="crispEdges"/>
<rect x="146.79" y="313.40" width="2.44" height="8.43" fill="#df5133" shape-rendering="crispEdges"/>
<rect x="149.18" y="313.40" width="2.44" height="8.43" fill="#dc492f" shape-rendering="crispEdges"/>
<rect x="151.57" y="313.40" width="2.44" height="8.43" fill="#eb8667" shape-rendering="crispEdges"/>
<rect x="153.96" y="313.40" width="2.44" height="8.43" fill="#ec8c6d" shape-rendering="crispEdges"/>
<rect x="156.35" y="313.40" width="2.44" height="8.43" fill="#ee9c81" shape-rendering="crispEdges"/>
<rect x="158.74" y="313.40" width="2.44" height="8.43" fill="#ea8363" shape-rendering="crispEdges"/>
<rect x="161.13" y="313.40" width="2.44" height="8.43" fill="#ed967a" shape-rendering="crispEdges"/>
<rect x="163.53" y="313.40" width="2.44" height="8.43" fill="#e97a59" shape-rendering="crispEdges"/>
<rect x="165.92" y="313.40" width="2.44" height="8.43" fill="#e76e4b" shape-rendering="crispEdges"/>
<rect x="168.31" y="313.40" width="2.44" height="8.43" fill="#e66541" shape-rendering="crispEdges"/>
<rect x="41.00" y="321.77" width="2.42" height="8.43" fill="#ec8e70" shape-rendering="crispEdges"/>
<rect x="43.37" y="321.77" width="2.42" height="8.43" fill="#ef9e83" shape-rendering="crispEdges"/>
<rect x="45.74" y="321.77" width="2.42" height="8.43" fill="#f2b6a0" shape-rendering="crispEdges"/>
<rect x="48.11" y="321.77" width="2.42" height="8.43" fill="#f1ae95" shape-rendering="crispEdges"/>
<rect x="50.48" y="321.77" width="2.42" height="8.43" fill="#efa186" shape-rendering="crispEdges"/>
<rect x="52.85" y="321.77" width="2.42" height="8.43" fill="#e9dde3" shape-rendering="crispEdges"/>
<rect x="55.23" y="321.77" width="2.42" height="8.43" fill="#f0aa91" shape-rendering="crispEdges"/>
<rect x="57.60" y="321.77" width="2.42" height="8.43" fill="#e8724f" shape-rendering="crispEdges"/>
<rect x="59.97" y="321.77" width="2.42" height="8.43" fill="#f3c2b0" shape-rendering="crispEdges"/>
<rect x="62.34" y="321.77" width="2.42" height="8.43" fill="#efa085" shape-rendering="crispEdges"/>
<rect x="64.71" y="321.77" width="2.42" height="8.43" fill="#e76b47" shape-rendering="crispEdges"/>
<rect x="67.08" y="321.77" width="2.42" height="8.43" fill="#eb8667" shape-rendering="crispEdges"/>
<rect x="69.45" y="321.77" width="2.42" height="8.43" fill="#ea8060" shape-rendering="crispEdges"/>
<rect x="71.82" y="321.77" width="2.42" height="8.43" fill="#ee9e83" shape-rendering="crispEdges"/>
<rect x="74.19" y="321.77" width="2.42" height="8.43" fill="#f3c3b2" shape-rendering="crispEdges"/>
<rect x="76.56" y="321.77" width="2.42" height="8.43" fill="#df5133" shape-rendering="crispEdges"/>
<rect x="78.93" y="321.77" width="2.42" height="8.43" fill="#ed9174" shape-rendering="crispEdges"/>
<rect x="81.30" y="321.77" width="2.42" height="8.43" fill="#ed9376" shape-rendering="crispEdges"/>
<rect x="83.68" y="321.77" width="2.42" height="8.43" fill="#e76c48" shape-rendering="crispEdges"/>
<rect x="86.05" y="321.77" width="2.42" height="8.43" fill="#ea8363" shape-rendering="crispEdges"/>
<rect x="88.42" y="321.77" width="2.42" height="8.43" fill="#ee987c" shape-rendering="crispEdges"/>
<rect x="90.79" y="321.77" width="2.42" height="8.43" fill="#f2bba7" shape-rendering="crispEdges"/>
<rect x="93.16" y="321.77" width="2.42" height="8.43" fill="#ef9e83" shape-rendering="crispEdges"/>
<rect x="95.53" y="321.77" width="2.42" height="8.43" fill="#ee9e83" shape-rendering="crispEdges"/>
<rect x="97.90" y="321.77" width="2.59" height="8.43" fill="#2b4fa6" shape-rendering="crispEdges"/>
<rect x="100.44" y="321.77" width="2.59" height="8.43" fill="#2b4fa6" shape-rendering="crispEdges"/>
<rect x="102.99" y="321.77" width="2.59" height="8.43" fill="#ecdee2" shape-rendering="crispEdges"/>
<rect x="105.53" y="321.77" width="2.59" height="8.43" fill="#f2b39c" shape-rendering="crispEdges"/>
<rect x="108.07" y="321.77" width="2.59" height="8.43" fill="#f4e5e2" shape-rendering="crispEdges"/>
<rect x="110.61" y="321.77" width="2.59" height="8.43" fill="#a1a0d5" shape-rendering="crispEdges"/>
<rect x="113.16" y="321.77" width="2.59" height="8.43" fill="#2b4fa6" shape-rendering="crispEdges"/>
<rect x="115.70" y="321.77" width="2.44" height="8.43" fill="#eb8566" shape-rendering="crispEdges"/>
<rect x="118.09" y="321.77" width="2.44" height="8.43" fill="#d9d1e4" shape-rendering="crispEdges"/>
<rect x="120.48" y="321.77" width="2.44" height="8.43" fill="#f0a68c" shape-rendering="crispEdges"/>
<rect x="122.87" y="321.77" width="2.44" height="8.43" fill="#f0aa91" shape-rendering="crispEdges"/>
<rect x="125.27" y="321.77" width="2.44" height="8.43" fill="#f2b59e" shape-rendering="crispEdges"/>
<rect x="127.66" y="321.77" width="2.44" height="8.43" fill="#ec9173" shape-rendering="crispEdges"/>
<rect x="130.05" y="321.77" width="2.44" height="8.43" fill="#f2b9a4" shape-rendering="crispEdges"/>
<rect x="132.44" y="321.77" width="2.44" height="8.43" fill="#2b4fa6" shape-rendering="crispEdges"/>
<rect x="134.83" y="321.77" width="2.44" height="8.43" fill="#ef9f84" shape-rendering="crispEdges"/>
<rect x="137.22" y="321.77" width="2.44" height="8.43" fill="#f2b7a1" shape-rendering="crispEdges"/>
<rect x="139.61" y="321.77" width="2.44" height="8.43" fill="#f1ae95" shape-rendering="crispEdges"/>
<rect x="142.00" y="321.77" width="2.44" height="8.43" fill="#f3c7b8" shape-rendering="crispEdges"/>
<rect x="144.40" y="321.77" width="2.44" height="8.43" fill="#e5633e" shape-rendering="crispEdges"/>
<rect x="146.79" y="321.77" width="2.44" height="8.43" fill="#f1ab92" shape-rendering="crispEdges"/>
<rect x="149.18" y="321.77" width="2.44" height="8.43" fill="#f4d5cb" shape-rendering="crispEdges"/>
<rect x="151.57" y="321.77" width="2.44" height="8.43" fill="#e76d4a" shape-rendering="crispEdges"/>
<rect x="153.96" y="321.77" width="2.44" height="8.43" fill="#e97957" shape-rendering="crispEdges"/>
<rect x="156.35" y="321.77" width="2.44" height="8.43" fill="#f1b097" shape-rendering="crispEdges"/>
<rect x="158.74" y="321.77" width="2.44" height="8.43" fill="#f3c2b1" shape-rendering="crispEdges"/>
<rect x="161.13" y="321.77" width="2.44" height="8.43" fill="#f3c6b5" shape-rendering="crispEdges"/>
<rect x="163.53" y="321.77" width="2.44" height="8.43" fill="#ea8364" shape-rendering="crispEdges"/>
<rect x="165.92" y="321.77" width="2.44" height="8.43" fill="#f2b59e" shape-rendering="crispEdges"/>
<rect x="168.31" y="321.77" width="2.44" height="8.43" fill="#f3c5b4" shape-rendering="crispEdges"/>
<rect x="41.00" y="330.15" width="2.42" height="8.43" fill="#e45f3c" shape-rendering="crispEdges"/>
<rect x="43.37" y="330.15" width="2.42" height="8.43" fill="#eb8566" shape-rendering="crispEdges"/>
<rect x="45.74" y="330.15" width="2.42" height="8.43" fill="#e25a39" shape-rendering="crispEdges"/>
<rect x="48.11" y="330.15" width="2.42" height="8.43" fill="#e97d5d" shape-rendering="crispEdges"/>
<rect x="50.48" y="330.15" width="2.42" height="8.43" fill="#ed9376" shape-rendering="crispEdges"/>
<rect x="52.85" y="330.15" width="2.42" height="8.43" fill="#f0a68c" shape-rendering="crispEdges"/>
<rect x="55.23" y="330.15" width="2.42" height="8.43" fill="#e35c3a" shape-rendering="crispEdges"/>
<rect x="57.60" y="330.15" width="2.42" height="8.43" fill="#eb8869" shape-rendering="crispEdges"/>
<rect x="59.97" y="330.15" width="2.42" height="8.43" fill="#e76f4c" shape-rendering="crispEdges"/>
<rect x="62.34" y="330.15" width="2.42" height="8.43" fill="#e97856" shape-rendering="crispEdges"/>
<rect x="64.71" y="330.15" width="2.42" height="8.43" fill="#f4e4e2" shape-rendering="crispEdges"/>
<rect x="67.08" y="330.15" width="2.42" height="8.43" fill="#e87351" shape-rendering="crispEdges"/>
<rect x="69.45" y="330.15" width="2.42" height="8.43" fill="#ee997d" shape-rendering="crispEdges"/>
<rect x="71.82" y="330.15" width="2.42" height="8.43" fill="#e97b5a" shape-rendering="crispEdges"/>
<rect x="74.19" y="330.15" width="2.42" height="8.43" fill="#e97856" shape-rendering="crispEdges"/>
<rect x="76.56" y="330.15" width="2.42" height="8.43" fill="#f5dbd3" shape-rendering="crispEdges"/>
<rect x="78.93" y="330.15" width="2.42" height="8.43" fill="#ed977a" shape-rendering="crispEdges"/>
<rect x="81.30" y="330.15" width="2.42" height="8.43" fill="#2b4fa6" shape-rendering="crispEdges"/>
<rect x="83.68" y="330.15" width="2.42" height="8.43" fill="#ec8d6f" shape-rendering="crispEdges"/>
<rect x="86.05" y="330.15" width="2.42" height="8.43" fill="#e97b5a" shape-rendering="crispEdges"/>
<rect x="88.42" y="330.15" width="2.42" height="8.43" fill="#e66641" shape-rendering="crispEdges"/>
<rect x="90.79" y="330.15" width="2.42" height="8.43" fill="#f0a58b" shape-rendering="crispEdges"/>
<rect x="93.16" y="330.15" width="2.42" height="8.43" fill="#ed9376" shape-rendering="crispEdges"/>
<rect x="95.53" y="330.15" width="2.42" height="8.43" fill="#e87250" shape-rendering="crispEdges"/>
<rect x="97.90" y="330.15" width="2.59" height="8.43" fill="#2b4fa6" shape-rendering="crispEdges"/>
<rect x="100.44" y="330.15" width="2.59" height="8.43" fill="#2b4fa6" shape-rendering="crispEdges"/>
<rect x="102.99" y="330.15" width="2.59" height="8.43" fill="#2b4fa6" shape-rendering="crispEdges"/>
<rect x="105.53" y="330.15" width="2.59" height="8.43" fill="#9c9bd2" shape-rendering="crispEdges"/>
<rect x="108.07" y="330.15" width="2.59" height="8.43" fill="#2b4fa6" shape-rendering="crispEdges"/>
<rect x="110.61" y="330.15" width="2.59" height="8.43" fill="#f3c4b3" shape-rendering="crispEdges"/>
<rect x="113.16" y="330.15" width="2.59" height="8.43" fill="#eee0e2" shape-rendering="crispEdges"/>
<rect x="115.70" y="330.15" width="2.44" height="8.43" fill="#f5ded6" shape-rendering="crispEdges"/>
<rect x="118.09" y="330.15" width="2.44" height="8.43" fill="#f5d9d1" shape-rendering="crispEdges"/>
<rect x="120.48" y="330.15" width="2.44" height="8.43" fill="#f3c2b1" shape-rendering="crispEdges"/>
<rect x="122.87" y="330.15" width="2.44" height="8.43" fill="#e8dbe3" shape-rendering="crispEdges"/>
<rect x="125.27" y="330.15" width="2.44" height="8.43" fill="#d4cde5" shape-rendering="crispEdges"/>
<rect x="127.66" y="330.15" width="2.44" height="8.43" fill="#f3cbbd" shape-rendering="crispEdges"/>
<rect x="130.05" y="330.15" width="2.44" height="8.43" fill="#f1e2e2" shape-rendering="crispEdges"/>
<rect x="132.44" y="330.15" width="2.44" height="8.43" fill="#2b4fa6" shape-rendering="crispEdges"/>
<rect x="134.83" y="330.15" width="2.44" height="8.43" fill="#2b4fa6" shape-rendering="crispEdges"/>
<rect x="137.22" y="330.15" width="2.44" height="8.43" fill="#d6cee4" shape-rendering="crispEdges"/>
<rect x="139.61" y="330.15" width="2.44" height="8.43" fill="#f2b29a" shape-rendering="crispEdges"/>
<rect x="142.00" y="330.15" width="2.44" height="8.43" fill="#f3cabb" shape-rendering="crispEdges"/>
<rect x="144.40" y="330.15" width="2.44" height="8.43" fill="#f5e3df" shape-rendering="crispEdges"/>
<rect x="146.79" y="330.15" width="2.44" height="8.43" fill="#2b4fa6" shape-rendering="crispEdges"/>
<rect x="149.18" y="330.15" width="2.44" height="8.43" fill="#f5ddd5" shape-rendering="crispEdges"/>
<rect x="151.57" y="330.15" width="2.44" height="8.43" fill="#e2d7e3" shape-rendering="crispEdges"/>
<rect x="153.96" y="330.15" width="2.44" height="8.43" fill="#2b4fa6" shape-rendering="crispEdges"/>
<rect x="156.35" y="330.15" width="2.44" height="8.43" fill="#2b4fa6" shape-rendering="crispEdges"/>
<rect x="158.74" y="330.15" width="2.44" height="8.43" fill="#2b4fa6" shape-rendering="crispEdges"/>
<rect x="161.13" y="330.15" width="2.44" height="8.43" fill="#2b4fa6" shape-rendering="crispEdges"/>
<rect x="163.53" y="330.15" width="2.44" height="8.43" fill="#f3c7b7" shape-rendering="crispEdges"/>
<rect x="165.92" y="330.15" width="2.44" height="8.43" fill="#eadde3" shape-rendering="crispEdges"/>
<rect x="168.31" y="330.15" width="2.44" height="8.43" fill="#eadde3" shape-rendering="crispEdges"/>
<rect x="41.00" y="338.52" width="2.42" height="8.43" fill="#e4603c" shape-rendering="crispEdges"/>
<rect x="43.37" y="338.52" width="2.42" height="8.43" fill="#ef9f84" shape-rendering="crispEdges"/>
<rect x="45.74" y="338.52" width="2.42" height="8.43" fill="#e87755" shape-rendering="crispEdges"/>
<rect x="48.11" y="338.52" width="2.42" height="8.43" fill="#ee9c81" shape-rendering="crispEdges"/>
<rect x="50.48" y="338.52" width="2.42" height="8.43" fill="#e35c3a" shape-rendering="crispEdges"/>
<rect x="52.85" y="338.52" width="2.42" height="8.43" fill="#ec8b6d" shape-rendering="crispEdges"/>
<rect x="55.23" y="338.52" width="2.42" height="8.43" fill="#ea8060" shape-rendering="crispEdges"/>
<rect x="57.60" y="338.52" width="2.42" height="8.43" fill="#f4d2c6" shape-rendering="crispEdges"/>
<rect x="59.97" y="338.52" width="2.42" height="8.43" fill="#e76f4c" shape-rendering="crispEdges"/>
<rect x="62.34" y="338.52" width="2.42" height="8.43" fill="#efa389" shape-rendering="crispEdges"/>
<rect x="64.71" y="338.52" width="2.42" height="8.43" fill="#e66844" shape-rendering="crispEdges"/>
<rect x="67.08" y="338.52" width="2.42" height="8.43" fill="#e87755" shape-rendering="crispEdges"/>
<rect x="69.45" y="338.52" width="2.42" height="8.43" fill="#e87553" shape-rendering="crispEdges"/>
<rect x="71.82" y="338.52" width="2.42" height="8.43" fill="#e4603c" shape-rendering="crispEdges"/>
<rect x="74.19" y="338.52" width="2.42" height="8.43" fill="#e97c5b" shape-rendering="crispEdges"/>
<rect x="76.56" y="338.52" width="2.42" height="8.43" fill="#f1ac94" shape-rendering="crispEdges"/>
<rect x="78.93" y="338.52" width="2.42" height="8.43" fill="#eb8465" shape-rendering="crispEdges"/>
<rect x="81.30" y="338.52" width="2.42" height="8.43" fill="#ea8464" shape-rendering="crispEdges"/>
<rect x="83.68" y="338.52" width="2.42" height="8.43" fill="#f2baa5" shape-rendering="crispEdges"/>
<rect x="86.05" y="338.52" width="2.42" height="8.43" fill="#e87350" shape-rendering="crispEdges"/>
<rect x="88.42" y="338.52" width="2.42" height="8.43" fill="#e15737" shape-rendering="crispEdges"/>
<rect x="90.79" y="338.52" width="2.42" height="8.43" fill="#ea8161" shape-rendering="crispEdges"/>
<rect x="93.16" y="338.52" width="2.42" height="8.43" fill="#eb8667" shape-rendering="crispEdges"/>
<rect x="95.53" y="338.52" width="2.42" height="8.43" fill="#e97957" shape-rendering="crispEdges"/>
<rect x="97.90" y="338.52" width="2.59" height="8.43" fill="#d7cfe4" shape-rendering="crispEdges"/>
<rect x="100.44" y="338.52" width="2.59" height="8.43" fill="#2b4fa6" shape-rendering="crispEdges"/>
<rect x="102.99" y="338.52" width="2.59" height="8.43" fill="#cac6e5" shape-rendering="crispEdges"/>
<rect x="105.53" y="338.52" width="2.59" height="8.43" fill="#f3c6b5" shape-rendering="crispEdges"/>
<rect x="108.07" y="338.52" width="2.59" height="8.43" fill="#2b4fa6" shape-rendering="crispEdges"/>
<rect x="110.61" y="338.52" width="2.59" height="8.43" fill="#2b4fa6" shape-rendering="crispEdges"/>
<rect x="113.16" y="338.52" width="2.59" height="8.43" fill="#2b4fa6" shape-rendering="crispEdges"/>
<rect x="115.70" y="338.52" width="2.44" height="8.43" fill="#a5a3d6" shape-rendering="crispEdges"/>
<rect x="118.09" y="338.52" width="2.44" height="8.43" fill="#d6cfe4" shape-rendering="crispEdges"/>
<rect x="120.48" y="338.52" width="2.44" height="8.43" fill="#9493cf" shape-rendering="crispEdges"/>
<rect x="122.87" y="338.52" width="2.44" height="8.43" fill="#d2cce5" shape-rendering="crispEdges"/>
<rect x="125.27" y="338.52" width="2.44" height="8.43" fill="#2b4fa6" shape-rendering="crispEdges"/>
<rect x="127.66" y="338.52" width="2.44" height="8.43" fill="#2b4fa6" shape-rendering="crispEdges"/>
<rect x="130.05" y="338.52" width="2.44" height="8.43" fill="#dcd3e4" shape-rendering="crispEdges"/>
<rect x="132.44" y="338.52" width="2.44" height="8.43" fill="#2b4fa6" shape-rendering="crispEdges"/>
<rect x="134.83" y="338.52" width="2.44" height="8.43" fill="#adabd9" shape-rendering="crispEdges"/>
<rect x="137.22" y="338.52" width="2.44" height="8.43" fill="#f5dad2" shape-rendering="crispEdges"/>
<rect x="139.61" y="338.52" width="2.44" height="8.43" fill="#b5b2dd" shape-rendering="crispEdges"/>
<rect x="142.00" y="338.52" width="2.44" height="8.43" fill="#dbd2e4" shape-rendering="crispEdges"/>
<rect x="144.40" y="338.52" width="2.44" height="8.43" fill="#b6b3dd" shape-rendering="crispEdges"/>
<rect x="146.79" y="338.52" width="2.44" height="8.43" fill="#f3e4e2" shape-rendering="crispEdges"/>
<rect x="149.18" y="338.52" width="2.44" height="8.43" fill="#2b4fa6" shape-rendering="crispEdges"/>
<rect x="151.57" y="338.52" width="2.44" height="8.43" fill="#2b4fa6" shape-rendering="crispEdges"/>
<rect x="153.96" y="338.52" width="2.44" height="8.43" fill="#2b4fa6" shape-rendering="crispEdges"/>
<rect x="156.35" y="338.52" width="2.44" height="8.43" fill="#aeacda" shape-rendering="crispEdges"/>
<rect x="158.74" y="338.52" width="2.44" height="8.43" fill="#2b4fa6" shape-rendering="crispEdges"/>
<rect x="161.13" y="338.52" width="2.44" height="8.43" fill="#bfbce1" shape-rendering="crispEdges"/>
<rect x="163.53" y="338.52" width="2.44" height="8.43" fill="#f5e2dd" shape-rendering="crispEdges"/>
<rect x="165.92" y="338.52" width="2.44" height="8.43" fill="#aeacda" shape-rendering="crispEdges"/>
<rect x="168.31" y="338.52" width="2.44" height="8.43" fill="#cdc8e5" shape-rendering="crispEdges"/>
<rect x="41.00" y="346.90" width="2.42" height="8.43" fill="#e87654" shape-rendering="crispEdges"/>
<rect x="43.37" y="346.90" width="2.42" height="8.43" fill="#ea8262" shape-rendering="crispEdges"/>
<rect x="45.74" y="346.90" width="2.42" height="8.43" fill="#ea8060" shape-rendering="crispEdges"/>
<rect x="48.11" y="346.90" width="2.42" height="8.43" fill="#ee987c" shape-rendering="crispEdges"/>
<rect x="50.48" y="346.90" width="2.42" height="8.43" fill="#f1b198" shape-rendering="crispEdges"/>
<rect x="52.85" y="346.90" width="2.42" height="8.43" fill="#e15637" shape-rendering="crispEdges"/>
<rect x="55.23" y="346.90" width="2.42" height="8.43" fill="#e15737" shape-rendering="crispEdges"/>
<rect x="57.60" y="346.90" width="2.42" height="8.43" fill="#ec8f71" shape-rendering="crispEdges"/>
<rect x="59.97" y="346.90" width="2.42" height="8.43" fill="#ed9174" shape-rendering="crispEdges"/>
<rect x="62.34" y="346.90" width="2.42" height="8.43" fill="#ed9376" shape-rendering="crispEdges"/>
<rect x="64.71" y="346.90" width="2.42" height="8.43" fill="#f3c3b1" shape-rendering="crispEdges"/>
<rect x="67.08" y="346.90" width="2.42" height="8.43" fill="#f2b7a1" shape-rendering="crispEdges"/>
<rect x="69.45" y="346.90" width="2.42" height="8.43" fill="#e97b59" shape-rendering="crispEdges"/>
<rect x="71.82" y="346.90" width="2.42" height="8.43" fill="#e66641" shape-rendering="crispEdges"/>
<rect x="74.19" y="346.90" width="2.42" height="8.43" fill="#ed9376" shape-rendering="crispEdges"/>
<rect x="76.56" y="346.90" width="2.42" height="8.43" fill="#f1af96" shape-rendering="crispEdges"/>
<rect x="78.93" y="346.90" width="2.42" height="8.43" fill="#f2b59f" shape-rendering="crispEdges"/>
<rect x="81.30" y="346.90" width="2.42" height="8.43" fill="#efa288" shape-rendering="crispEdges"/>
<rect x="83.68" y="346.90" width="2.42" height="8.43" fill="#e7704d" shape-rendering="crispEdges"/>
<rect x="86.05" y="346.90" width="2.42" height="8.43" fill="#eb896a" shape-rendering="crispEdges"/>
<rect x="88.42" y="346.90" width="2.42" height="8.43" fill="#f3c7b8" shape-rendering="crispEdges"/>
<rect x="90.79" y="346.90" width="2.42" height="8.43" fill="#f2baa5" shape-rendering="crispEdges"/>
<rect x="93.16" y="346.90" width="2.42" height="8.43" fill="#ea7e5d" shape-rendering="crispEdges"/>
<rect x="95.53" y="346.90" width="2.42" height="8.43" fill="#ea7f5f" shape-rendering="crispEdges"/>
<rect x="97.90" y="346.90" width="2.59" height="8.43" fill="#2b4fa6" shape-rendering="crispEdges"/>
<rect x="100.44" y="346.90" width="2.59" height="8.43" fill="#2b4fa6" shape-rendering="crispEdges"/>
<rect x="102.99" y="346.90" width="2.59" height="8.43" fill="#2b4fa6" shape-rendering="crispEdges"/>
<rect x="105.53" y="346.90" width="2.59" height="8.43" fill="#ec8b6c" shape-rendering="crispEdges"/>
<rect x="108.07" y="346.90" width="2.59" height="8.43" fill="#2b4fa6" shape-rendering="crispEdges"/>
<rect x="110.61" y="346.90" width="2.59" height="8.43" fill="#f5dfd9" shape-rendering="crispEdges"/>
<rect x="113.16" y="346.90" width="2.59" height="8.43" fill="#2b4fa6" shape-rendering="crispEdges"/>
<rect x="115.70" y="346.90" width="2.44" height="8.43" fill="#d4cde5" shape-rendering="crispEdges"/>
<rect x="118.09" y="346.90" width="2.44" height="8.43" fill="#2b4fa6" shape-rendering="crispEdges"/>
<rect x="120.48" y="346.90" width="2.44" height="8.43" fill="#737cc2" shape-rendering="crispEdges"/>
<rect x="122.87" y="346.90" width="2.44" height="8.43" fill="#2b4fa6" shape-rendering="crispEdges"/>
<rect x="125.27" y="346.90" width="2.44" height="8.43" fill="#2b4fa6" shape-rendering="crispEdges"/>
<rect x="127.66" y="346.90" width="2.44" height="8.43" fill="#2b4fa6" shape-rendering="crispEdges"/>
<rect x="130.05" y="346.90" width="2.44" height="8.43" fill="#a4a2d6" shape-rendering="crispEdges"/>
<rect x="132.44" y="346.90" width="2.44" height="8.43" fill="#2b4fa6" shape-rendering="crispEdges"/>
<rect x="134.83" y="346.90" width="2.44" height="8.43" fill="#2b4fa6" shape-rendering="crispEdges"/>
<rect x="137.22" y="346.90" width="2.44" height="8.43" fill="#7e83c6" shape-rendering="crispEdges"/>
<rect x="139.61" y="346.90" width="2.44" height="8.43" fill="#ccc7e5" shape-rendering="crispEdges"/>
<rect x="142.00" y="346.90" width="2.44" height="8.43" fill="#f0e2e2" shape-rendering="crispEdges"/>
<rect x="144.40" y="346.90" width="2.44" height="8.43" fill="#d4cde5" shape-rendering="crispEdges"/>
<rect x="146.79" y="346.90" width="2.44" height="8.43" fill="#2b4fa6" shape-rendering="crispEdges"/>
<rect x="149.18" y="346.90" width="2.44" height="8.43" fill="#2b4fa6" shape-rendering="crispEdges"/>
<rect x="151.57" y="346.90" width="2.44" height="8.43" fill="#2b4fa6" shape-rendering="crispEdges"/>
<rect x="153.96" y="346.90" width="2.44" height="8.43" fill="#a09fd4" shape-rendering="crispEdges"/>
<rect x="156.35" y="346.90" width="2.44" height="8.43" fill="#2b4fa6" shape-rendering="crispEdges"/>
<rect x="158.74" y="346.90" width="2.44" height="8.43" fill="#2b4fa6" shape-rendering="crispEdges"/>
<rect x="161.13" y="346.90" width="2.44" height="8.43" fill="#2b4fa6" shape-rendering="crispEdges"/>
<rect x="163.53" y="346.90" width="2.44" height="8.43" fill="#f2bba7" shape-rendering="crispEdges"/>
<rect x="165.92" y="346.90" width="2.44" height="8.43" fill="#9594d0" shape-rendering="crispEdges"/>
<rect x="168.31" y="346.90" width="2.44" height="8.43" fill="#f4d6cc" shape-rendering="crispEdges"/>
<rect x="41.00" y="355.27" width="2.42" height="8.43" fill="#2b4fa6" shape-rendering="crispEdges"/>
<rect x="43.37" y="355.27" width="2.42" height="8.43" fill="#ea7f5e" shape-rendering="crispEdges"/>
<rect x="45.74" y="355.27" width="2.42" height="8.43" fill="#e97756" shape-rendering="crispEdges"/>
<rect x="48.11" y="355.27" width="2.42" height="8.43" fill="#e66742" shape-rendering="crispEdges"/>
<rect x="50.48" y="355.27" width="2.42" height="8.43" fill="#e76d4a" shape-rendering="crispEdges"/>
<rect x="52.85" y="355.27" width="2.42" height="8.43" fill="#f1ad94" shape-rendering="crispEdges"/>
<rect x="55.23" y="355.27" width="2.42" height="8.43" fill="#eb8869" shape-rendering="crispEdges"/>
<rect x="57.60" y="355.27" width="2.42" height="8.43" fill="#f4d1c5" shape-rendering="crispEdges"/>
<rect x="59.97" y="355.27" width="2.42" height="8.43" fill="#e35d3b" shape-rendering="crispEdges"/>
<rect x="62.34" y="355.27" width="2.42" height="8.43" fill="#f4cfc2" shape-rendering="crispEdges"/>
<rect x="64.71" y="355.27" width="2.42" height="8.43" fill="#e97756" shape-rendering="crispEdges"/>
<rect x="67.08" y="355.27" width="2.42" height="8.43" fill="#f1b199" shape-rendering="crispEdges"/>
<rect x="69.45" y="355.27" width="2.42" height="8.43" fill="#f2b29b" shape-rendering="crispEdges"/>
<rect x="71.82" y="355.27" width="2.42" height="8.43" fill="#f2b6a0" shape-rendering="crispEdges"/>
<rect x="74.19" y="355.27" width="2.42" height="8.43" fill="#ef9f84" shape-rendering="crispEdges"/>
<rect x="76.56" y="355.27" width="2.42" height="8.43" fill="#ea8464" shape-rendering="crispEdges"/>
<rect x="78.93" y="355.27" width="2.42" height="8.43" fill="#e66743" shape-rendering="crispEdges"/>
<rect x="81.30" y="355.27" width="2.42" height="8.43" fill="#ef9e83" shape-rendering="crispEdges"/>
<rect x="83.68" y="355.27" width="2.42" height="8.43" fill="#e8714f" shape-rendering="crispEdges"/>
<rect x="86.05" y="355.27" width="2.42" height="8.43" fill="#e8714e" shape-rendering="crispEdges"/>
<rect x="88.42" y="355.27" width="2.42" height="8.43" fill="#dd4c31" shape-rendering="crispEdges"/>
<rect x="90.79" y="355.27" width="2.42" height="8.43" fill="#f0aa90" shape-rendering="crispEdges"/>
<rect x="93.16" y="355.27" width="2.42" height="8.43" fill="#eb8767" shape-rendering="crispEdges"/>
<rect x="95.53" y="355.27" width="2.42" height="8.43" fill="#e97856" shape-rendering="crispEdges"/>
<rect x="97.90" y="355.27" width="2.59" height="8.43" fill="#2b4fa6" shape-rendering="crispEdges"/>
<rect x="100.44" y="355.27" width="2.59" height="8.43" fill="#2b4fa6" shape-rendering="crispEdges"/>
<rect x="102.99" y="355.27" width="2.59" height="8.43" fill="#2b4fa6" shape-rendering="crispEdges"/>
<rect x="105.53" y="355.27" width="2.59" height="8.43" fill="#f3c1ae" shape-rendering="crispEdges"/>
<rect x="108.07" y="355.27" width="2.59" height="8.43" fill="#2b4fa6" shape-rendering="crispEdges"/>
<rect x="110.61" y="355.27" width="2.59" height="8.43" fill="#eee0e2" shape-rendering="crispEdges"/>
<rect x="113.16" y="355.27" width="2.59" height="8.43" fill="#2b4fa6" shape-rendering="crispEdges"/>
<rect x="115.70" y="355.27" width="2.44" height="8.43" fill="#2b4fa6" shape-rendering="crispEdges"/>
<rect x="118.09" y="355.27" width="2.44" height="8.43" fill="#2b4fa6" shape-rendering="crispEdges"/>
<rect x="120.48" y="355.27" width="2.44" height="8.43" fill="#d5cee4" shape-rendering="crispEdges"/>
<rect x="122.87" y="355.27" width="2.44" height="8.43" fill="#2b4fa6" shape-rendering="crispEdges"/>
<rect x="125.27" y="355.27" width="2.44" height="8.43" fill="#2b4fa6" shape-rendering="crispEdges"/>
<rect x="127.66" y="355.27" width="2.44" height="8.43" fill="#2b4fa6" shape-rendering="crispEdges"/>
<rect x="130.05" y="355.27" width="2.44" height="8.43" fill="#d4cde5" shape-rendering="crispEdges"/>
<rect x="132.44" y="355.27" width="2.44" height="8.43" fill="#2b4fa6" shape-rendering="crispEdges"/>
<rect x="134.83" y="355.27" width="2.44" height="8.43" fill="#2b4fa6" shape-rendering="crispEdges"/>
<rect x="137.22" y="355.27" width="2.44" height="8.43" fill="#f2bba7" shape-rendering="crispEdges"/>
<rect x="139.61" y="355.27" width="2.44" height="8.43" fill="#9b9ad2" shape-rendering="crispEdges"/>
<rect x="142.00" y="355.27" width="2.44" height="8.43" fill="#2b4fa6" shape-rendering="crispEdges"/>
<rect x="144.40" y="355.27" width="2.44" height="8.43" fill="#a6a4d7" shape-rendering="crispEdges"/>
<rect x="146.79" y="355.27" width="2.44" height="8.43" fill="#2b4fa6" shape-rendering="crispEdges"/>
<rect x="149.18" y="355.27" width="2.44" height="8.43" fill="#2b4fa6" shape-rendering="crispEdges"/>
<rect x="151.57" y="355.27" width="2.44" height="8.43" fill="#2b4fa6" shape-rendering="crispEdges"/>
<rect x="153.96" y="355.27" width="2.44" height="8.43" fill="#2b4fa6" shape-rendering="crispEdges"/>
<rect x="156.35" y="355.27" width="2.44" height="8.43" fill="#2b4fa6" shape-rendering="crispEdges"/>
<rect x="158.74" y="355.27" width="2.44" height="8.43" fill="#2b4fa6" shape-rendering="crispEdges"/>
<rect x="161.13" y="355.27" width="2.44" height="8.43" fill="#2b4fa6" shape-rendering="crispEdges"/>
<rect x="163.53" y="355.27" width="2.44" height="8.43" fill="#eddfe2" shape-rendering="crispEdges"/>
<rect x="165.92" y="355.27" width="2.44" height="8.43" fill="#6d79c0" shape-rendering="crispEdges"/>
<rect x="168.31" y="355.27" width="2.44" height="8.43" fill="#2b4fa6" shape-rendering="crispEdges"/>
<rect x="41.00" y="363.65" width="2.42" height="8.43" fill="#efa489" shape-rendering="crispEdges"/>
<rect x="43.37" y="363.65" width="2.42" height="8.43" fill="#f3c6b7" shape-rendering="crispEdges"/>
<rect x="45.74" y="363.65" width="2.42" height="8.43" fill="#f4d4c9" shape-rendering="crispEdges"/>
<rect x="48.11" y="363.65" width="2.42" height="8.43" fill="#e87250" shape-rendering="crispEdges"/>
<rect x="50.48" y="363.65" width="2.42" height="8.43" fill="#ea7f5f" shape-rendering="crispEdges"/>
<rect x="52.85" y="363.65" width="2.42" height="8.43" fill="#ea8262" shape-rendering="crispEdges"/>
<rect x="55.23" y="363.65" width="2.42" height="8.43" fill="#f1b098" shape-rendering="crispEdges"/>
<rect x="57.60" y="363.65" width="2.42" height="8.43" fill="#ecdfe2" shape-rendering="crispEdges"/>
<rect x="59.97" y="363.65" width="2.42" height="8.43" fill="#e97c5b" shape-rendering="crispEdges"/>
<rect x="62.34" y="363.65" width="2.42" height="8.43" fill="#ee9e83" shape-rendering="crispEdges"/>
<rect x="64.71" y="363.65" width="2.42" height="8.43" fill="#f2b29a" shape-rendering="crispEdges"/>
<rect x="67.08" y="363.65" width="2.42" height="8.43" fill="#f2b29a" shape-rendering="crispEdges"/>
<rect x="69.45" y="363.65" width="2.42" height="8.43" fill="#f1b198" shape-rendering="crispEdges"/>
<rect x="71.82" y="363.65" width="2.42" height="8.43" fill="#2b4fa6" shape-rendering="crispEdges"/>
<rect x="74.19" y="363.65" width="2.42" height="8.43" fill="#ebdee2" shape-rendering="crispEdges"/>
<rect x="76.56" y="363.65" width="2.42" height="8.43" fill="#ea8263" shape-rendering="crispEdges"/>
<rect x="78.93" y="363.65" width="2.42" height="8.43" fill="#ea7f5f" shape-rendering="crispEdges"/>
<rect x="81.30" y="363.65" width="2.42" height="8.43" fill="#e97957" shape-rendering="crispEdges"/>
<rect x="83.68" y="363.65" width="2.42" height="8.43" fill="#f0a88f" shape-rendering="crispEdges"/>
<rect x="86.05" y="363.65" width="2.42" height="8.43" fill="#f4d3c8" shape-rendering="crispEdges"/>
<rect x="88.42" y="363.65" width="2.42" height="8.43" fill="#f5d9d0" shape-rendering="crispEdges"/>
<rect x="90.79" y="363.65" width="2.42" height="8.43" fill="#f0a68c" shape-rendering="crispEdges"/>
<rect x="93.16" y="363.65" width="2.42" height="8.43" fill="#e25b39" shape-rendering="crispEdges"/>
<rect x="95.53" y="363.65" width="2.42" height="8.43" fill="#e87755" shape-rendering="crispEdges"/>
<rect x="97.90" y="363.65" width="2.59" height="8.43" fill="#2b4fa6" shape-rendering="crispEdges"/>
<rect x="100.44" y="363.65" width="2.59" height="8.43" fill="#2b4fa6" shape-rendering="crispEdges"/>
<rect x="102.99" y="363.65" width="2.59" height="8.43" fill="#2b4fa6" shape-rendering="crispEdges"/>
<rect x="105.53" y="363.65" width="2.59" height="8.43" fill="#f1b198" shape-rendering="crispEdges"/>
<rect x="108.07" y="363.65" width="2.59" height="8.43" fill="#bab7df" shape-rendering="crispEdges"/>
<rect x="110.61" y="363.65" width="2.59" height="8.43" fill="#2b4fa6" shape-rendering="crispEdges"/>
<rect x="113.16" y="363.65" width="2.59" height="8.43" fill="#2b4fa6" shape-rendering="crispEdges"/>
<rect x="115.70" y="363.65" width="2.44" height="8.43" fill="#c0bde2" shape-rendering="crispEdges"/>
<rect x="118.09" y="363.65" width="2.44" height="8.43" fill="#2b4fa6" shape-rendering="crispEdges"/>
<rect x="120.48" y="363.65" width="2.44" height="8.43" fill="#2b4fa6" shape-rendering="crispEdges"/>
<rect x="122.87" y="363.65" width="2.44" height="8.43" fill="#2b4fa6" shape-rendering="crispEdges"/>
<rect x="125.27" y="363.65" width="2.44" height="8.43" fill="#2b4fa6" shape-rendering="crispEdges"/>
<rect x="127.66" y="363.65" width="2.44" height="8.43" fill="#2b4fa6" shape-rendering="crispEdges"/>
<rect x="130.05" y="363.65" width="2.44" height="8.43" fill="#2b4fa6" shape-rendering="crispEdges"/>
<rect x="132.44" y="363.65" width="2.44" height="8.43" fill="#2b4fa6" shape-rendering="crispEdges"/>
<rect x="134.83" y="363.65" width="2.44" height="8.43" fill="#2b4fa6" shape-rendering="crispEdges"/>
<rect x="137.22" y="363.65" width="2.44" height="8.43" fill="#2b4fa6" shape-rendering="crispEdges"/>
<rect x="139.61" y="363.65" width="2.44" height="8.43" fill="#8c8ccc" shape-rendering="crispEdges"/>
<rect x="142.00" y="363.65" width="2.44" height="8.43" fill="#2b4fa6" shape-rendering="crispEdges"/>
<rect x="144.40" y="363.65" width="2.44" height="8.43" fill="#e8dce3" shape-rendering="crispEdges"/>
<rect x="146.79" y="363.65" width="2.44" height="8.43" fill="#2b4fa6" shape-rendering="crispEdges"/>
<rect x="149.18" y="363.65" width="2.44" height="8.43" fill="#2b4fa6" shape-rendering="crispEdges"/>
<rect x="151.57" y="363.65" width="2.44" height="8.43" fill="#2b4fa6" shape-rendering="crispEdges"/>
<rect x="153.96" y="363.65" width="2.44" height="8.43" fill="#2b4fa6" shape-rendering="crispEdges"/>
<rect x="156.35" y="363.65" width="2.44" height="8.43" fill="#2b4fa6" shape-rendering="crispEdges"/>
<rect x="158.74" y="363.65" width="2.44" height="8.43" fill="#2b4fa6" shape-rendering="crispEdges"/>
<rect x="161.13" y="363.65" width="2.44" height="8.43" fill="#2b4fa6" shape-rendering="crispEdges"/>
<rect x="163.53" y="363.65" width="2.44" height="8.43" fill="#2b4fa6" shape-rendering="crispEdges"/>
<rect x="165.92" y="363.65" width="2.44" height="8.43" fill="#e0d6e3" shape-rendering="crispEdges"/>
<rect x="168.31" y="363.65" width="2.44" height="8.43" fill="#c2bee2" shape-rendering="crispEdges"/>
<rect x="41.00" y="372.02" width="2.42" height="8.43" fill="#2b4fa6" shape-rendering="crispEdges"/>
<rect x="43.37" y="372.02" width="2.42" height="8.43" fill="#b7b5de" shape-rendering="crispEdges"/>
<rect x="45.74" y="372.02" width="2.42" height="8.43" fill="#c2bee2" shape-rendering="crispEdges"/>
<rect x="48.11" y="372.02" width="2.42" height="8.43" fill="#2b4fa6" shape-rendering="crispEdges"/>
<rect x="50.48" y="372.02" width="2.42" height="8.43" fill="#2b4fa6" shape-rendering="crispEdges"/>
<rect x="52.85" y="372.02" width="2.42" height="8.43" fill="#8889ca" shape-rendering="crispEdges"/>
<rect x="55.23" y="372.02" width="2.42" height="8.43" fill="#f0e2e2" shape-rendering="crispEdges"/>
<rect x="57.60" y="372.02" width="2.42" height="8.43" fill="#e7dbe3" shape-rendering="crispEdges"/>
<rect x="59.97" y="372.02" width="2.42" height="8.43" fill="#2b4fa6" shape-rendering="crispEdges"/>
<rect x="62.34" y="372.02" width="2.42" height="8.43" fill="#2b4fa6" shape-rendering="crispEdges"/>
<rect x="64.71" y="372.02" width="2.42" height="8.43" fill="#2b4fa6" shape-rendering="crispEdges"/>
<rect x="67.08" y="372.02" width="2.42" height="8.43" fill="#2b4fa6" shape-rendering="crispEdges"/>
<rect x="69.45" y="372.02" width="2.42" height="8.43" fill="#2b4fa6" shape-rendering="crispEdges"/>
<rect x="71.82" y="372.02" width="2.42" height="8.43" fill="#2b4fa6" shape-rendering="crispEdges"/>
<rect x="74.19" y="372.02" width="2.42" height="8.43" fill="#2b4fa6" shape-rendering="crispEdges"/>
<rect x="76.56" y="372.02" width="2.42" height="8.43" fill="#2b4fa6" shape-rendering="crispEdges"/>
<rect x="78.93" y="372.02" width="2.42" height="8.43" fill="#2b4fa6" shape-rendering="crispEdges"/>
<rect x="81.30" y="372.02" width="2.42" height="8.43" fill="#2b4fa6" shape-rendering="crispEdges"/>
<rect x="83.68" y="372.02" width="2.42" height="8.43" fill="#2b4fa6" shape-rendering="crispEdges"/>
<rect x="86.05" y="372.02" width="2.42" height="8.43" fill="#f5e4e0" shape-rendering="crispEdges"/>
<rect x="88.42" y="372.02" width="2.42" height="8.43" fill="#ddd4e4" shape-rendering="crispEdges"/>
<rect x="90.79" y="372.02" width="2.42" height="8.43" fill="#2b4fa6" shape-rendering="crispEdges"/>
<rect x="93.16" y="372.02" width="2.42" height="8.43" fill="#2b4fa6" shape-rendering="crispEdges"/>
<rect x="95.53" y="372.02" width="2.42" height="8.43" fill="#2b4fa6" shape-rendering="crispEdges"/>
<rect x="97.90" y="372.02" width="2.59" height="8.43" fill="#2b4fa6" shape-rendering="crispEdges"/>
<rect x="100.44" y="372.02" width="2.59" height="8.43" fill="#2b4fa6" shape-rendering="crispEdges"/>
<rect x="102.99" y="372.02" width="2.59" height="8.43" fill="#2b4fa6" shape-rendering="crispEdges"/>
<rect x="105.53" y="372.02" width="2.59" height="8.43" fill="#9d9cd3" shape-rendering="crispEdges"/>
<rect x="108.07" y="372.02" width="2.59" height="8.43" fill="#2b4fa6" shape-rendering="crispEdges"/>
<rect x="110.61" y="372.02" width="2.59" height="8.43" fill="#2b4fa6" shape-rendering="crispEdges"/>
<rect x="113.16" y="372.02" width="2.59" height="8.43" fill="#2b4fa6" shape-rendering="crispEdges"/>
<rect x="115.70" y="372.02" width="2.44" height="8.43" fill="#f0ab92" shape-rendering="crispEdges"/>
<rect x="118.09" y="372.02" width="2.44" height="8.43" fill="#2b4fa6" shape-rendering="crispEdges"/>
<rect x="120.48" y="372.02" width="2.44" height="8.43" fill="#f5e2dd" shape-rendering="crispEdges"/>
<rect x="122.87" y="372.02" width="2.44" height="8.43" fill="#2b4fa6" shape-rendering="crispEdges"/>
<rect x="125.27" y="372.02" width="2.44" height="8.43" fill="#2b4fa6" shape-rendering="crispEdges"/>
<rect x="127.66" y="372.02" width="2.44" height="8.43" fill="#2b4fa6" shape-rendering="crispEdges"/>
<rect x="130.05" y="372.02" width="2.44" height="8.43" fill="#2b4fa6" shape-rendering="crispEdges"/>
<rect x="132.44" y="372.02" width="2.44" height="8.43" fill="#2b4fa6" shape-rendering="crispEdges"/>
<rect x="134.83" y="372.02" width="2.44" height="8.43" fill="#2b4fa6" shape-rendering="crispEdges"/>
<rect x="137.22" y="372.02" width="2.44" height="8.43" fill="#f4ccbe" shape-rendering="crispEdges"/>
<rect x="139.61" y="372.02" width="2.44" height="8.43" fill="#2b4fa6" shape-rendering="crispEdges"/>
<rect x="142.00" y="372.02" width="2.44" height="8.43" fill="#2b4fa6" shape-rendering="crispEdges"/>
<rect x="144.40" y="372.02" width="2.44" height="8.43" fill="#f5e5e2" shape-rendering="crispEdges"/>
<rect x="146.79" y="372.02" width="2.44" height="8.43" fill="#2b4fa6" shape-rendering="crispEdges"/>
<rect x="149.18" y="372.02" width="2.44" height="8.43" fill="#2b4fa6" shape-rendering="crispEdges"/>
<rect x="151.57" y="372.02" width="2.44" height="8.43" fill="#2b4fa6" shape-rendering="crispEdges"/>
<rect x="153.96" y="372.02" width="2.44" height="8.43" fill="#2b4fa6" shape-rendering="crispEdges"/>
<rect x="156.35" y="372.02" width="2.44" height="8.43" fill="#2b4fa6" shape-rendering="crispEdges"/>
<rect x="158.74" y="372.02" width="2.44" height="8.43" fill="#2b4fa6" shape-rendering="crispEdges"/>
<rect x="161.13" y="372.02" width="2.44" height="8.43" fill="#2b4fa6" shape-rendering="crispEdges"/>
<rect x="163.53" y="372.02" width="2.44" height="8.43" fill="#f5e1db" shape-rendering="crispEdges"/>
<rect x="165.92" y="372.02" width="2.44" height="8.43" fill="#2b4fa6" shape-rendering="crispEdges"/>
<rect x="168.31" y="372.02" width="2.44" height="8.43" fill="#2b4fa6" shape-rendering="crispEdges"/>
<rect x="41.00" y="381.50" width="2.42" height="7.48" fill="#e76d4a" shape-rendering="crispEdges"/>
<rect x="43.37" y="381.50" width="2.42" height="7.48" fill="#efa287" shape-rendering="crispEdges"/>
<rect x="45.74" y="381.50" width="2.42" height="7.48" fill="#e87553" shape-rendering="crispEdges"/>
<rect x="48.11" y="381.50" width="2.42" height="7.48" fill="#ee9a7e" shape-rendering="crispEdges"/>
<rect x="50.48" y="381.50" width="2.42" height="7.48" fill="#ee9d81" shape-rendering="crispEdges"/>
<rect x="52.85" y="381.50" width="2.42" height="7.48" fill="#f1b199" shape-rendering="crispEdges"/>
<rect x="55.23" y="381.50" width="2.42" height="7.48" fill="#ed9579" shape-rendering="crispEdges"/>
<rect x="57.60" y="381.50" width="2.42" height="7.48" fill="#e25b3a" shape-rendering="crispEdges"/>
<rect x="59.97" y="381.50" width="2.42" height="7.48" fill="#efa287" shape-rendering="crispEdges"/>
<rect x="62.34" y="381.50" width="2.42" height="7.48" fill="#e76d49" shape-rendering="crispEdges"/>
<rect x="64.71" y="381.50" width="2.42" height="7.48" fill="#e8724f" shape-rendering="crispEdges"/>
<rect x="67.08" y="381.50" width="2.42" height="7.48" fill="#ee9c80" shape-rendering="crispEdges"/>
<rect x="69.45" y="381.50" width="2.42" height="7.48" fill="#e87755" shape-rendering="crispEdges"/>
<rect x="71.82" y="381.50" width="2.42" height="7.48" fill="#e7704d" shape-rendering="crispEdges"/>
<rect x="74.19" y="381.50" width="2.42" height="7.48" fill="#ee9a7e" shape-rendering="crispEdges"/>
<rect x="76.56" y="381.50" width="2.42" height="7.48" fill="#ef9f84" shape-rendering="crispEdges"/>
<rect x="78.93" y="381.50" width="2.42" height="7.48" fill="#e87755" shape-rendering="crispEdges"/>
<rect x="81.30" y="381.50" width="2.42" height="7.48" fill="#eb8a6b" shape-rendering="crispEdges"/>
<rect x="83.68" y="381.50" width="2.42" height="7.48" fill="#e4603c" shape-rendering="crispEdges"/>
<rect x="86.05" y="381.50" width="2.42" height="7.48" fill="#eb8869" shape-rendering="crispEdges"/>
<rect x="88.42" y="381.50" width="2.42" height="7.48" fill="#f1af96" shape-rendering="crispEdges"/>
<rect x="90.79" y="381.50" width="2.42" height="7.48" fill="#ed9376" shape-rendering="crispEdges"/>
<rect x="93.16" y="381.50" width="2.42" height="7.48" fill="#f1af97" shape-rendering="crispEdges"/>
<rect x="95.53" y="381.50" width="2.42" height="7.48" fill="#ea805f" shape-rendering="crispEdges"/>
<rect x="97.90" y="381.50" width="2.59" height="7.48" fill="#f4d6cb" shape-rendering="crispEdges"/>
<rect x="100.44" y="381.50" width="2.59" height="7.48" fill="#2b4fa6" shape-rendering="crispEdges"/>
<rect x="102.99" y="381.50" width="2.59" height="7.48" fill="#ec8f71" shape-rendering="crispEdges"/>
<rect x="105.53" y="381.50" width="2.59" height="7.48" fill="#f1af97" shape-rendering="crispEdges"/>
<rect x="108.07" y="381.50" width="2.59" height="7.48" fill="#2b4fa6" shape-rendering="crispEdges"/>
<rect x="110.61" y="381.50" width="2.59" height="7.48" fill="#efa48a" shape-rendering="crispEdges"/>
<rect x="113.16" y="381.50" width="2.59" height="7.48" fill="#eb8565" shape-rendering="crispEdges"/>
<rect x="115.70" y="381.50" width="2.44" height="7.48" fill="#f2bda9" shape-rendering="crispEdges"/>
<rect x="118.09" y="381.50" width="2.44" height="7.48" fill="#ee9b7f" shape-rendering="crispEdges"/>
<rect x="120.48" y="381.50" width="2.44" height="7.48" fill="#f4d2c6" shape-rendering="crispEdges"/>
<rect x="122.87" y="381.50" width="2.44" height="7.48" fill="#efa48a" shape-rendering="crispEdges"/>
<rect x="125.27" y="381.50" width="2.44" height="7.48" fill="#f5e4e0" shape-rendering="crispEdges"/>
<rect x="127.66" y="381.50" width="2.44" height="7.48" fill="#ebdee2" shape-rendering="crispEdges"/>
<rect x="130.05" y="381.50" width="2.44" height="7.48" fill="#f3c4b3" shape-rendering="crispEdges"/>
<rect x="132.44" y="381.50" width="2.44" height="7.48" fill="#eb8667" shape-rendering="crispEdges"/>
<rect x="134.83" y="381.50" width="2.44" height="7.48" fill="#f3c0ad" shape-rendering="crispEdges"/>
<rect x="137.22" y="381.50" width="2.44" height="7.48" fill="#e1d6e3" shape-rendering="crispEdges"/>
<rect x="139.61" y="381.50" width="2.44" height="7.48" fill="#f1b199" shape-rendering="crispEdges"/>
<rect x="142.00" y="381.50" width="2.44" height="7.48" fill="#f4d4c9" shape-rendering="crispEdges"/>
<rect x="144.40" y="381.50" width="2.44" height="7.48" fill="#f5dad2" shape-rendering="crispEdges"/>
<rect x="146.79" y="381.50" width="2.44" height="7.48" fill="#2b4fa6" shape-rendering="crispEdges"/>
<rect x="149.18" y="381.50" width="2.44" height="7.48" fill="#f1ad94" shape-rendering="crispEdges"/>
<rect x="151.57" y="381.50" width="2.44" height="7.48" fill="#d9d1e4" shape-rendering="crispEdges"/>
<rect x="153.96" y="381.50" width="2.44" height="7.48" fill="#d7d0e4" shape-rendering="crispEdges"/>
<rect x="156.35" y="381.50" width="2.44" height="7.48" fill="#e4d9e3" shape-rendering="crispEdges"/>
<rect x="158.74" y="381.50" width="2.44" height="7.48" fill="#ed9578" shape-rendering="crispEdges"/>
<rect x="161.13" y="381.50" width="2.44" height="7.48" fill="#f2b6a0" shape-rendering="crispEdges"/>
<rect x="163.53" y="381.50" width="2.44" height="7.48" fill="#f4d5cb" shape-rendering="crispEdges"/>
<rect x="165.92" y="381.50" width="2.44" height="7.48" fill="#f4d8cf" shape-rendering="crispEdges"/>
<rect x="168.31" y="381.50" width="2.44" height="7.48" fill="#efa388" shape-rendering="crispEdges"/>
<rect x="41.00" y="388.93" width="2.42" height="7.48" fill="#f0a990" shape-rendering="crispEdges"/>
<rect x="43.37" y="388.93" width="2.42" height="7.48" fill="#e7dbe3" shape-rendering="crispEdges"/>
<rect x="45.74" y="388.93" width="2.42" height="7.48" fill="#f1af96" shape-rendering="crispEdges"/>
<rect x="48.11" y="388.93" width="2.42" height="7.48" fill="#f4d8ce" shape-rendering="crispEdges"/>
<rect x="50.48" y="388.93" width="2.42" height="7.48" fill="#eadde3" shape-rendering="crispEdges"/>
<rect x="52.85" y="388.93" width="2.42" height="7.48" fill="#f4d1c5" shape-rendering="crispEdges"/>
<rect x="55.23" y="388.93" width="2.42" height="7.48" fill="#f2baa5" shape-rendering="crispEdges"/>
<rect x="57.60" y="388.93" width="2.42" height="7.48" fill="#f4d2c6" shape-rendering="crispEdges"/>
<rect x="59.97" y="388.93" width="2.42" height="7.48" fill="#f3c5b5" shape-rendering="crispEdges"/>
<rect x="62.34" y="388.93" width="2.42" height="7.48" fill="#f5dad1" shape-rendering="crispEdges"/>
<rect x="64.71" y="388.93" width="2.42" height="7.48" fill="#f5e0db" shape-rendering="crispEdges"/>
<rect x="67.08" y="388.93" width="2.42" height="7.48" fill="#f1af97" shape-rendering="crispEdges"/>
<rect x="69.45" y="388.93" width="2.42" height="7.48" fill="#efe1e2" shape-rendering="crispEdges"/>
<rect x="71.82" y="388.93" width="2.42" height="7.48" fill="#f1af97" shape-rendering="crispEdges"/>
<rect x="74.19" y="388.93" width="2.42" height="7.48" fill="#f3c4b3" shape-rendering="crispEdges"/>
<rect x="76.56" y="388.93" width="2.42" height="7.48" fill="#f4d8cf" shape-rendering="crispEdges"/>
<rect x="78.93" y="388.93" width="2.42" height="7.48" fill="#f4d6cc" shape-rendering="crispEdges"/>
<rect x="81.30" y="388.93" width="2.42" height="7.48" fill="#f4d8cf" shape-rendering="crispEdges"/>
<rect x="83.68" y="388.93" width="2.42" height="7.48" fill="#f4d0c4" shape-rendering="crispEdges"/>
<rect x="86.05" y="388.93" width="2.42" height="7.48" fill="#f4d0c4" shape-rendering="crispEdges"/>
<rect x="88.42" y="388.93" width="2.42" height="7.48" fill="#f4d4c9" shape-rendering="crispEdges"/>
<rect x="90.79" y="388.93" width="2.42" height="7.48" fill="#d3cde5" shape-rendering="crispEdges"/>
<rect x="93.16" y="388.93" width="2.42" height="7.48" fill="#cec9e5" shape-rendering="crispEdges"/>
<rect x="95.53" y="388.93" width="2.42" height="7.48" fill="#f3c4b3" shape-rendering="crispEdges"/>
<rect x="97.90" y="388.93" width="2.59" height="7.48" fill="#e9dde3" shape-rendering="crispEdges"/>
<rect x="100.44" y="388.93" width="2.59" height="7.48" fill="#2b4fa6" shape-rendering="crispEdges"/>
<rect x="102.99" y="388.93" width="2.59" height="7.48" fill="#f0e2e2" shape-rendering="crispEdges"/>
<rect x="105.53" y="388.93" width="2.59" height="7.48" fill="#ede0e2" shape-rendering="crispEdges"/>
<rect x="108.07" y="388.93" width="2.59" height="7.48" fill="#f3bfac" shape-rendering="crispEdges"/>
<rect x="110.61" y="388.93" width="2.59" height="7.48" fill="#aba9d9" shape-rendering="crispEdges"/>
<rect x="113.16" y="388.93" width="2.59" height="7.48" fill="#dfd5e4" shape-rendering="crispEdges"/>
<rect x="115.70" y="388.93" width="2.44" height="7.48" fill="#e5d9e3" shape-rendering="crispEdges"/>
<rect x="118.09" y="388.93" width="2.44" height="7.48" fill="#f5d9d0" shape-rendering="crispEdges"/>
<rect x="120.48" y="388.93" width="2.44" height="7.48" fill="#f4cfc3" shape-rendering="crispEdges"/>
<rect x="122.87" y="388.93" width="2.44" height="7.48" fill="#f4d4c9" shape-rendering="crispEdges"/>
<rect x="125.27" y="388.93" width="2.44" height="7.48" fill="#d2cce5" shape-rendering="crispEdges"/>
<rect x="127.66" y="388.93" width="2.44" height="7.48" fill="#b9b6df" shape-rendering="crispEdges"/>
<rect x="130.05" y="388.93" width="2.44" height="7.48" fill="#e5dae3" shape-rendering="crispEdges"/>
<rect x="132.44" y="388.93" width="2.44" height="7.48" fill="#f0a88e" shape-rendering="crispEdges"/>
<rect x="134.83" y="388.93" width="2.44" height="7.48" fill="#f5e5e2" shape-rendering="crispEdges"/>
<rect x="137.22" y="388.93" width="2.44" height="7.48" fill="#dad2e4" shape-rendering="crispEdges"/>
<rect x="139.61" y="388.93" width="2.44" height="7.48" fill="#bab7df" shape-rendering="crispEdges"/>
<rect x="142.00" y="388.93" width="2.44" height="7.48" fill="#f2e3e2" shape-rendering="crispEdges"/>
<rect x="144.40" y="388.93" width="2.44" height="7.48" fill="#e2d7e3" shape-rendering="crispEdges"/>
<rect x="146.79" y="388.93" width="2.44" height="7.48" fill="#f5ded7" shape-rendering="crispEdges"/>
<rect x="149.18" y="388.93" width="2.44" height="7.48" fill="#f3e4e2" shape-rendering="crispEdges"/>
<rect x="151.57" y="388.93" width="2.44" height="7.48" fill="#9a99d1" shape-rendering="crispEdges"/>
<rect x="153.96" y="388.93" width="2.44" height="7.48" fill="#ebdee2" shape-rendering="crispEdges"/>
<rect x="156.35" y="388.93" width="2.44" height="7.48" fill="#2b4fa6" shape-rendering="crispEdges"/>
<rect x="158.74" y="388.93" width="2.44" height="7.48" fill="#2b4fa6" shape-rendering="crispEdges"/>
<rect x="161.13" y="388.93" width="2.44" height="7.48" fill="#f4d5ca" shape-rendering="crispEdges"/>
<rect x="163.53" y="388.93" width="2.44" height="7.48" fill="#ded4e4" shape-rendering="crispEdges"/>
<rect x="165.92" y="388.93" width="2.44" height="7.48" fill="#cec8e5" shape-rendering="crispEdges"/>
<rect x="168.31" y="388.93" width="2.44" height="7.48" fill="#cfc9e5" shape-rendering="crispEdges"/>
<rect x="41.00" y="396.37" width="2.42" height="7.48" fill="#eddfe2" shape-rendering="crispEdges"/>
<rect x="43.37" y="396.37" width="2.42" height="7.48" fill="#f3c2b0" shape-rendering="crispEdges"/>
<rect x="45.74" y="396.37" width="2.42" height="7.48" fill="#ee9c80" shape-rendering="crispEdges"/>
<rect x="48.11" y="396.37" width="2.42" height="7.48" fill="#f2b9a4" shape-rendering="crispEdges"/>
<rect x="50.48" y="396.37" width="2.42" height="7.48" fill="#e97a59" shape-rendering="crispEdges"/>
<rect x="52.85" y="396.37" width="2.42" height="7.48" fill="#efa389" shape-rendering="crispEdges"/>
<rect x="55.23" y="396.37" width="2.42" height="7.48" fill="#f3c7b8" shape-rendering="crispEdges"/>
<rect x="57.60" y="396.37" width="2.42" height="7.48" fill="#f2b39c" shape-rendering="crispEdges"/>
<rect x="59.97" y="396.37" width="2.42" height="7.48" fill="#f0a68c" shape-rendering="crispEdges"/>
<rect x="62.34" y="396.37" width="2.42" height="7.48" fill="#f0a58b" shape-rendering="crispEdges"/>
<rect x="64.71" y="396.37" width="2.42" height="7.48" fill="#f2b8a2" shape-rendering="crispEdges"/>
<rect x="67.08" y="396.37" width="2.42" height="7.48" fill="#f0a68c" shape-rendering="crispEdges"/>
<rect x="69.45" y="396.37" width="2.42" height="7.48" fill="#e66a46" shape-rendering="crispEdges"/>
<rect x="71.82" y="396.37" width="2.42" height="7.48" fill="#ee9b7f" shape-rendering="crispEdges"/>
<rect x="74.19" y="396.37" width="2.42" height="7.48" fill="#f1ad94" shape-rendering="crispEdges"/>
<rect x="76.56" y="396.37" width="2.42" height="7.48" fill="#f3bfad" shape-rendering="crispEdges"/>
<rect x="78.93" y="396.37" width="2.42" height="7.48" fill="#f2e3e2" shape-rendering="crispEdges"/>
<rect x="81.30" y="396.37" width="2.42" height="7.48" fill="#f1ac94" shape-rendering="crispEdges"/>
<rect x="83.68" y="396.37" width="2.42" height="7.48" fill="#f2bdaa" shape-rendering="crispEdges"/>
<rect x="86.05" y="396.37" width="2.42" height="7.48" fill="#f2b29a" shape-rendering="crispEdges"/>
<rect x="88.42" y="396.37" width="2.42" height="7.48" fill="#f3c2b0" shape-rendering="crispEdges"/>
<rect x="90.79" y="396.37" width="2.42" height="7.48" fill="#ef9e83" shape-rendering="crispEdges"/>
<rect x="93.16" y="396.37" width="2.42" height="7.48" fill="#ed977a" shape-rendering="crispEdges"/>
<rect x="95.53" y="396.37" width="2.42" height="7.48" fill="#f3c7b7" shape-rendering="crispEdges"/>
<rect x="97.90" y="396.37" width="2.59" height="7.48" fill="#2b4fa6" shape-rendering="crispEdges"/>
<rect x="100.44" y="396.37" width="2.59" height="7.48" fill="#2b4fa6" shape-rendering="crispEdges"/>
<rect x="102.99" y="396.37" width="2.59" height="7.48" fill="#2b4fa6" shape-rendering="crispEdges"/>
<rect x="105.53" y="396.37" width="2.59" height="7.48" fill="#f3c8b8" shape-rendering="crispEdges"/>
<rect x="108.07" y="396.37" width="2.59" height="7.48" fill="#f3c1ae" shape-rendering="crispEdges"/>
<rect x="110.61" y="396.37" width="2.59" height="7.48" fill="#f1b199" shape-rendering="crispEdges"/>
<rect x="113.16" y="396.37" width="2.59" height="7.48" fill="#2b4fa6" shape-rendering="crispEdges"/>
<rect x="115.70" y="396.37" width="2.44" height="7.48" fill="#f3c5b4" shape-rendering="crispEdges"/>
<rect x="118.09" y="396.37" width="2.44" height="7.48" fill="#f3cbbc" shape-rendering="crispEdges"/>
<rect x="120.48" y="396.37" width="2.44" height="7.48" fill="#eee0e2" shape-rendering="crispEdges"/>
<rect x="122.87" y="396.37" width="2.44" height="7.48" fill="#d3cce5" shape-rendering="crispEdges"/>
<rect x="125.27" y="396.37" width="2.44" height="7.48" fill="#f5dcd5" shape-rendering="crispEdges"/>
<rect x="127.66" y="396.37" width="2.44" height="7.48" fill="#dcd3e4" shape-rendering="crispEdges"/>
<rect x="130.05" y="396.37" width="2.44" height="7.48" fill="#f2e3e2" shape-rendering="crispEdges"/>
<rect x="132.44" y="396.37" width="2.44" height="7.48" fill="#f4cdc0" shape-rendering="crispEdges"/>
<rect x="134.83" y="396.37" width="2.44" height="7.48" fill="#2b4fa6" shape-rendering="crispEdges"/>
<rect x="137.22" y="396.37" width="2.44" height="7.48" fill="#efa187" shape-rendering="crispEdges"/>
<rect x="139.61" y="396.37" width="2.44" height="7.48" fill="#e1d6e3" shape-rendering="crispEdges"/>
<rect x="142.00" y="396.37" width="2.44" height="7.48" fill="#ee9d81" shape-rendering="crispEdges"/>
<rect x="144.40" y="396.37" width="2.44" height="7.48" fill="#bebae0" shape-rendering="crispEdges"/>
<rect x="146.79" y="396.37" width="2.44" height="7.48" fill="#2b4fa6" shape-rendering="crispEdges"/>
<rect x="149.18" y="396.37" width="2.44" height="7.48" fill="#2b4fa6" shape-rendering="crispEdges"/>
<rect x="151.57" y="396.37" width="2.44" height="7.48" fill="#ec8b6c" shape-rendering="crispEdges"/>
<rect x="153.96" y="396.37" width="2.44" height="7.48" fill="#2b4fa6" shape-rendering="crispEdges"/>
<rect x="156.35" y="396.37" width="2.44" height="7.48" fill="#2b4fa6" shape-rendering="crispEdges"/>
<rect x="158.74" y="396.37" width="2.44" height="7.48" fill="#f1e2e2" shape-rendering="crispEdges"/>
<rect x="161.13" y="396.37" width="2.44" height="7.48" fill="#f5dfd9" shape-rendering="crispEdges"/>
<rect x="163.53" y="396.37" width="2.44" height="7.48" fill="#f5e3df" shape-rendering="crispEdges"/>
<rect x="165.92" y="396.37" width="2.44" height="7.48" fill="#f3c6b5" shape-rendering="crispEdges"/>
<rect x="168.31" y="396.37" width="2.44" height="7.48" fill="#f4d2c6" shape-rendering="crispEdges"/>
<rect x="41.00" y="403.80" width="2.42" height="7.48" fill="#eb8465" shape-rendering="crispEdges"/>
<rect x="43.37" y="403.80" width="2.42" height="7.48" fill="#e97c5b" shape-rendering="crispEdges"/>
<rect x="45.74" y="403.80" width="2.42" height="7.48" fill="#e35c3a" shape-rendering="crispEdges"/>
<rect x="48.11" y="403.80" width="2.42" height="7.48" fill="#f0a98f" shape-rendering="crispEdges"/>
<rect x="50.48" y="403.80" width="2.42" height="7.48" fill="#e76c49" shape-rendering="crispEdges"/>
<rect x="52.85" y="403.80" width="2.42" height="7.48" fill="#ec8f71" shape-rendering="crispEdges"/>
<rect x="55.23" y="403.80" width="2.42" height="7.48" fill="#eb8566" shape-rendering="crispEdges"/>
<rect x="57.60" y="403.80" width="2.42" height="7.48" fill="#e5613d" shape-rendering="crispEdges"/>
<rect x="59.97" y="403.80" width="2.42" height="7.48" fill="#dd4c31" shape-rendering="crispEdges"/>
<rect x="62.34" y="403.80" width="2.42" height="7.48" fill="#e76c48" shape-rendering="crispEdges"/>
<rect x="64.71" y="403.80" width="2.42" height="7.48" fill="#e87654" shape-rendering="crispEdges"/>
<rect x="67.08" y="403.80" width="2.42" height="7.48" fill="#de4e32" shape-rendering="crispEdges"/>
<rect x="69.45" y="403.80" width="2.42" height="7.48" fill="#e5623e" shape-rendering="crispEdges"/>
<rect x="71.82" y="403.80" width="2.42" height="7.48" fill="#f3c4b3" shape-rendering="crispEdges"/>
<rect x="74.19" y="403.80" width="2.42" height="7.48" fill="#ec8d6f" shape-rendering="crispEdges"/>
<rect x="76.56" y="403.80" width="2.42" height="7.48" fill="#ec8f71" shape-rendering="crispEdges"/>
<rect x="78.93" y="403.80" width="2.42" height="7.48" fill="#ec8f71" shape-rendering="crispEdges"/>
<rect x="81.30" y="403.80" width="2.42" height="7.48" fill="#f0a98f" shape-rendering="crispEdges"/>
<rect x="83.68" y="403.80" width="2.42" height="7.48" fill="#e66541" shape-rendering="crispEdges"/>
<rect x="86.05" y="403.80" width="2.42" height="7.48" fill="#e87452" shape-rendering="crispEdges"/>
<rect x="88.42" y="403.80" width="2.42" height="7.48" fill="#dd4c31" shape-rendering="crispEdges"/>
<rect x="90.79" y="403.80" width="2.42" height="7.48" fill="#ea8363" shape-rendering="crispEdges"/>
<rect x="93.16" y="403.80" width="2.42" height="7.48" fill="#e87654" shape-rendering="crispEdges"/>
<rect x="95.53" y="403.80" width="2.42" height="7.48" fill="#ed9174" shape-rendering="crispEdges"/>
<rect x="97.90" y="403.80" width="2.59" height="7.48" fill="#2b4fa6" shape-rendering="crispEdges"/>
<rect x="100.44" y="403.80" width="2.59" height="7.48" fill="#2b4fa6" shape-rendering="crispEdges"/>
<rect x="102.99" y="403.80" width="2.59" height="7.48" fill="#e7704d" shape-rendering="crispEdges"/>
<rect x="105.53" y="403.80" width="2.59" height="7.48" fill="#e5633e" shape-rendering="crispEdges"/>
<rect x="108.07" y="403.80" width="2.59" height="7.48" fill="#dd4b30" shape-rendering="crispEdges"/>
<rect x="110.61" y="403.80" width="2.59" height="7.48" fill="#e87553" shape-rendering="crispEdges"/>
<rect x="113.16" y="403.80" width="2.59" height="7.48" fill="#2b4fa6" shape-rendering="crispEdges"/>
<rect x="115.70" y="403.80" width="2.44" height="7.48" fill="#f4e5e2" shape-rendering="crispEdges"/>
<rect x="118.09" y="403.80" width="2.44" height="7.48" fill="#f5e5e2" shape-rendering="crispEdges"/>
<rect x="120.48" y="403.80" width="2.44" height="7.48" fill="#ee9e82" shape-rendering="crispEdges"/>
<rect x="122.87" y="403.80" width="2.44" height="7.48" fill="#f4d5cb" shape-rendering="crispEdges"/>
<rect x="125.27" y="403.80" width="2.44" height="7.48" fill="#e6dae3" shape-rendering="crispEdges"/>
<rect x="127.66" y="403.80" width="2.44" height="7.48" fill="#2b4fa6" shape-rendering="crispEdges"/>
<rect x="130.05" y="403.80" width="2.44" height="7.48" fill="#f0aa91" shape-rendering="crispEdges"/>
<rect x="132.44" y="403.80" width="2.44" height="7.48" fill="#f2baa5" shape-rendering="crispEdges"/>
<rect x="134.83" y="403.80" width="2.44" height="7.48" fill="#2b4fa6" shape-rendering="crispEdges"/>
<rect x="137.22" y="403.80" width="2.44" height="7.48" fill="#f4ccbe" shape-rendering="crispEdges"/>
<rect x="139.61" y="403.80" width="2.44" height="7.48" fill="#f2b6a0" shape-rendering="crispEdges"/>
<rect x="142.00" y="403.80" width="2.44" height="7.48" fill="#2b4fa6" shape-rendering="crispEdges"/>
<rect x="144.40" y="403.80" width="2.44" height="7.48" fill="#f5ddd6" shape-rendering="crispEdges"/>
<rect x="146.79" y="403.80" width="2.44" height="7.48" fill="#2b4fa6" shape-rendering="crispEdges"/>
<rect x="149.18" y="403.80" width="2.44" height="7.48" fill="#f3c6b6" shape-rendering="crispEdges"/>
<rect x="151.57" y="403.80" width="2.44" height="7.48" fill="#f2b69f" shape-rendering="crispEdges"/>
<rect x="153.96" y="403.80" width="2.44" height="7.48" fill="#f5e5e1" shape-rendering="crispEdges"/>
<rect x="156.35" y="403.80" width="2.44" height="7.48" fill="#2b4fa6" shape-rendering="crispEdges"/>
<rect x="158.74" y="403.80" width="2.44" height="7.48" fill="#2b4fa6" shape-rendering="crispEdges"/>
<rect x="161.13" y="403.80" width="2.44" height="7.48" fill="#2b4fa6" shape-rendering="crispEdges"/>
<rect x="163.53" y="403.80" width="2.44" height="7.48" fill="#efa085" shape-rendering="crispEdges"/>
<rect x="165.92" y="403.80" width="2.44" height="7.48" fill="#e5d9e3" shape-rendering="crispEdges"/>
<rect x="168.31" y="403.80" width="2.44" height="7.48" fill="#eb8667" shape-rendering="crispEdges"/>
<rect x="41.00" y="411.23" width="2.42" height="7.48" fill="#f2b7a2" shape-rendering="crispEdges"/>
<rect x="43.37" y="411.23" width="2.42" height="7.48" fill="#f1ab92" shape-rendering="crispEdges"/>
<rect x="45.74" y="411.23" width="2.42" height="7.48" fill="#f1ac93" shape-rendering="crispEdges"/>
<rect x="48.11" y="411.23" width="2.42" height="7.48" fill="#f2b7a1" shape-rendering="crispEdges"/>
<rect x="50.48" y="411.23" width="2.42" height="7.48" fill="#ed9376" shape-rendering="crispEdges"/>
<rect x="52.85" y="411.23" width="2.42" height="7.48" fill="#f5dad1" shape-rendering="crispEdges"/>
<rect x="55.23" y="411.23" width="2.42" height="7.48" fill="#ee9c81" shape-rendering="crispEdges"/>
<rect x="57.60" y="411.23" width="2.42" height="7.48" fill="#f2beab" shape-rendering="crispEdges"/>
<rect x="59.97" y="411.23" width="2.42" height="7.48" fill="#f1b198" shape-rendering="crispEdges"/>
<rect x="62.34" y="411.23" width="2.42" height="7.48" fill="#f3c6b6" shape-rendering="crispEdges"/>
<rect x="64.71" y="411.23" width="2.42" height="7.48" fill="#efa389" shape-rendering="crispEdges"/>
<rect x="67.08" y="411.23" width="2.42" height="7.48" fill="#f1ac93" shape-rendering="crispEdges"/>
<rect x="69.45" y="411.23" width="2.42" height="7.48" fill="#f3c7b7" shape-rendering="crispEdges"/>
<rect x="71.82" y="411.23" width="2.42" height="7.48" fill="#f2b8a2" shape-rendering="crispEdges"/>
<rect x="74.19" y="411.23" width="2.42" height="7.48" fill="#f1ac93" shape-rendering="crispEdges"/>
<rect x="76.56" y="411.23" width="2.42" height="7.48" fill="#f2beaa" shape-rendering="crispEdges"/>
<rect x="78.93" y="411.23" width="2.42" height="7.48" fill="#ea7e5d" shape-rendering="crispEdges"/>
<rect x="81.30" y="411.23" width="2.42" height="7.48" fill="#f0aa91" shape-rendering="crispEdges"/>
<rect x="83.68" y="411.23" width="2.42" height="7.48" fill="#f3c5b5" shape-rendering="crispEdges"/>
<rect x="86.05" y="411.23" width="2.42" height="7.48" fill="#efa085" shape-rendering="crispEdges"/>
<rect x="88.42" y="411.23" width="2.42" height="7.48" fill="#f1b199" shape-rendering="crispEdges"/>
<rect x="90.79" y="411.23" width="2.42" height="7.48" fill="#f3c9ba" shape-rendering="crispEdges"/>
<rect x="93.16" y="411.23" width="2.42" height="7.48" fill="#f3c4b3" shape-rendering="crispEdges"/>
<rect x="95.53" y="411.23" width="2.42" height="7.48" fill="#f1e2e2" shape-rendering="crispEdges"/>
<rect x="97.90" y="411.23" width="2.59" height="7.48" fill="#2b4fa6" shape-rendering="crispEdges"/>
<rect x="100.44" y="411.23" width="2.59" height="7.48" fill="#2b4fa6" shape-rendering="crispEdges"/>
<rect x="102.99" y="411.23" width="2.59" height="7.48" fill="#f0a990" shape-rendering="crispEdges"/>
<rect x="105.53" y="411.23" width="2.59" height="7.48" fill="#f1ac93" shape-rendering="crispEdges"/>
<rect x="108.07" y="411.23" width="2.59" height="7.48" fill="#2b4fa6" shape-rendering="crispEdges"/>
<rect x="110.61" y="411.23" width="2.59" height="7.48" fill="#f0a68c" shape-rendering="crispEdges"/>
<rect x="113.16" y="411.23" width="2.59" height="7.48" fill="#2b4fa6" shape-rendering="crispEdges"/>
<rect x="115.70" y="411.23" width="2.44" height="7.48" fill="#f4d5cb" shape-rendering="crispEdges"/>
<rect x="118.09" y="411.23" width="2.44" height="7.48" fill="#f5dad1" shape-rendering="crispEdges"/>
<rect x="120.48" y="411.23" width="2.44" height="7.48" fill="#9998d1" shape-rendering="crispEdges"/>
<rect x="122.87" y="411.23" width="2.44" height="7.48" fill="#2b4fa6" shape-rendering="crispEdges"/>
<rect x="125.27" y="411.23" width="2.44" height="7.48" fill="#2b4fa6" shape-rendering="crispEdges"/>
<rect x="127.66" y="411.23" width="2.44" height="7.48" fill="#2b4fa6" shape-rendering="crispEdges"/>
<rect x="130.05" y="411.23" width="2.44" height="7.48" fill="#f5e5e0" shape-rendering="crispEdges"/>
<rect x="132.44" y="411.23" width="2.44" height="7.48" fill="#2b4fa6" shape-rendering="crispEdges"/>
<rect x="134.83" y="411.23" width="2.44" height="7.48" fill="#2b4fa6" shape-rendering="crispEdges"/>
<rect x="137.22" y="411.23" width="2.44" height="7.48" fill="#e1d7e3" shape-rendering="crispEdges"/>
<rect x="139.61" y="411.23" width="2.44" height="7.48" fill="#f4d2c6" shape-rendering="crispEdges"/>
<rect x="142.00" y="411.23" width="2.44" height="7.48" fill="#f5e3df" shape-rendering="crispEdges"/>
<rect x="144.40" y="411.23" width="2.44" height="7.48" fill="#e6dae3" shape-rendering="crispEdges"/>
<rect x="146.79" y="411.23" width="2.44" height="7.48" fill="#2b4fa6" shape-rendering="crispEdges"/>
<rect x="149.18" y="411.23" width="2.44" height="7.48" fill="#2b4fa6" shape-rendering="crispEdges"/>
<rect x="151.57" y="411.23" width="2.44" height="7.48" fill="#2b4fa6" shape-rendering="crispEdges"/>
<rect x="153.96" y="411.23" width="2.44" height="7.48" fill="#2b4fa6" shape-rendering="crispEdges"/>
<rect x="156.35" y="411.23" width="2.44" height="7.48" fill="#2b4fa6" shape-rendering="crispEdges"/>
<rect x="158.74" y="411.23" width="2.44" height="7.48" fill="#2b4fa6" shape-rendering="crispEdges"/>
<rect x="161.13" y="411.23" width="2.44" height="7.48" fill="#2b4fa6" shape-rendering="crispEdges"/>
<rect x="163.53" y="411.23" width="2.44" height="7.48" fill="#e8dce3" shape-rendering="crispEdges"/>
<rect x="165.92" y="411.23" width="2.44" height="7.48" fill="#f1b098" shape-rendering="crispEdges"/>
<rect x="168.31" y="411.23" width="2.44" height="7.48" fill="#f2b59f" shape-rendering="crispEdges"/>
<rect x="41.00" y="418.67" width="2.42" height="7.48" fill="#f5d9d1" shape-rendering="crispEdges"/>
<rect x="43.37" y="418.67" width="2.42" height="7.48" fill="#f4cdc0" shape-rendering="crispEdges"/>
<rect x="45.74" y="418.67" width="2.42" height="7.48" fill="#f0a78e" shape-rendering="crispEdges"/>
<rect x="48.11" y="418.67" width="2.42" height="7.48" fill="#f0a88e" shape-rendering="crispEdges"/>
<rect x="50.48" y="418.67" width="2.42" height="7.48" fill="#f2b49d" shape-rendering="crispEdges"/>
<rect x="52.85" y="418.67" width="2.42" height="7.48" fill="#f2bda9" shape-rendering="crispEdges"/>
<rect x="55.23" y="418.67" width="2.42" height="7.48" fill="#ed9477" shape-rendering="crispEdges"/>
<rect x="57.60" y="418.67" width="2.42" height="7.48" fill="#f4d6cd" shape-rendering="crispEdges"/>
<rect x="59.97" y="418.67" width="2.42" height="7.48" fill="#f0a88f" shape-rendering="crispEdges"/>
<rect x="62.34" y="418.67" width="2.42" height="7.48" fill="#ea8363" shape-rendering="crispEdges"/>
<rect x="64.71" y="418.67" width="2.42" height="7.48" fill="#f2bda9" shape-rendering="crispEdges"/>
<rect x="67.08" y="418.67" width="2.42" height="7.48" fill="#f4d5ca" shape-rendering="crispEdges"/>
<rect x="69.45" y="418.67" width="2.42" height="7.48" fill="#f2b49e" shape-rendering="crispEdges"/>
<rect x="71.82" y="418.67" width="2.42" height="7.48" fill="#dfd5e4" shape-rendering="crispEdges"/>
<rect x="74.19" y="418.67" width="2.42" height="7.48" fill="#f2bda9" shape-rendering="crispEdges"/>
<rect x="76.56" y="418.67" width="2.42" height="7.48" fill="#f3cabb" shape-rendering="crispEdges"/>
<rect x="78.93" y="418.67" width="2.42" height="7.48" fill="#f3bfac" shape-rendering="crispEdges"/>
<rect x="81.30" y="418.67" width="2.42" height="7.48" fill="#f3c1af" shape-rendering="crispEdges"/>
<rect x="83.68" y="418.67" width="2.42" height="7.48" fill="#ee9b7f" shape-rendering="crispEdges"/>
<rect x="86.05" y="418.67" width="2.42" height="7.48" fill="#f0a88e" shape-rendering="crispEdges"/>
<rect x="88.42" y="418.67" width="2.42" height="7.48" fill="#f3c5b5" shape-rendering="crispEdges"/>
<rect x="90.79" y="418.67" width="2.42" height="7.48" fill="#ec8b6c" shape-rendering="crispEdges"/>
<rect x="93.16" y="418.67" width="2.42" height="7.48" fill="#f3c4b3" shape-rendering="crispEdges"/>
<rect x="95.53" y="418.67" width="2.42" height="7.48" fill="#eb8667" shape-rendering="crispEdges"/>
<rect x="97.90" y="418.67" width="2.59" height="7.48" fill="#2b4fa6" shape-rendering="crispEdges"/>
<rect x="100.44" y="418.67" width="2.59" height="7.48" fill="#2b4fa6" shape-rendering="crispEdges"/>
<rect x="102.99" y="418.67" width="2.59" height="7.48" fill="#2b4fa6" shape-rendering="crispEdges"/>
<rect x="105.53" y="418.67" width="2.59" height="7.48" fill="#e7dbe3" shape-rendering="crispEdges"/>
<rect x="108.07" y="418.67" width="2.59" height="7.48" fill="#ec8b6d" shape-rendering="crispEdges"/>
<rect x="110.61" y="418.67" width="2.59" height="7.48" fill="#f3c6b6" shape-rendering="crispEdges"/>
<rect x="113.16" y="418.67" width="2.59" height="7.48" fill="#2b4fa6" shape-rendering="crispEdges"/>
<rect x="115.70" y="418.67" width="2.44" height="7.48" fill="#dbd2e4" shape-rendering="crispEdges"/>
<rect x="118.09" y="418.67" width="2.44" height="7.48" fill="#2b4fa6" shape-rendering="crispEdges"/>
<rect x="120.48" y="418.67" width="2.44" height="7.48" fill="#ef9f84" shape-rendering="crispEdges"/>
<rect x="122.87" y="418.67" width="2.44" height="7.48" fill="#2b4fa6" shape-rendering="crispEdges"/>
<rect x="125.27" y="418.67" width="2.44" height="7.48" fill="#2b4fa6" shape-rendering="crispEdges"/>
<rect x="127.66" y="418.67" width="2.44" height="7.48" fill="#2b4fa6" shape-rendering="crispEdges"/>
<rect x="130.05" y="418.67" width="2.44" height="7.48" fill="#c7c3e5" shape-rendering="crispEdges"/>
<rect x="132.44" y="418.67" width="2.44" height="7.48" fill="#2b4fa6" shape-rendering="crispEdges"/>
<rect x="134.83" y="418.67" width="2.44" height="7.48" fill="#2b4fa6" shape-rendering="crispEdges"/>
<rect x="137.22" y="418.67" width="2.44" height="7.48" fill="#ed9275" shape-rendering="crispEdges"/>
<rect x="139.61" y="418.67" width="2.44" height="7.48" fill="#2b4fa6" shape-rendering="crispEdges"/>
<rect x="142.00" y="418.67" width="2.44" height="7.48" fill="#2b4fa6" shape-rendering="crispEdges"/>
<rect x="144.40" y="418.67" width="2.44" height="7.48" fill="#f0e2e2" shape-rendering="crispEdges"/>
<rect x="146.79" y="418.67" width="2.44" height="7.48" fill="#2b4fa6" shape-rendering="crispEdges"/>
<rect x="149.18" y="418.67" width="2.44" height="7.48" fill="#9b9ad2" shape-rendering="crispEdges"/>
<rect x="151.57" y="418.67" width="2.44" height="7.48" fill="#2b4fa6" shape-rendering="crispEdges"/>
<rect x="153.96" y="418.67" width="2.44" height="7.48" fill="#2b4fa6" shape-rendering="crispEdges"/>
<rect x="156.35" y="418.67" width="2.44" height="7.48" fill="#2b4fa6" shape-rendering="crispEdges"/>
<rect x="158.74" y="418.67" width="2.44" height="7.48" fill="#2b4fa6" shape-rendering="crispEdges"/>
<rect x="161.13" y="418.67" width="2.44" height="7.48" fill="#2b4fa6" shape-rendering="crispEdges"/>
<rect x="163.53" y="418.67" width="2.44" height="7.48" fill="#ef9f84" shape-rendering="crispEdges"/>
<rect x="165.92" y="418.67" width="2.44" height="7.48" fill="#efe1e2" shape-rendering="crispEdges"/>
<rect x="168.31" y="418.67" width="2.44" height="7.48" fill="#f4d5cb" shape-rendering="crispEdges"/>
<rect x="41.00" y="426.10" width="2.42" height="7.48" fill="#dc4a2f" shape-rendering="crispEdges"/>
<rect x="43.37" y="426.10" width="2.42" height="7.48" fill="#ed977a" shape-rendering="crispEdges"/>
<rect x="45.74" y="426.10" width="2.42" height="7.48" fill="#e76b48" shape-rendering="crispEdges"/>
<rect x="48.11" y="426.10" width="2.42" height="7.48" fill="#e8714e" shape-rendering="crispEdges"/>
<rect x="50.48" y="426.10" width="2.42" height="7.48" fill="#e66642" shape-rendering="crispEdges"/>
<rect x="52.85" y="426.10" width="2.42" height="7.48" fill="#ec9173" shape-rendering="crispEdges"/>
<rect x="55.23" y="426.10" width="2.42" height="7.48" fill="#e45f3c" shape-rendering="crispEdges"/>
<rect x="57.60" y="426.10" width="2.42" height="7.48" fill="#e45e3b" shape-rendering="crispEdges"/>
<rect x="59.97" y="426.10" width="2.42" height="7.48" fill="#eb8565" shape-rendering="crispEdges"/>
<rect x="62.34" y="426.10" width="2.42" height="7.48" fill="#e5623e" shape-rendering="crispEdges"/>
<rect x="64.71" y="426.10" width="2.42" height="7.48" fill="#e35e3b" shape-rendering="crispEdges"/>
<rect x="67.08" y="426.10" width="2.42" height="7.48" fill="#ed977b" shape-rendering="crispEdges"/>
<rect x="69.45" y="426.10" width="2.42" height="7.48" fill="#e66540" shape-rendering="crispEdges"/>
<rect x="71.82" y="426.10" width="2.42" height="7.48" fill="#de4f32" shape-rendering="crispEdges"/>
<rect x="74.19" y="426.10" width="2.42" height="7.48" fill="#df5234" shape-rendering="crispEdges"/>
<rect x="76.56" y="426.10" width="2.42" height="7.48" fill="#eb8465" shape-rendering="crispEdges"/>
<rect x="78.93" y="426.10" width="2.42" height="7.48" fill="#e97a59" shape-rendering="crispEdges"/>
<rect x="81.30" y="426.10" width="2.42" height="7.48" fill="#e5623e" shape-rendering="crispEdges"/>
<rect x="83.68" y="426.10" width="2.42" height="7.48" fill="#e25a39" shape-rendering="crispEdges"/>
<rect x="86.05" y="426.10" width="2.42" height="7.48" fill="#df5133" shape-rendering="crispEdges"/>
<rect x="88.42" y="426.10" width="2.42" height="7.48" fill="#e5613d" shape-rendering="crispEdges"/>
<rect x="90.79" y="426.10" width="2.42" height="7.48" fill="#df5134" shape-rendering="crispEdges"/>
<rect x="93.16" y="426.10" width="2.42" height="7.48" fill="#e97755" shape-rendering="crispEdges"/>
<rect x="95.53" y="426.10" width="2.42" height="7.48" fill="#d73a26" shape-rendering="crispEdges"/>
<rect x="97.90" y="426.10" width="2.59" height="7.48" fill="#2b4fa6" shape-rendering="crispEdges"/>
<rect x="100.44" y="426.10" width="2.59" height="7.48" fill="#2b4fa6" shape-rendering="crispEdges"/>
<rect x="102.99" y="426.10" width="2.59" height="7.48" fill="#2b4fa6" shape-rendering="crispEdges"/>
<rect x="105.53" y="426.10" width="2.59" height="7.48" fill="#f4d0c4" shape-rendering="crispEdges"/>
<rect x="108.07" y="426.10" width="2.59" height="7.48" fill="#2b4fa6" shape-rendering="crispEdges"/>
<rect x="110.61" y="426.10" width="2.59" height="7.48" fill="#2b4fa6" shape-rendering="crispEdges"/>
<rect x="113.16" y="426.10" width="2.59" height="7.48" fill="#eddfe2" shape-rendering="crispEdges"/>
<rect x="115.70" y="426.10" width="2.44" height="7.48" fill="#e5dae3" shape-rendering="crispEdges"/>
<rect x="118.09" y="426.10" width="2.44" height="7.48" fill="#2b4fa6" shape-rendering="crispEdges"/>
<rect x="120.48" y="426.10" width="2.44" height="7.48" fill="#d3cce5" shape-rendering="crispEdges"/>
<rect x="122.87" y="426.10" width="2.44" height="7.48" fill="#2b4fa6" shape-rendering="crispEdges"/>
<rect x="125.27" y="426.10" width="2.44" height="7.48" fill="#2b4fa6" shape-rendering="crispEdges"/>
<rect x="127.66" y="426.10" width="2.44" height="7.48" fill="#2b4fa6" shape-rendering="crispEdges"/>
<rect x="130.05" y="426.10" width="2.44" height="7.48" fill="#f3c1b0" shape-rendering="crispEdges"/>
<rect x="132.44" y="426.10" width="2.44" height="7.48" fill="#2b4fa6" shape-rendering="crispEdges"/>
<rect x="134.83" y="426.10" width="2.44" height="7.48" fill="#2b4fa6" shape-rendering="crispEdges"/>
<rect x="137.22" y="426.10" width="2.44" height="7.48" fill="#ebdee2" shape-rendering="crispEdges"/>
<rect x="139.61" y="426.10" width="2.44" height="7.48" fill="#f4d0c4" shape-rendering="crispEdges"/>
<rect x="142.00" y="426.10" width="2.44" height="7.48" fill="#2b4fa6" shape-rendering="crispEdges"/>
<rect x="144.40" y="426.10" width="2.44" height="7.48" fill="#e5dae3" shape-rendering="crispEdges"/>
<rect x="146.79" y="426.10" width="2.44" height="7.48" fill="#2b4fa6" shape-rendering="crispEdges"/>
<rect x="149.18" y="426.10" width="2.44" height="7.48" fill="#2b4fa6" shape-rendering="crispEdges"/>
<rect x="151.57" y="426.10" width="2.44" height="7.48" fill="#2b4fa6" shape-rendering="crispEdges"/>
<rect x="153.96" y="426.10" width="2.44" height="7.48" fill="#2b4fa6" shape-rendering="crispEdges"/>
<rect x="156.35" y="426.10" width="2.44" height="7.48" fill="#2b4fa6" shape-rendering="crispEdges"/>
<rect x="158.74" y="426.10" width="2.44" height="7.48" fill="#2b4fa6" shape-rendering="crispEdges"/>
<rect x="161.13" y="426.10" width="2.44" height="7.48" fill="#2b4fa6" shape-rendering="crispEdges"/>
<rect x="163.53" y="426.10" width="2.44" height="7.48" fill="#2b4fa6" shape-rendering="crispEdges"/>
<rect x="165.92" y="426.10" width="2.44" height="7.48" fill="#f5dcd4" shape-rendering="crispEdges"/>
<rect x="168.31" y="426.10" width="2.44" height="7.48" fill="#2b4fa6" shape-rendering="crispEdges"/>
<rect x="41.00" y="433.53" width="2.42" height="7.48" fill="#2b4fa6" shape-rendering="crispEdges"/>
<rect x="43.37" y="433.53" width="2.42" height="7.48" fill="#f1e2e2" shape-rendering="crispEdges"/>
<rect x="45.74" y="433.53" width="2.42" height="7.48" fill="#f2beaa" shape-rendering="crispEdges"/>
<rect x="48.11" y="433.53" width="2.42" height="7.48" fill="#b7b4de" shape-rendering="crispEdges"/>
<rect x="50.48" y="433.53" width="2.42" height="7.48" fill="#f0aa91" shape-rendering="crispEdges"/>
<rect x="52.85" y="433.53" width="2.42" height="7.48" fill="#dbd2e4" shape-rendering="crispEdges"/>
<rect x="55.23" y="433.53" width="2.42" height="7.48" fill="#dbd2e4" shape-rendering="crispEdges"/>
<rect x="57.60" y="433.53" width="2.42" height="7.48" fill="#f2baa6" shape-rendering="crispEdges"/>
<rect x="59.97" y="433.53" width="2.42" height="7.48" fill="#d2cce5" shape-rendering="crispEdges"/>
<rect x="62.34" y="433.53" width="2.42" height="7.48" fill="#2b4fa6" shape-rendering="crispEdges"/>
<rect x="64.71" y="433.53" width="2.42" height="7.48" fill="#2b4fa6" shape-rendering="crispEdges"/>
<rect x="67.08" y="433.53" width="2.42" height="7.48" fill="#2b4fa6" shape-rendering="crispEdges"/>
<rect x="69.45" y="433.53" width="2.42" height="7.48" fill="#eadde3" shape-rendering="crispEdges"/>
<rect x="71.82" y="433.53" width="2.42" height="7.48" fill="#2b4fa6" shape-rendering="crispEdges"/>
<rect x="74.19" y="433.53" width="2.42" height="7.48" fill="#f4d3c7" shape-rendering="crispEdges"/>
<rect x="76.56" y="433.53" width="2.42" height="7.48" fill="#c4c1e3" shape-rendering="crispEdges"/>
<rect x="78.93" y="433.53" width="2.42" height="7.48" fill="#f5e1dc" shape-rendering="crispEdges"/>
<rect x="81.30" y="433.53" width="2.42" height="7.48" fill="#2b4fa6" shape-rendering="crispEdges"/>
<rect x="83.68" y="433.53" width="2.42" height="7.48" fill="#f3c1af" shape-rendering="crispEdges"/>
<rect x="86.05" y="433.53" width="2.42" height="7.48" fill="#eadde3" shape-rendering="crispEdges"/>
<rect x="88.42" y="433.53" width="2.42" height="7.48" fill="#f1b097" shape-rendering="crispEdges"/>
<rect x="90.79" y="433.53" width="2.42" height="7.48" fill="#e6dae3" shape-rendering="crispEdges"/>
<rect x="93.16" y="433.53" width="2.42" height="7.48" fill="#2b4fa6" shape-rendering="crispEdges"/>
<rect x="95.53" y="433.53" width="2.42" height="7.48" fill="#f1b198" shape-rendering="crispEdges"/>
<rect x="97.90" y="433.53" width="2.59" height="7.48" fill="#2b4fa6" shape-rendering="crispEdges"/>
<rect x="100.44" y="433.53" width="2.59" height="7.48" fill="#2b4fa6" shape-rendering="crispEdges"/>
<rect x="102.99" y="433.53" width="2.59" height="7.48" fill="#2b4fa6" shape-rendering="crispEdges"/>
<rect x="105.53" y="433.53" width="2.59" height="7.48" fill="#e8dbe3" shape-rendering="crispEdges"/>
<rect x="108.07" y="433.53" width="2.59" height="7.48" fill="#2b4fa6" shape-rendering="crispEdges"/>
<rect x="110.61" y="433.53" width="2.59" height="7.48" fill="#2b4fa6" shape-rendering="crispEdges"/>
<rect x="113.16" y="433.53" width="2.59" height="7.48" fill="#2b4fa6" shape-rendering="crispEdges"/>
<rect x="115.70" y="433.53" width="2.44" height="7.48" fill="#2b4fa6" shape-rendering="crispEdges"/>
<rect x="118.09" y="433.53" width="2.44" height="7.48" fill="#2b4fa6" shape-rendering="crispEdges"/>
<rect x="120.48" y="433.53" width="2.44" height="7.48" fill="#2b4fa6" shape-rendering="crispEdges"/>
<rect x="122.87" y="433.53" width="2.44" height="7.48" fill="#2b4fa6" shape-rendering="crispEdges"/>
<rect x="125.27" y="433.53" width="2.44" height="7.48" fill="#2b4fa6" shape-rendering="crispEdges"/>
<rect x="127.66" y="433.53" width="2.44" height="7.48" fill="#2b4fa6" shape-rendering="crispEdges"/>
<rect x="130.05" y="433.53" width="2.44" height="7.48" fill="#2b4fa6" shape-rendering="crispEdges"/>
<rect x="132.44" y="433.53" width="2.44" height="7.48" fill="#2b4fa6" shape-rendering="crispEdges"/>
<rect x="134.83" y="433.53" width="2.44" height="7.48" fill="#2b4fa6" shape-rendering="crispEdges"/>
<rect x="137.22" y="433.53" width="2.44" height="7.48" fill="#c2bfe2" shape-rendering="crispEdges"/>
<rect x="139.61" y="433.53" width="2.44" height="7.48" fill="#2b4fa6" shape-rendering="crispEdges"/>
<rect x="142.00" y="433.53" width="2.44" height="7.48" fill="#2b4fa6" shape-rendering="crispEdges"/>
<rect x="144.40" y="433.53" width="2.44" height="7.48" fill="#eee0e2" shape-rendering="crispEdges"/>
<rect x="146.79" y="433.53" width="2.44" height="7.48" fill="#2b4fa6" shape-rendering="crispEdges"/>
<rect x="149.18" y="433.53" width="2.44" height="7.48" fill="#2b4fa6" shape-rendering="crispEdges"/>
<rect x="151.57" y="433.53" width="2.44" height="7.48" fill="#2b4fa6" shape-rendering="crispEdges"/>
<rect x="153.96" y="433.53" width="2.44" height="7.48" fill="#2b4fa6" shape-rendering="crispEdges"/>
<rect x="156.35" y="433.53" width="2.44" height="7.48" fill="#2b4fa6" shape-rendering="crispEdges"/>
<rect x="158.74" y="433.53" width="2.44" height="7.48" fill="#2b4fa6" shape-rendering="crispEdges"/>
<rect x="161.13" y="433.53" width="2.44" height="7.48" fill="#2b4fa6" shape-rendering="crispEdges"/>
<rect x="163.53" y="433.53" width="2.44" height="7.48" fill="#f2bba6" shape-rendering="crispEdges"/>
<rect x="165.92" y="433.53" width="2.44" height="7.48" fill="#2b4fa6" shape-rendering="crispEdges"/>
<rect x="168.31" y="433.53" width="2.44" height="7.48" fill="#2b4fa6" shape-rendering="crispEdges"/>
<rect x="41.00" y="440.96" width="2.42" height="7.48" fill="#d63725" shape-rendering="crispEdges"/>
<rect x="43.37" y="440.96" width="2.42" height="7.48" fill="#de4d31" shape-rendering="crispEdges"/>
<rect x="45.74" y="440.96" width="2.42" height="7.48" fill="#dd4c31" shape-rendering="crispEdges"/>
<rect x="48.11" y="440.96" width="2.42" height="7.48" fill="#d53623" shape-rendering="crispEdges"/>
<rect x="50.48" y="440.96" width="2.42" height="7.48" fill="#d73c27" shape-rendering="crispEdges"/>
<rect x="52.85" y="440.96" width="2.42" height="7.48" fill="#db472e" shape-rendering="crispEdges"/>
<rect x="55.23" y="440.96" width="2.42" height="7.48" fill="#de4e32" shape-rendering="crispEdges"/>
<rect x="57.60" y="440.96" width="2.42" height="7.48" fill="#dd4c31" shape-rendering="crispEdges"/>
<rect x="59.97" y="440.96" width="2.42" height="7.48" fill="#d73c27" shape-rendering="crispEdges"/>
<rect x="62.34" y="440.96" width="2.42" height="7.48" fill="#d63724" shape-rendering="crispEdges"/>
<rect x="64.71" y="440.96" width="2.42" height="7.48" fill="#da432b" shape-rendering="crispEdges"/>
<rect x="67.08" y="440.96" width="2.42" height="7.48" fill="#d63925" shape-rendering="crispEdges"/>
<rect x="69.45" y="440.96" width="2.42" height="7.48" fill="#e66743" shape-rendering="crispEdges"/>
<rect x="71.82" y="440.96" width="2.42" height="7.48" fill="#d83d28" shape-rendering="crispEdges"/>
<rect x="74.19" y="440.96" width="2.42" height="7.48" fill="#d22c1e" shape-rendering="crispEdges"/>
<rect x="76.56" y="440.96" width="2.42" height="7.48" fill="#dd4b30" shape-rendering="crispEdges"/>
<rect x="78.93" y="440.96" width="2.42" height="7.48" fill="#e15737" shape-rendering="crispEdges"/>
<rect x="81.30" y="440.96" width="2.42" height="7.48" fill="#d53623" shape-rendering="crispEdges"/>
<rect x="83.68" y="440.96" width="2.42" height="7.48" fill="#e76f4c" shape-rendering="crispEdges"/>
<rect x="86.05" y="440.96" width="2.42" height="7.48" fill="#d63925" shape-rendering="crispEdges"/>
<rect x="88.42" y="440.96" width="2.42" height="7.48" fill="#e4603d" shape-rendering="crispEdges"/>
<rect x="90.79" y="440.96" width="2.42" height="7.48" fill="#da452c" shape-rendering="crispEdges"/>
<rect x="93.16" y="440.96" width="2.42" height="7.48" fill="#e4603c" shape-rendering="crispEdges"/>
<rect x="95.53" y="440.96" width="2.42" height="7.48" fill="#d43422" shape-rendering="crispEdges"/>
<rect x="97.90" y="440.96" width="2.59" height="7.48" fill="#dd4c30" shape-rendering="crispEdges"/>
<rect x="100.44" y="440.96" width="2.59" height="7.48" fill="#df5234" shape-rendering="crispEdges"/>
<rect x="102.99" y="440.96" width="2.59" height="7.48" fill="#e25a39" shape-rendering="crispEdges"/>
<rect x="105.53" y="440.96" width="2.59" height="7.48" fill="#d9402a" shape-rendering="crispEdges"/>
<rect x="108.07" y="440.96" width="2.59" height="7.48" fill="#e25b39" shape-rendering="crispEdges"/>
<rect x="110.61" y="440.96" width="2.59" height="7.48" fill="#de4e32" shape-rendering="crispEdges"/>
<rect x="113.16" y="440.96" width="2.59" height="7.48" fill="#df5234" shape-rendering="crispEdges"/>
<rect x="115.70" y="440.96" width="2.44" height="7.48" fill="#dc4a2f" shape-rendering="crispEdges"/>
<rect x="118.09" y="440.96" width="2.44" height="7.48" fill="#d83d28" shape-rendering="crispEdges"/>
<rect x="120.48" y="440.96" width="2.44" height="7.48" fill="#d83e29" shape-rendering="crispEdges"/>
<rect x="122.87" y="440.96" width="2.44" height="7.48" fill="#dd4b30" shape-rendering="crispEdges"/>
<rect x="125.27" y="440.96" width="2.44" height="7.48" fill="#dc4a2f" shape-rendering="crispEdges"/>
<rect x="127.66" y="440.96" width="2.44" height="7.48" fill="#e15636" shape-rendering="crispEdges"/>
<rect x="130.05" y="440.96" width="2.44" height="7.48" fill="#db472e" shape-rendering="crispEdges"/>
<rect x="132.44" y="440.96" width="2.44" height="7.48" fill="#d83d28" shape-rendering="crispEdges"/>
<rect x="134.83" y="440.96" width="2.44" height="7.48" fill="#de4e32" shape-rendering="crispEdges"/>
<rect x="137.22" y="440.96" width="2.44" height="7.48" fill="#dd4b30" shape-rendering="crispEdges"/>
<rect x="139.61" y="440.96" width="2.44" height="7.48" fill="#da422b" shape-rendering="crispEdges"/>
<rect x="142.00" y="440.96" width="2.44" height="7.48" fill="#dc492f" shape-rendering="crispEdges"/>
<rect x="144.40" y="440.96" width="2.44" height="7.48" fill="#db452d" shape-rendering="crispEdges"/>
<rect x="146.79" y="440.96" width="2.44" height="7.48" fill="#e76b48" shape-rendering="crispEdges"/>
<rect x="149.18" y="440.96" width="2.44" height="7.48" fill="#da442c" shape-rendering="crispEdges"/>
<rect x="151.57" y="440.96" width="2.44" height="7.48" fill="#e66642" shape-rendering="crispEdges"/>
<rect x="153.96" y="440.96" width="2.44" height="7.48" fill="#d9402a" shape-rendering="crispEdges"/>
<rect x="156.35" y="440.96" width="2.44" height="7.48" fill="#de4d31" shape-rendering="crispEdges"/>
<rect x="158.74" y="440.96" width="2.44" height="7.48" fill="#df5234" shape-rendering="crispEdges"/>
<rect x="161.13" y="440.96" width="2.44" height="7.48" fill="#e45f3c" shape-rendering="crispEdges"/>
<rect x="163.53" y="440.96" width="2.44" height="7.48" fill="#d73b27" shape-rendering="crispEdges"/>
<rect x="165.92" y="440.96" width="2.44" height="7.48" fill="#df5234" shape-rendering="crispEdges"/>
<rect x="168.31" y="440.96" width="2.44" height="7.48" fill="#df5234" shape-rendering="crispEdges"/>
<text x="174.00" y="318.80" font-size="5.5" fill="#1a1a1a" text-anchor="start" font-style="italic">EBNA-1</text>
<text x="174.00" y="327.17" font-size="5.5" fill="#1a1a1a" text-anchor="start" font-style="italic">LMP2A</text>
<text x="174.00" y="335.55" font-size="5.5" fill="#1a1a1a" text-anchor="start" font-style="italic">LMP1</text>
<text x="174.00" y="343.92" font-size="5.5" fill="#1a1a1a" text-anchor="start" font-style="italic">EBNA3B</text>
<text x="174.00" y="352.30" font-size="5.5" fill="#1a1a1a" text-anchor="start" font-style="italic">EBNA3C</text>
<text x="174.00" y="360.67" font-size="5.5" fill="#1a1a1a" text-anchor="start" font-style="italic">EBNA3A</text>
<text x="174.00" y="369.05" font-size="5.5" fill="#1a1a1a" text-anchor="start" font-style="italic">EBNA-LP</text>
<text x="174.00" y="377.42" font-size="5.5" fill="#1a1a1a" text-anchor="start" font-style="italic">LMP2B</text>
<text x="174.20" y="386.80" font-size="5.1" fill="#1a1a1a" text-anchor="start" font-style="italic">BALF2</text>
<text x="174.20" y="394.23" font-size="5.1" fill="#1a1a1a" text-anchor="start" font-style="italic">BPLF1</text>
<text x="174.20" y="401.67" font-size="5.1" fill="#1a1a1a" text-anchor="start" font-style="italic">BARF1</text>
<text x="174.20" y="409.10" font-size="5.1" fill="#1a1a1a" text-anchor="start" font-style="italic">BZLF1</text>
<text x="174.20" y="416.53" font-size="5.1" fill="#1a1a1a" text-anchor="start" font-style="italic">BRLF1</text>
<text x="174.20" y="423.97" font-size="5.1" fill="#1a1a1a" text-anchor="start" font-style="italic">BGLF4</text>
<text x="174.20" y="431.40" font-size="5.1" fill="#1a1a1a" text-anchor="start" font-style="italic">BHRF1</text>
<text x="174.20" y="438.83" font-size="5.1" fill="#1a1a1a" text-anchor="start" font-style="italic">BCRF1</text>
<text x="174.20" y="446.26" font-size="5.1" fill="#1a1a1a" text-anchor="start" font-style="italic">BALF3</text>
<path d="M202.6,318 H209.4 V377.2 H202.6" stroke="#111" stroke-width="1.1" fill="none" />
<path d="M202.6,385 H209.4 V444.3 H202.6" stroke="#111" stroke-width="1.1" fill="none" />
<text x="213.20" y="332.80" font-size="4.5" fill="#222" text-anchor="start" textLength="50.00" lengthAdjust="spacingAndGlyphs" font-weight="bold">EBV latency related gene</text>
<text x="213.20" y="397.80" font-size="4.5" fill="#222" text-anchor="start" textLength="44.00" lengthAdjust="spacingAndGlyphs" font-weight="bold">EBV lytic related gene</text>
<rect x="213.20" y="338.00" width="5.00" height="4.60" fill="#c42828" />
<text x="221.00" y="341.90" font-size="4.4" fill="#333" text-anchor="start" >15</text>
<rect x="213.20" y="346.50" width="5.00" height="4.60" fill="#eba090" />
<text x="221.00" y="350.40" font-size="4.4" fill="#333" text-anchor="start" >10</text>
<rect x="213.20" y="355.00" width="5.00" height="4.60" fill="#cbc3e2" />
<text x="221.00" y="358.90" font-size="4.4" fill="#333" text-anchor="start" >5</text>
<rect x="213.20" y="363.40" width="5.00" height="4.60" fill="#2a4fa3" />
<text x="221.00" y="367.30" font-size="4.4" fill="#333" text-anchor="start" >0</text>
<rect x="213.20" y="402.40" width="5.00" height="4.60" fill="#bb2e22" />
<text x="222.00" y="406.30" font-size="4.4" fill="#333" text-anchor="start" >20</text>
<rect x="213.20" y="410.80" width="5.00" height="4.60" fill="#d24a2c" />
<text x="222.00" y="414.70" font-size="4.4" fill="#333" text-anchor="start" >15</text>
<rect x="213.20" y="419.70" width="5.00" height="4.60" fill="#ebc6ba" />
<text x="222.00" y="423.60" font-size="4.4" fill="#333" text-anchor="start" >10</text>
<rect x="213.20" y="428.20" width="5.00" height="4.60" fill="#bbb1da" />
<text x="222.00" y="432.10" font-size="4.4" fill="#333" text-anchor="start" >5</text>
<rect x="213.20" y="436.60" width="5.00" height="4.60" fill="#2a4fa3" />
<text x="222.00" y="440.50" font-size="4.4" fill="#333" text-anchor="start" >0</text>
<rect x="173.70" y="286.00" width="5.60" height="5.30" fill="#c42a2a" />
<text x="182.20" y="290.00" font-size="4.2" fill="#333" text-anchor="start" >PDX EBV<tspan font-size="2.8" dy="-1.5">+</tspan><tspan dy="1.5"> DLBL</tspan></text>
<rect x="173.70" y="295.00" width="5.60" height="5.30" fill="#2653a6" />
<text x="182.20" y="299.00" font-size="4.2" fill="#333" text-anchor="start" >TCGA EBV<tspan font-size="2.8" dy="-1.5">+</tspan><tspan dy="1.5"> lymphoepithelioma-like carcinoma</tspan></text>
<rect x="173.70" y="305.00" width="5.60" height="5.30" fill="#c4c4c4" />
<text x="182.20" y="309.00" font-size="4.2" fill="#333" text-anchor="start" >Adenocarcinoma (EBV<tspan font-size="2.8" dy="-1.5">+</tspan><tspan dy="1.5">) from PDX</tspan></text>
<path d="M40.5,317.6 H33.2 V326 H40.5" stroke="#111" stroke-width="0.8" fill="none" />
<path d="M33.2,321.8 H32.2 V334.3 H40.5" stroke="#111" stroke-width="0.8" fill="none" />
<path d="M40.5,342.7 H35.2 V351.1 H40.5" stroke="#111" stroke-width="0.8" fill="none" />
<path d="M40.5,359.4 H34.6 V367.8 H40.5" stroke="#111" stroke-width="0.8" fill="none" />
<path d="M35.2,346.9 H31.4 V363.6 H34.6" stroke="#111" stroke-width="0.8" fill="none" />
<path d="M31.4,355.24999999999994 H28.2 V376.2 H40.5" stroke="#111" stroke-width="0.8" fill="none" />
<path d="M32.2,328.05 H24.5 V365.72499999999997 H28.2" stroke="#111" stroke-width="0.8" fill="none" />
<path d="M40.5,385.2 H34.6 V392.7 H40.5" stroke="#111" stroke-width="0.8" fill="none" />
<path d="M34.6,388.95 H33.2 V400.1 H40.5" stroke="#111" stroke-width="0.8" fill="none" />
<path d="M33.2,394.525 H31.2 V407.5 H40.5" stroke="#111" stroke-width="0.8" fill="none" />
<path d="M40.5,415 H36.2 V422.4 H40.5" stroke="#111" stroke-width="0.8" fill="none" />
<path d="M36.2,418.7 H34.2 V429.8 H40.5" stroke="#111" stroke-width="0.8" fill="none" />
<path d="M31.2,401.0125 H29.6 V424.25 H34.2" stroke="#111" stroke-width="0.8" fill="none" />
<path d="M29.6,412.63125 H28.6 V437.3 H40.5" stroke="#111" stroke-width="0.8" fill="none" />
<path d="M28.6,424.96562500000005 H23.2 V444.7 H40.5" stroke="#111" stroke-width="0.8" fill="none" />
<rect x="316.2" y="297.4" width="123.9" height="126.1" fill="none" stroke="#111" stroke-width="1.1"/>
<line x1="313.40" y1="308.40" x2="316.20" y2="308.40" stroke="#111" stroke-width="0.9" />
<text x="310.20" y="310.20" font-size="5" fill="#222" text-anchor="end" >8.0</text>
<line x1="313.40" y1="346.05" x2="316.20" y2="346.05" stroke="#111" stroke-width="0.9" />
<text x="310.20" y="347.85" font-size="5" fill="#222" text-anchor="end" >7.5</text>
<line x1="313.40" y1="383.70" x2="316.20" y2="383.70" stroke="#111" stroke-width="0.9" />
<text x="310.20" y="385.50" font-size="5" fill="#222" text-anchor="end" >7.0</text>
<line x1="313.40" y1="421.35" x2="316.20" y2="421.35" stroke="#111" stroke-width="0.9" />
<text x="310.20" y="423.15" font-size="5" fill="#222" text-anchor="end" >6.5</text>
<line x1="320.40" y1="423.50" x2="320.40" y2="426.00" stroke="#111" stroke-width="0.9" />
<text x="320.40" y="431.50" font-size="5" fill="#222" text-anchor="middle" >0</text>
<line x1="342.26" y1="423.50" x2="342.26" y2="426.00" stroke="#111" stroke-width="0.9" />
<text x="342.26" y="431.50" font-size="5" fill="#222" text-anchor="middle" >2</text>
<line x1="364.12" y1="423.50" x2="364.12" y2="426.00" stroke="#111" stroke-width="0.9" />
<text x="364.12" y="431.50" font-size="5" fill="#222" text-anchor="middle" >4</text>
<line x1="385.98" y1="423.50" x2="385.98" y2="426.00" stroke="#111" stroke-width="0.9" />
<text x="385.98" y="431.50" font-size="5" fill="#222" text-anchor="middle" >6</text>
<line x1="407.84" y1="423.50" x2="407.84" y2="426.00" stroke="#111" stroke-width="0.9" />
<text x="407.84" y="431.50" font-size="5" fill="#222" text-anchor="middle" >8</text>
<line x1="429.70" y1="423.50" x2="429.70" y2="426.00" stroke="#111" stroke-width="0.9" />
<text x="429.70" y="431.50" font-size="5" fill="#222" text-anchor="middle" >10</text>
<text x="378.20" y="442.60" font-size="7" fill="#222" text-anchor="middle" textLength="77.00" lengthAdjust="spacingAndGlyphs" >EBV latency III gene signature</text>
<text x="0" y="0" font-size="7" fill="#222" text-anchor="middle" textLength="36" lengthAdjust="spacingAndGlyphs" transform="translate(297.2,359.6) rotate(-90)">Rho signature</text>
<text x="322.30" y="304.30" font-size="4" fill="#222" text-anchor="start" textLength="25.00" lengthAdjust="spacingAndGlyphs" >P=2.374e-08</text>
<text x="322.30" y="309.60" font-size="4" fill="#222" text-anchor="start" textLength="13.00" lengthAdjust="spacingAndGlyphs" >R=0.79</text>
<circle cx="421.9" cy="301.9" r="1.15" fill="#7a0f26"/>
<circle cx="416.1" cy="305.4" r="1.15" fill="#7a0f26"/>
<circle cx="418.9" cy="307.6" r="1.15" fill="#7a0f26"/>
<circle cx="423.5" cy="307.6" r="1.15" fill="#7a0f26"/>
<circle cx="429.9" cy="308.1" r="1.15" fill="#7a0f26"/>
<circle cx="415.3" cy="315" r="1.15" fill="#7a0f26"/>
<circle cx="410.3" cy="319.6" r="1.15" fill="#7a0f26"/>
<circle cx="411.5" cy="321.4" r="1.15" fill="#7a0f26"/>
<circle cx="420.4" cy="325.1" r="1.15" fill="#7a0f26"/>
<circle cx="426.9" cy="323.4" r="1.15" fill="#7a0f26"/>
<circle cx="430.4" cy="321.6" r="1.15" fill="#7a0f26"/>
<circle cx="435.8" cy="320" r="1.15" fill="#7a0f26"/>
<circle cx="429.2" cy="325.7" r="1.15" fill="#7a0f26"/>
<circle cx="420.7" cy="328" r="1.15" fill="#7a0f26"/>
<circle cx="419.2" cy="332.3" r="1.15" fill="#7a0f26"/>
<circle cx="420.3" cy="331.6" r="1.15" fill="#7a0f26"/>
<circle cx="422.3" cy="333.9" r="1.15" fill="#7a0f26"/>
<circle cx="435.3" cy="337.7" r="1.15" fill="#7a0f26"/>
<circle cx="425.6" cy="341.5" r="1.15" fill="#7a0f26"/>
<circle cx="404.1" cy="342.6" r="1.15" fill="#7a0f26"/>
<circle cx="418.9" cy="344.2" r="1.15" fill="#7a0f26"/>
<circle cx="421" cy="344.2" r="1.15" fill="#7a0f26"/>
<circle cx="412.7" cy="346.8" r="1.15" fill="#7a0f26"/>
<circle cx="419.6" cy="357.2" r="1.15" fill="#7a0f26"/>
<circle cx="399.2" cy="360.3" r="1.15" fill="#7a0f26"/>
<circle cx="320.5" cy="348.5" r="1.15" fill="#7a0f26"/>
<circle cx="333.2" cy="358.2" r="1.15" fill="#7a0f26"/>
<circle cx="387.9" cy="346.9" r="1.15" fill="#7a0f26"/>
<circle cx="380.3" cy="359.2" r="1.15" fill="#7a0f26"/>
<circle cx="365.7" cy="381.9" r="1.15" fill="#7a0f26"/>
<circle cx="347.3" cy="386.5" r="1.15" fill="#7a0f26"/>
<circle cx="320.5" cy="403.1" r="1.15" fill="#7a0f26"/>
<circle cx="342.3" cy="410.2" r="1.15" fill="#7a0f26"/>
<circle cx="339.2" cy="417.2" r="1.15" fill="#7a0f26"/>
<rect x="0.00" y="0.00" width="520.00" height="1.10" fill="#000" />
<rect x="0.00" y="0.00" width="1.10" height="455.00" fill="#000" />
<rect x="518.40" y="0.00" width="1.60" height="455.00" fill="#000" />
<rect x="0.00" y="453.40" width="520.00" height="1.60" fill="#000" />
</svg></body></html>
